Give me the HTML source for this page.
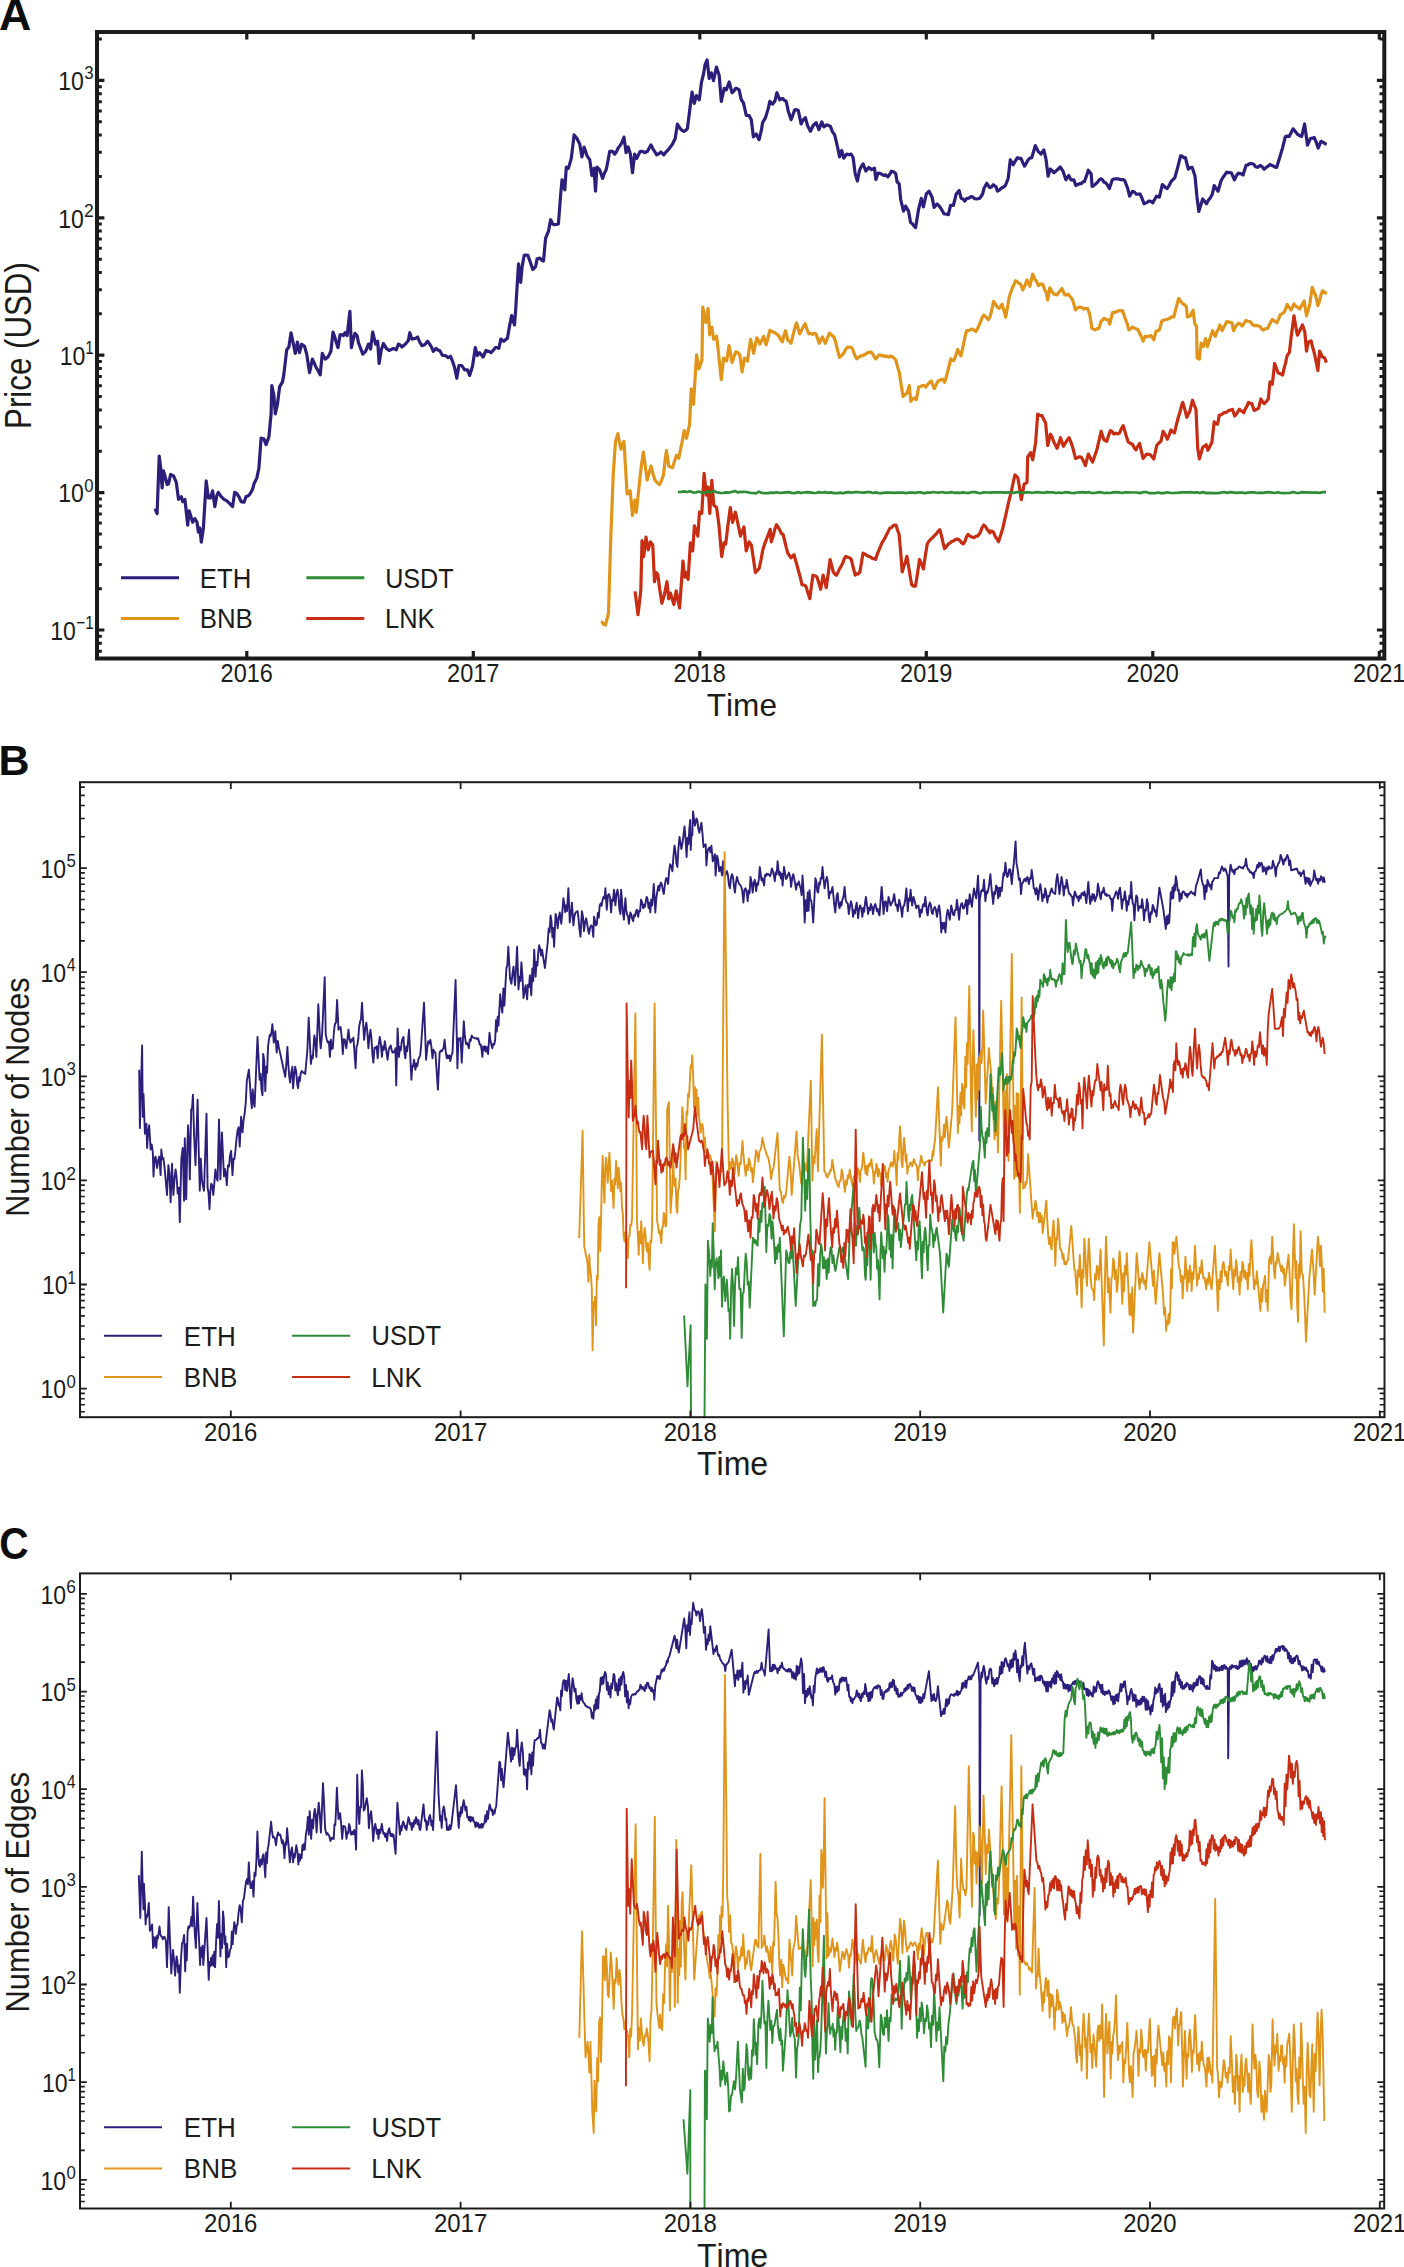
<!DOCTYPE html>
<html><head><meta charset="utf-8"><style>html,body{margin:0;padding:0;background:#fff;width:1404px;height:2267px;overflow:hidden}</style></head><body>
<svg width="1404" height="2267" viewBox="0 0 1404 2267" style="display:block;font-family:'Liberation Sans',sans-serif;font-kerning:none">
<rect width="1404" height="2267" fill="#ffffff"/>
<text transform="matrix(0.44716 0 0 0.43605 -1.114 30.000)" font-size="100" font-weight="bold" fill="#0d0d0d">A</text>
<path d="M155.0 508.7 L157.1 513.7 L159.2 456.0 L160.7 468.1 L162.1 488.0 L163.5 470.9 L165.6 478.1 L167.1 484.5 L168.5 483.8 L170.6 474.5 L173.5 475.9 L176.3 482.3 L178.5 499.4 L181.3 496.6 L182.7 501.6 L184.9 499.4 L187.7 525.1 L189.1 510.8 L190.9 516.4 L192.7 522.2 L194.8 518.7 L197.0 522.2 L198.4 532.2 L199.8 527.9 L201.3 542.2 L203.4 527.9 L206.2 480.9 L208.4 498.0 L210.5 498.0 L212.6 490.9 L214.8 506.6 L216.9 495.2 L218.3 492.3 L221.2 496.6 L224.0 499.4 L226.9 500.9 L229.7 503.7 L232.6 506.6 L234.7 492.3 L236.9 493.7 L239.0 496.9 L241.1 501.6 L244.0 502.3 L246.1 496.6 L247.9 496.0 L249.7 494.4 L252.5 489.5 L254.0 483.8 L256.8 478.1 L258.9 468.1 L261.1 438.2 L263.9 438.9 L266.1 444.6 L268.9 436.8 L271.1 414.0 L271.8 385.5 L273.9 395.4 L275.3 414.0 L277.5 404.0 L279.6 386.9 L282.5 381.9 L283.9 374.1 L286.7 349.9 L288.9 347.0 L291.0 332.8 L293.1 342.7 L295.3 353.4 L297.4 342.0 L299.5 352.7 L301.7 344.2 L304.5 346.3 L306.7 354.1 L309.5 372.6 L312.4 359.1 L314.1 362.7 L315.9 367.0 L318.1 370.7 L320.2 374.8 L322.3 353.4 L325.2 359.1 L328.0 357.0 L330.9 351.3 L333.0 332.1 L334.7 336.8 L336.3 342.6 L338.0 347.7 L340.0 334.9 L341.8 334.7 L343.5 335.6 L345.0 332.7 L347.1 335.6 L349.9 311.4 L351.4 347.7 L353.1 340.0 L354.9 333.4 L357.1 335.6 L358.5 342.7 L360.6 348.3 L362.8 354.1 L365.6 351.3 L368.5 344.1 L370.6 349.1 L372.7 332.0 L375.6 344.1 L377.7 341.3 L379.1 363.4 L381.3 349.8 L383.4 343.4 L386.3 348.4 L389.1 350.5 L391.3 349.6 L393.4 348.4 L396.2 349.8 L398.4 344.1 L400.2 345.0 L401.9 347.0 L403.7 345.6 L405.5 344.1 L408.3 340.6 L409.8 332.7 L411.9 339.1 L413.7 338.6 L415.5 338.4 L417.6 337.0 L419.7 342.0 L421.9 345.6 L424.7 344.8 L427.6 341.3 L429.7 344.1 L431.5 347.0 L433.3 351.3 L436.1 348.4 L437.9 350.2 L439.7 350.5 L442.5 355.5 L445.4 355.5 L448.2 357.7 L450.4 356.2 L452.5 361.2 L454.6 367.6 L456.8 378.3 L458.9 365.5 L461.8 365.5 L464.6 369.8 L467.5 369.8 L469.6 375.5 L472.5 366.2 L475.3 347.7 L477.4 355.5 L479.6 352.7 L481.4 354.7 L483.1 357.0 L486.0 350.5 L487.6 351.3 L489.3 351.4 L491.0 352.7 L493.1 350.5 L495.2 347.7 L497.0 347.6 L498.8 348.4 L500.9 339.1 L503.8 341.3 L505.6 339.6 L507.4 338.4 L509.5 326.3 L511.6 315.6 L514.5 324.9 L515.7 309.4 L518.5 263.8 L520.7 282.4 L522.1 266.7 L524.2 255.3 L526.0 255.0 L527.8 255.3 L529.9 261.0 L532.8 269.5 L535.6 266.7 L537.1 258.9 L539.9 258.1 L541.7 260.3 L543.5 261.0 L545.6 238.2 L548.5 231.1 L550.6 219.7 L552.7 224.0 L554.6 224.7 L556.5 224.4 L558.4 224.0 L560.6 195.5 L562.0 179.8 L564.8 189.8 L566.3 167.0 L568.4 168.4 L571.3 158.4 L574.1 134.9 L577.0 138.5 L579.8 144.2 L581.9 157.0 L584.1 147.0 L586.9 155.6 L589.8 159.9 L591.9 175.5 L594.0 168.4 L595.5 191.2 L596.9 167.0 L599.7 169.8 L602.6 178.4 L604.4 173.3 L606.2 169.8 L607.9 161.3 L609.7 151.3 L612.6 151.3 L614.7 154.2 L616.5 151.5 L618.3 147.7 L620.0 145.7 L621.8 142.8 L624.0 137.1 L626.1 152.7 L628.2 147.0 L630.4 154.2 L632.5 172.7 L634.6 154.2 L636.8 158.4 L638.6 154.4 L640.3 151.3 L642.5 151.4 L644.6 152.7 L647.5 151.3 L649.2 148.0 L651.0 144.9 L652.9 148.8 L654.8 151.7 L656.7 154.9 L658.9 153.8 L661.0 152.0 L663.8 154.9 L666.0 152.0 L668.1 149.9 L670.3 147.1 L672.4 144.2 L675.2 138.5 L677.4 124.2 L680.2 128.5 L682.0 130.3 L683.8 131.4 L685.6 130.5 L687.4 128.5 L688.9 116.8 L690.5 103.7 L692.1 92.0 L694.3 103.4 L696.4 95.6 L699.3 99.8 L701.4 82.7 L703.5 74.2 L705.0 64.9 L707.1 59.9 L709.2 78.5 L711.4 72.8 L713.5 80.6 L716.4 67.1 L719.2 75.6 L721.3 101.3 L724.2 88.4 L726.3 89.9 L729.2 82.0 L732.0 92.7 L733.8 91.2 L735.6 88.4 L737.4 88.7 L739.1 89.9 L741.3 99.8 L743.4 102.7 L746.3 115.5 L749.1 115.5 L751.3 119.8 L753.4 136.9 L756.2 134.0 L759.1 139.7 L761.2 131.2 L762.6 122.6 L765.5 117.6 L768.3 108.4 L769.8 101.3 L772.6 104.1 L774.8 101.3 L776.9 92.7 L779.7 99.8 L782.6 98.4 L784.4 100.3 L786.2 101.3 L788.3 111.2 L791.1 119.8 L792.9 114.9 L794.7 109.8 L796.5 109.7 L798.3 110.5 L801.1 124.0 L803.2 119.8 L805.4 117.6 L807.5 125.5 L810.4 131.2 L813.2 125.5 L816.1 122.6 L818.9 129.7 L821.8 121.9 L823.9 126.9 L826.8 124.8 L828.5 125.6 L830.3 126.2 L832.5 131.9 L834.6 134.7 L836.4 142.2 L838.1 149.7 L839.6 156.8 L841.7 150.4 L843.8 158.2 L846.7 154.0 L848.8 154.7 L851.0 154.0 L853.1 157.5 L855.2 173.9 L857.4 181.0 L859.5 170.3 L861.3 166.4 L863.1 163.9 L865.9 171.1 L868.8 167.5 L871.6 169.6 L874.5 168.2 L875.9 179.6 L878.0 173.2 L880.2 173.4 L882.3 174.6 L884.0 175.5 L885.7 174.8 L887.8 176.9 L889.6 174.6 L891.4 171.2 L893.5 171.7 L895.7 173.4 L897.1 181.9 L899.2 184.0 L900.7 199.7 L903.5 211.1 L905.6 206.1 L908.5 211.1 L910.6 222.5 L912.3 223.7 L914.0 225.9 L915.6 227.5 L918.5 209.7 L921.3 198.3 L923.4 206.8 L926.3 194.0 L929.1 191.2 L932.0 196.9 L934.1 207.5 L937.0 204.0 L939.1 205.9 L941.3 209.0 L944.1 214.0 L946.2 214.0 L948.4 214.7 L950.5 205.4 L953.4 205.4 L956.2 194.0 L959.1 190.5 L961.2 198.3 L963.0 199.0 L964.8 201.1 L966.9 198.3 L968.8 198.2 L970.7 196.7 L972.6 196.9 L974.7 198.7 L976.9 199.0 L979.7 198.3 L982.6 194.0 L984.0 188.3 L986.8 183.3 L989.7 187.6 L991.5 186.9 L993.2 184.8 L996.1 186.9 L997.5 191.2 L999.3 190.2 L1001.1 188.3 L1003.2 187.3 L1005.4 185.5 L1008.2 178.3 L1010.3 159.8 L1013.2 164.8 L1015.3 161.0 L1017.5 157.7 L1019.2 158.3 L1021.0 158.4 L1022.8 162.7 L1024.6 166.2 L1026.4 163.0 L1028.1 159.8 L1029.9 158.1 L1031.7 157.7 L1033.5 151.8 L1035.3 145.6 L1038.1 151.3 L1041.0 154.1 L1043.8 149.9 L1046.0 159.1 L1048.1 176.2 L1050.2 169.1 L1052.0 170.6 L1053.8 172.6 L1055.6 171.4 L1057.4 169.8 L1060.2 167.0 L1063.0 171.2 L1065.9 179.8 L1068.7 175.5 L1070.9 179.8 L1073.7 179.8 L1073.8 179.8 L1075.8 185.6 L1077.7 184.5 L1079.6 183.7 L1081.2 183.7 L1082.8 181.9 L1084.4 181.7 L1086.3 176.4 L1088.3 170.2 L1091.2 174.0 L1092.1 186.5 L1094.0 185.4 L1096.0 183.7 L1097.6 182.1 L1099.2 179.8 L1100.8 178.8 L1102.4 179.6 L1104.0 182.2 L1105.6 182.7 L1107.5 185.1 L1109.4 188.5 L1112.3 179.8 L1114.2 178.9 L1116.2 178.8 L1118.1 178.8 L1119.8 179.4 L1121.4 179.8 L1123.1 179.5 L1124.8 180.8 L1127.7 188.5 L1129.6 196.2 L1132.5 191.3 L1134.4 192.0 L1136.3 194.2 L1138.3 194.2 L1140.2 194.2 L1142.1 198.5 L1144.0 203.8 L1145.6 203.1 L1147.2 202.4 L1148.8 201.0 L1150.8 201.3 L1152.7 202.9 L1154.6 199.5 L1156.5 196.2 L1159.4 197.1 L1162.3 184.6 L1163.9 185.7 L1165.5 187.6 L1167.1 188.5 L1169.0 185.8 L1171.0 181.7 L1172.9 179.7 L1174.8 177.9 L1177.7 167.3 L1180.6 155.8 L1182.2 156.0 L1183.8 157.7 L1185.4 157.7 L1188.3 169.2 L1190.2 167.5 L1192.1 167.3 L1195.0 176.0 L1196.9 196.2 L1198.8 211.5 L1200.8 205.0 L1202.7 199.0 L1204.6 201.3 L1206.5 203.8 L1208.5 200.1 L1210.4 197.7 L1212.3 194.2 L1214.2 185.6 L1216.2 188.5 L1218.1 191.3 L1221.0 180.8 L1222.9 177.5 L1224.8 174.9 L1226.7 172.1 L1228.3 172.7 L1229.9 172.5 L1231.5 173.1 L1234.4 179.8 L1236.3 175.8 L1238.3 173.1 L1239.9 173.7 L1241.5 173.9 L1243.1 175.0 L1246.0 165.4 L1247.9 164.9 L1249.8 163.6 L1251.7 163.5 L1253.7 164.2 L1255.6 166.7 L1257.5 167.3 L1260.4 165.4 L1262.3 167.0 L1264.2 169.2 L1266.2 167.3 L1268.1 166.1 L1270.0 164.4 L1271.7 165.5 L1273.4 166.1 L1275.0 167.1 L1276.7 167.3 L1279.6 157.7 L1282.5 148.1 L1285.4 136.5 L1287.3 136.2 L1289.2 136.5 L1291.2 132.6 L1293.1 128.8 L1294.7 130.6 L1296.3 132.7 L1297.9 134.6 L1299.8 135.7 L1301.7 136.5 L1304.6 124.0 L1307.5 145.2 L1310.4 138.5 L1312.3 138.2 L1314.2 137.5 L1316.2 142.1 L1318.1 148.1 L1321.0 141.3 L1322.9 142.1 L1324.8 143.6 L1326.7 144.2" fill="none" stroke="#2a1f7a" stroke-width="3.2" stroke-linejoin="round" stroke-linecap="butt"/>
<path d="M600.8 622.0 L602.4 622.3 L603.9 624.5 L605.4 625.1 L607.0 619.3 L608.5 612.8 L610.8 537.1 L613.2 475.3 L615.5 441.4 L617.8 433.6 L619.3 441.2 L620.9 449.1 L622.4 445.1 L624.0 441.4 L625.5 467.2 L627.1 493.9 L628.6 492.7 L630.2 490.8 L632.5 515.5 L634.8 500.0 L636.3 512.4 L638.3 493.8 L640.2 475.3 L641.7 463.4 L643.3 452.2 L645.2 465.3 L647.1 480.0 L649.1 472.8 L651.0 466.1 L652.9 473.7 L654.9 480.0 L656.4 481.8 L658.0 483.3 L659.5 484.6 L661.4 480.7 L663.4 475.3 L664.9 462.2 L666.4 450.6 L668.8 466.1 L670.7 467.0 L672.6 467.6 L674.6 460.9 L676.5 455.3 L678.8 458.3 L680.3 450.5 L681.9 442.9 L684.2 430.5 L686.5 438.3 L688.1 430.8 L689.6 424.4 L691.2 388.8 L693.5 404.3 L695.0 379.3 L696.6 354.9 L698.9 368.8 L700.4 364.8 L702.0 359.5 L702.7 307.0 L704.3 315.1 L705.8 322.4 L708.1 308.5 L709.7 334.8 L712.0 327.1 L713.6 339.4 L715.1 338.4 L716.6 336.3 L718.2 350.1 L719.7 364.8 L721.3 379.6 L723.6 358.0 L725.1 360.0 L726.7 361.0 L729.0 345.6 L730.5 353.4 L732.1 362.6 L734.0 356.7 L735.9 351.8 L737.9 352.7 L739.8 354.9 L742.1 371.9 L744.4 358.0 L746.0 360.0 L747.5 361.0 L749.1 349.8 L750.6 339.4 L752.2 346.2 L753.7 353.3 L755.3 344.8 L756.8 337.9 L758.3 340.3 L759.9 344.1 L761.8 340.2 L763.7 336.3 L766.1 344.8 L768.0 338.0 L769.9 330.2 L772.2 331.7 L773.8 332.2 L775.3 333.2 L777.3 334.5 L779.2 336.3 L780.0 338.6 L782.4 341.7 L783.9 335.5 L785.5 330.7 L787.8 340.1 L789.4 341.1 L791.0 343.3 L793.3 333.9 L794.9 327.8 L796.5 322.9 L798.0 327.9 L799.6 333.9 L801.4 330.6 L803.2 326.9 L805.1 323.7 L807.0 329.5 L809.0 333.9 L810.8 333.5 L812.5 334.4 L814.3 333.2 L816.0 333.9 L817.6 338.6 L819.2 343.3 L820.7 340.2 L822.3 337.0 L823.9 340.4 L825.4 343.3 L827.4 338.0 L829.4 333.1 L830.9 334.4 L832.5 336.1 L834.1 337.0 L835.9 343.2 L837.7 350.6 L839.5 357.4 L841.1 356.0 L842.7 354.2 L844.2 352.3 L845.8 349.0 L847.4 347.2 L848.9 347.3 L850.5 347.0 L852.1 348.0 L853.6 351.9 L855.2 355.9 L856.8 358.9 L858.7 357.1 L860.7 355.8 L862.3 355.8 L863.8 355.0 L865.4 354.2 L867.2 352.7 L869.1 352.6 L870.9 351.9 L872.4 353.5 L874.0 356.3 L875.6 358.9 L877.1 357.5 L878.7 355.0 L880.3 354.8 L881.8 355.9 L883.4 355.5 L885.0 356.6 L886.7 356.0 L888.5 357.3 L890.3 355.9 L892.0 356.6 L894.0 358.0 L896.0 360.5 L897.5 366.7 L899.1 371.5 L901.0 383.7 L903.0 396.5 L905.0 394.5 L906.9 393.4 L909.3 385.6 L910.8 401.3 L912.4 399.0 L914.0 398.1 L916.3 399.7 L918.7 387.1 L920.6 386.4 L922.6 385.6 L924.2 385.7 L925.7 387.1 L927.6 384.6 L929.4 382.5 L931.2 380.9 L932.8 385.2 L934.3 388.7 L936.3 384.3 L938.3 380.9 L939.8 380.5 L941.4 379.4 L943.0 379.3 L944.5 382.4 L946.1 377.4 L947.7 371.5 L949.2 365.5 L950.8 358.9 L952.4 360.4 L953.9 360.5 L955.9 355.1 L957.8 349.5 L959.4 353.4 L961.0 355.8 L962.8 347.7 L964.6 338.6 L966.5 330.7 L968.0 330.6 L969.6 330.3 L971.2 329.2 L972.7 329.2 L974.3 330.3 L975.9 331.5 L977.4 328.7 L979.0 325.4 L980.6 321.7 L982.1 317.8 L983.7 315.1 L985.3 316.3 L986.8 317.8 L988.4 319.8 L990.0 317.0 L991.8 309.9 L993.6 301.3 L995.3 303.7 L997.1 307.0 L999.3 308.4 L1002.1 304.2 L1003.9 310.4 L1005.7 317.0 L1007.5 307.3 L1009.2 297.0 L1012.1 288.5 L1013.9 284.8 L1015.6 280.7 L1017.3 281.9 L1019.0 283.3 L1020.6 284.2 L1022.8 289.9 L1024.9 285.5 L1027.0 279.9 L1029.9 286.4 L1032.7 274.2 L1034.6 278.7 L1036.5 281.2 L1038.4 285.6 L1040.6 284.2 L1042.7 284.2 L1044.5 289.2 L1046.3 292.8 L1047.7 299.9 L1049.8 287.8 L1052.0 291.6 L1054.1 294.2 L1057.0 294.9 L1058.6 292.6 L1060.3 290.5 L1061.9 288.5 L1064.8 294.9 L1066.6 294.8 L1068.3 294.2 L1070.5 296.9 L1072.6 299.9 L1075.5 309.9 L1077.6 307.8 L1079.7 307.0 L1081.9 307.7 L1084.0 309.1 L1085.8 308.5 L1087.6 308.4 L1089.7 314.1 L1091.9 328.4 L1093.6 329.2 L1095.4 329.8 L1097.2 328.6 L1099.0 328.4 L1101.1 321.3 L1104.0 318.4 L1106.1 319.5 L1108.2 319.8 L1109.7 324.1 L1112.5 312.7 L1114.6 312.7 L1116.8 311.3 L1118.7 310.9 L1120.6 310.9 L1122.5 310.6 L1124.6 316.8 L1126.8 322.7 L1128.9 329.8 L1130.7 328.9 L1132.5 327.0 L1134.3 328.1 L1136.2 328.9 L1138.1 329.8 L1139.8 334.0 L1141.5 336.6 L1143.1 341.2 L1145.3 336.2 L1147.2 336.7 L1149.1 336.4 L1151.0 335.5 L1153.8 339.8 L1156.0 331.2 L1157.7 330.8 L1159.5 329.8 L1161.7 321.3 L1163.4 320.1 L1165.2 319.8 L1167.4 319.3 L1169.5 318.4 L1171.6 316.9 L1173.8 317.0 L1175.4 310.6 L1177.1 304.2 L1178.7 298.5 L1180.5 301.0 L1182.3 303.3 L1184.3 304.6 L1186.3 306.7 L1187.4 317.0 L1190.3 315.8 L1193.1 310.1 L1194.8 323.8 L1196.5 326.1 L1197.1 358.0 L1199.4 359.1 L1201.1 343.2 L1203.4 346.6 L1205.6 338.6 L1207.4 346.6 L1209.6 339.8 L1212.5 330.7 L1215.3 336.4 L1216.8 331.9 L1218.4 329.2 L1219.9 325.0 L1222.2 330.7 L1223.7 327.2 L1225.2 324.7 L1226.7 321.5 L1229.0 322.1 L1231.9 322.7 L1233.6 330.7 L1235.8 326.1 L1238.7 323.2 L1240.4 323.9 L1242.1 326.1 L1244.1 323.3 L1246.1 320.4 L1248.1 321.4 L1250.1 321.5 L1252.9 325.0 L1254.8 325.8 L1256.7 325.4 L1258.6 326.1 L1260.2 326.8 L1261.7 328.9 L1263.2 330.1 L1264.7 329.2 L1266.2 328.6 L1267.7 328.4 L1269.3 324.9 L1270.8 322.1 L1272.3 319.3 L1273.8 320.7 L1275.3 321.4 L1276.9 322.7 L1278.6 318.9 L1280.3 314.7 L1281.8 313.9 L1283.3 312.9 L1284.8 311.3 L1287.1 304.4 L1289.1 307.4 L1291.1 310.1 L1294.0 303.9 L1295.9 306.4 L1297.8 307.3 L1299.7 309.0 L1301.2 306.4 L1302.7 303.9 L1304.2 301.0 L1306.5 315.8 L1308.2 310.3 L1309.9 303.3 L1312.2 287.4 L1313.9 291.7 L1315.6 295.3 L1317.9 305.6 L1319.4 301.3 L1320.9 295.2 L1322.5 290.8 L1324.0 291.6 L1325.5 293.0 L1327.0 293.6" fill="none" stroke="#e0951a" stroke-width="3.2" stroke-linejoin="round" stroke-linecap="butt"/>
<path d="M635.1 591.4 L638.0 614.7 L640.8 590.8 L642.0 540.7 L643.7 556.6 L646.0 537.2 L648.2 549.8 L650.5 541.8 L652.8 545.2 L654.5 581.7 L656.2 572.6 L657.9 574.8 L659.6 588.5 L661.9 603.3 L664.2 595.4 L667.0 581.7 L668.7 598.8 L670.5 593.1 L672.2 599.1 L673.9 604.5 L676.2 590.8 L677.9 599.9 L679.6 607.9 L681.3 584.2 L683.0 561.2 L684.7 577.1 L685.8 572.6 L688.1 579.4 L690.4 542.9 L692.7 550.9 L694.4 525.8 L696.1 530.7 L697.8 536.1 L699.5 512.2 L701.8 513.3 L704.1 473.4 L706.4 495.1 L708.1 487.1 L709.8 513.3 L711.8 480.3 L713.8 505.3 L716.6 507.6 L718.9 524.7 L721.7 556.6 L724.0 542.9 L725.7 544.1 L728.0 524.7 L730.3 507.6 L732.6 522.4 L735.4 512.2 L737.1 520.0 L738.8 527.9 L740.5 536.1 L742.3 530.9 L744.0 527.0 L746.2 550.9 L749.1 541.8 L751.4 545.2 L753.4 558.7 L755.4 572.6 L757.4 570.5 L759.3 568.0 L761.1 559.3 L762.8 549.8 L764.8 543.6 L766.8 538.4 L768.5 534.0 L770.2 529.3 L771.3 541.8 L773.0 536.5 L774.7 529.8 L776.4 524.7 L778.1 527.0 L779.9 530.2 L781.6 533.8 L783.1 534.4 L784.7 541.0 L786.3 547.6 L787.8 553.2 L789.4 555.4 L791.0 557.9 L792.5 556.1 L794.1 554.8 L795.7 560.8 L797.2 566.0 L798.8 572.0 L800.4 577.6 L801.9 584.6 L803.9 585.0 L805.9 586.1 L807.8 592.6 L809.8 598.7 L811.3 586.9 L812.9 575.2 L814.9 575.7 L816.8 576.7 L818.8 582.8 L820.7 589.3 L823.1 575.2 L824.7 580.9 L826.2 587.7 L828.2 574.0 L830.1 559.5 L831.7 565.6 L833.3 572.0 L834.8 573.9 L836.4 575.2 L838.0 572.2 L839.5 568.9 L841.1 566.4 L842.7 563.1 L844.2 558.9 L845.8 556.4 L847.6 557.3 L849.5 557.7 L851.3 559.5 L853.3 567.8 L855.2 575.2 L856.8 573.7 L858.3 573.9 L859.9 572.0 L861.5 562.2 L863.0 553.2 L864.6 554.0 L866.2 554.8 L867.7 556.1 L869.3 556.4 L870.9 557.3 L872.4 558.6 L874.0 558.4 L875.6 559.5 L877.1 554.7 L878.7 550.6 L880.3 547.0 L881.8 543.1 L883.4 540.7 L885.0 537.9 L886.5 534.7 L888.1 531.7 L889.7 528.2 L891.3 527.8 L892.8 526.0 L894.4 525.1 L896.0 525.0 L897.5 530.0 L899.1 534.4 L900.7 552.4 L902.2 572.0 L903.8 566.6 L905.4 561.7 L906.9 556.4 L908.5 566.0 L910.1 575.4 L911.6 584.6 L913.6 586.1 L915.5 586.1 L917.5 573.6 L919.5 559.5 L921.4 563.9 L923.4 568.9 L925.3 556.1 L927.3 543.8 L929.1 541.0 L930.9 539.1 L932.8 537.6 L934.5 535.5 L936.3 533.9 L938.1 531.3 L939.8 529.7 L941.4 535.4 L943.0 542.6 L944.5 548.5 L946.5 546.5 L948.4 543.8 L950.3 542.8 L952.1 541.2 L953.9 540.7 L955.9 539.4 L957.8 539.1 L959.7 540.3 L961.5 542.8 L963.3 543.8 L964.9 541.4 L966.5 536.8 L968.0 534.4 L969.6 535.9 L971.2 536.7 L972.7 537.3 L974.3 537.6 L975.9 536.1 L977.4 536.2 L979.0 534.4 L980.6 531.8 L982.1 527.6 L983.7 525.0 L985.3 526.3 L986.8 528.8 L988.4 531.0 L990.0 532.9 L990.0 531.1 L991.8 531.0 L993.6 532.5 L995.2 536.3 L996.9 538.9 L998.5 541.7 L1000.7 535.0 L1002.8 528.2 L1005.7 515.4 L1008.5 502.6 L1011.4 491.2 L1013.1 483.0 L1014.9 474.8 L1017.8 477.6 L1019.6 488.0 L1021.3 499.7 L1024.2 484.0 L1027.0 482.6 L1027.7 457.0 L1030.6 452.7 L1032.7 459.8 L1035.6 442.7 L1037.7 414.2 L1039.9 415.4 L1042.0 415.7 L1043.8 419.6 L1045.6 422.8 L1047.7 445.6 L1050.5 434.2 L1052.1 437.0 L1053.7 441.8 L1055.3 444.6 L1057.0 448.4 L1058.7 443.8 L1060.5 437.7 L1063.4 446.3 L1065.3 443.2 L1067.2 440.1 L1069.1 437.7 L1070.8 441.9 L1072.6 447.0 L1075.5 458.4 L1077.4 457.7 L1079.3 456.8 L1081.2 457.0 L1083.3 460.7 L1085.4 465.5 L1088.3 454.1 L1090.4 458.0 L1092.6 462.0 L1094.7 456.0 L1096.8 449.9 L1099.0 440.7 L1101.1 431.3 L1104.0 439.9 L1106.8 441.3 L1108.6 435.4 L1110.4 430.6 L1112.2 431.6 L1113.9 434.2 L1115.8 433.1 L1117.7 433.9 L1119.6 432.8 L1121.4 428.6 L1123.2 425.6 L1124.9 431.4 L1126.5 436.7 L1128.2 442.0 L1130.3 443.3 L1132.5 444.2 L1134.2 447.7 L1136.0 449.9 L1137.8 446.3 L1139.6 443.4 L1141.4 451.3 L1143.1 458.4 L1144.9 456.3 L1146.7 454.1 L1148.5 454.3 L1150.3 454.8 L1152.0 456.8 L1153.8 459.1 L1156.7 445.6 L1158.8 443.0 L1160.9 441.3 L1163.1 431.3 L1165.2 434.6 L1167.4 439.2 L1169.1 435.2 L1170.9 429.9 L1172.7 431.6 L1174.5 432.8 L1176.3 425.1 L1178.0 418.5 L1180.2 411.2 L1182.3 402.8 L1182.8 402.5 L1184.8 409.4 L1186.8 417.3 L1189.7 411.6 L1192.5 400.2 L1194.2 405.0 L1196.0 409.3 L1197.7 448.0 L1199.4 458.9 L1201.1 453.0 L1202.8 446.9 L1204.5 446.2 L1206.2 444.6 L1207.9 450.3 L1209.9 446.2 L1211.9 442.3 L1214.2 421.8 L1215.9 423.7 L1217.6 424.1 L1219.3 415.0 L1220.9 414.8 L1222.5 413.8 L1224.0 412.7 L1225.6 412.7 L1227.3 411.5 L1229.0 410.4 L1230.7 410.2 L1232.4 409.3 L1234.7 416.1 L1236.2 414.3 L1237.7 412.0 L1239.3 409.3 L1240.8 410.6 L1242.3 411.4 L1243.8 412.7 L1245.3 408.9 L1246.9 406.4 L1248.4 402.5 L1250.1 403.3 L1251.8 403.6 L1254.1 410.4 L1255.6 409.9 L1257.1 409.0 L1258.6 408.1 L1260.9 399.0 L1262.6 401.8 L1264.3 403.6 L1266.3 401.5 L1268.3 399.0 L1270.0 381.9 L1272.3 384.2 L1274.6 363.7 L1276.3 367.9 L1278.0 372.8 L1279.5 373.4 L1281.0 374.0 L1282.6 375.1 L1284.1 368.3 L1285.6 362.8 L1287.1 355.7 L1289.4 352.3 L1291.1 337.5 L1294.0 315.8 L1295.7 325.9 L1297.4 335.2 L1299.1 332.0 L1300.8 328.3 L1302.5 325.0 L1304.8 331.8 L1306.5 351.2 L1308.2 342.1 L1311.1 340.9 L1312.6 347.0 L1314.1 352.4 L1315.6 359.1 L1317.9 370.5 L1319.6 351.2 L1322.5 356.9 L1324.7 358.0 L1326.4 362.6" fill="none" stroke="#c62d13" stroke-width="3.2" stroke-linejoin="round" stroke-linecap="butt"/>
<path d="M678.0 491.8 L681.0 492.0 L684.0 491.4 L687.0 492.0 L690.0 491.2 L693.0 492.5 L696.0 492.4 L699.0 491.5 L702.0 492.8 L705.0 492.5 L708.0 491.4 L711.0 492.5 L714.0 490.9 L717.0 492.4 L720.0 492.9 L723.0 493.0 L726.0 492.4 L729.0 492.7 L732.0 491.7 L735.0 491.1 L738.0 492.4 L741.0 491.8 L744.0 491.8 L747.0 492.0 L750.0 492.8 L753.0 493.0 L756.0 493.3 L759.0 491.6 L762.0 493.0 L765.0 493.2 L768.0 493.1 L771.0 492.7 L774.0 492.9 L777.0 492.3 L780.0 493.0 L783.0 492.7 L786.0 492.3 L789.0 492.1 L792.0 493.0 L795.0 493.2 L798.0 492.1 L801.0 493.0 L804.0 492.5 L807.0 492.2 L810.0 492.4 L813.0 492.9 L816.0 493.0 L819.0 492.1 L822.0 492.7 L825.0 492.1 L828.0 492.9 L831.0 492.4 L834.0 493.1 L837.0 493.2 L840.0 492.6 L843.0 493.2 L846.0 492.4 L849.0 492.1 L852.0 492.7 L855.0 492.0 L858.0 492.2 L861.0 492.5 L864.0 492.7 L867.0 492.2 L870.0 492.1 L873.0 493.0 L876.0 492.4 L879.0 493.2 L882.0 493.1 L885.0 492.5 L888.0 492.6 L891.0 492.6 L894.0 492.8 L897.0 492.7 L900.0 492.7 L903.0 492.7 L906.0 493.1 L909.0 492.6 L912.0 492.5 L915.0 492.9 L918.0 492.3 L921.0 492.4 L924.0 493.2 L927.0 492.6 L930.0 492.7 L933.0 492.0 L936.0 492.5 L939.0 492.7 L942.0 492.0 L945.0 492.7 L948.0 492.8 L951.0 492.1 L954.0 492.8 L957.0 492.6 L960.0 492.8 L963.0 492.4 L966.0 492.8 L969.0 492.9 L972.0 492.0 L975.0 492.1 L978.0 492.8 L981.0 493.2 L984.0 492.3 L987.0 492.5 L990.0 492.7 L993.0 492.4 L996.0 492.4 L999.0 492.4 L1002.0 492.4 L1005.0 492.7 L1008.0 492.4 L1011.0 492.5 L1014.0 492.9 L1017.0 492.0 L1020.0 492.7 L1023.0 492.9 L1026.0 492.4 L1029.0 492.3 L1032.0 493.0 L1035.0 492.3 L1038.0 492.2 L1041.0 492.5 L1044.0 492.8 L1047.0 492.1 L1050.0 492.4 L1053.0 492.4 L1056.0 493.0 L1059.0 492.5 L1062.0 493.0 L1065.0 492.2 L1068.0 492.4 L1071.0 492.8 L1074.0 493.1 L1077.0 492.5 L1080.0 492.3 L1083.0 492.1 L1086.0 492.6 L1089.0 492.2 L1092.0 493.0 L1095.0 493.0 L1098.0 492.2 L1101.0 492.3 L1104.0 493.0 L1107.0 492.8 L1110.0 493.0 L1113.0 492.4 L1116.0 492.2 L1119.0 492.4 L1122.0 493.0 L1125.0 492.3 L1128.0 492.4 L1131.0 492.5 L1134.0 492.5 L1137.0 492.5 L1140.0 493.1 L1143.0 492.2 L1146.0 492.0 L1149.0 493.1 L1152.0 493.1 L1155.0 493.2 L1158.0 492.5 L1161.0 493.1 L1164.0 493.1 L1167.0 492.3 L1170.0 492.9 L1173.0 493.0 L1176.0 492.8 L1179.0 492.6 L1182.0 492.3 L1185.0 492.4 L1188.0 492.3 L1191.0 492.1 L1194.0 492.7 L1197.0 492.3 L1200.0 493.0 L1203.0 492.1 L1206.0 493.1 L1209.0 492.8 L1212.0 493.1 L1215.0 493.1 L1218.0 493.1 L1221.0 492.7 L1224.0 492.0 L1227.0 492.9 L1230.0 492.2 L1233.0 492.4 L1236.0 492.8 L1239.0 492.6 L1242.0 492.5 L1245.0 493.1 L1248.0 492.7 L1251.0 492.4 L1254.0 492.3 L1257.0 493.0 L1260.0 492.6 L1263.0 492.9 L1266.0 492.4 L1269.0 492.2 L1272.0 492.6 L1275.0 493.0 L1278.0 492.2 L1281.0 493.0 L1284.0 493.1 L1287.0 493.0 L1290.0 493.0 L1293.0 492.0 L1296.0 492.8 L1299.0 493.0 L1302.0 492.1 L1305.0 492.3 L1308.0 492.3 L1311.0 492.6 L1314.0 492.5 L1317.0 492.6 L1320.0 492.9 L1323.0 492.0 L1326.0 492.1" fill="none" stroke="#2e8b36" stroke-width="2.7" stroke-linejoin="round" stroke-linecap="butt"/>
<rect x="97.00" y="32.00" width="1287.30" height="626.50" fill="none" stroke="#1b1b19" stroke-width="4.0"/>
<path d="M97.00 630.00H104.40M1384.30 630.00H1376.90M97.00 492.60H104.40M1384.30 492.60H1376.90M97.00 355.20H104.40M1384.30 355.20H1376.90M97.00 217.80H104.40M1384.30 217.80H1376.90M97.00 80.40H104.40M1384.30 80.40H1376.90M246.80 658.50V651.10M246.80 32.00V39.40M473.30 658.50V651.10M473.30 32.00V39.40M699.80 658.50V651.10M699.80 32.00V39.40M926.30 658.50V651.10M926.30 32.00V39.40M1152.80 658.50V651.10M1152.80 32.00V39.40M1379.30 658.50V651.10M1379.30 32.00V39.40" stroke="#1b1b19" stroke-width="3.2" fill="none"/>
<path d="M97.00 651.28H101.80M1384.30 651.28H1379.50M97.00 643.32H101.80M1384.30 643.32H1379.50M97.00 636.29H101.80M1384.30 636.29H1379.50M97.00 588.64H101.80M1384.30 588.64H1379.50M97.00 564.44H101.80M1384.30 564.44H1379.50M97.00 547.28H101.80M1384.30 547.28H1379.50M97.00 533.96H101.80M1384.30 533.96H1379.50M97.00 523.08H101.80M1384.30 523.08H1379.50M97.00 513.88H101.80M1384.30 513.88H1379.50M97.00 505.92H101.80M1384.30 505.92H1379.50M97.00 498.89H101.80M1384.30 498.89H1379.50M97.00 451.24H101.80M1384.30 451.24H1379.50M97.00 427.04H101.80M1384.30 427.04H1379.50M97.00 409.88H101.80M1384.30 409.88H1379.50M97.00 396.56H101.80M1384.30 396.56H1379.50M97.00 385.68H101.80M1384.30 385.68H1379.50M97.00 376.48H101.80M1384.30 376.48H1379.50M97.00 368.52H101.80M1384.30 368.52H1379.50M97.00 361.49H101.80M1384.30 361.49H1379.50M97.00 313.84H101.80M1384.30 313.84H1379.50M97.00 289.64H101.80M1384.30 289.64H1379.50M97.00 272.48H101.80M1384.30 272.48H1379.50M97.00 259.16H101.80M1384.30 259.16H1379.50M97.00 248.28H101.80M1384.30 248.28H1379.50M97.00 239.08H101.80M1384.30 239.08H1379.50M97.00 231.12H101.80M1384.30 231.12H1379.50M97.00 224.09H101.80M1384.30 224.09H1379.50M97.00 176.44H101.80M1384.30 176.44H1379.50M97.00 152.24H101.80M1384.30 152.24H1379.50M97.00 135.08H101.80M1384.30 135.08H1379.50M97.00 121.76H101.80M1384.30 121.76H1379.50M97.00 110.88H101.80M1384.30 110.88H1379.50M97.00 101.68H101.80M1384.30 101.68H1379.50M97.00 93.72H101.80M1384.30 93.72H1379.50M97.00 86.69H101.80M1384.30 86.69H1379.50M97.00 39.04H101.80M1384.30 39.04H1379.50" stroke="#1b1b19" stroke-width="3.0" fill="none"/>
<text transform="matrix(0.15355 0 0 0.18605 76.243 629.200)" font-size="100" font-weight="normal" fill="#1b1b19">−1</text>
<text transform="matrix(0.23068 0 0 0.26130 50.243 639.745)" font-size="100" font-weight="normal" fill="#1b1b19">10</text>
<text transform="matrix(0.16735 0 0 0.18079 84.346 491.623)" font-size="100" font-weight="normal" fill="#1b1b19">0</text>
<text transform="matrix(0.23068 0 0 0.26130 58.243 502.345)" font-size="100" font-weight="normal" fill="#1b1b19">10</text>
<text transform="matrix(0.15076 0 0 0.18605 85.352 354.400)" font-size="100" font-weight="normal" fill="#1b1b19">1</text>
<text transform="matrix(0.23068 0 0 0.26130 59.743 364.945)" font-size="100" font-weight="normal" fill="#1b1b19">10</text>
<text transform="matrix(0.17561 0 0 0.18332 84.117 217.000)" font-size="100" font-weight="normal" fill="#1b1b19">2</text>
<text transform="matrix(0.23068 0 0 0.26130 58.243 227.545)" font-size="100" font-weight="normal" fill="#1b1b19">10</text>
<text transform="matrix(0.16873 0 0 0.18079 84.357 79.423)" font-size="100" font-weight="normal" fill="#1b1b19">3</text>
<text transform="matrix(0.23068 0 0 0.26130 58.243 90.145)" font-size="100" font-weight="normal" fill="#1b1b19">10</text>
<text transform="matrix(0.23470 0 0 0.25423 220.620 681.752)" font-size="100" font-weight="normal" fill="#1b1b19">2016</text>
<text transform="matrix(0.23540 0 0 0.25423 447.116 681.752)" font-size="100" font-weight="normal" fill="#1b1b19">2017</text>
<text transform="matrix(0.23465 0 0 0.25423 673.620 681.752)" font-size="100" font-weight="normal" fill="#1b1b19">2018</text>
<text transform="matrix(0.23508 0 0 0.25423 900.118 681.752)" font-size="100" font-weight="normal" fill="#1b1b19">2019</text>
<text transform="matrix(0.23416 0 0 0.25423 1126.622 681.752)" font-size="100" font-weight="normal" fill="#1b1b19">2020</text>
<text transform="matrix(0.23524 0 0 0.25423 1353.117 681.752)" font-size="100" font-weight="normal" fill="#1b1b19">2021</text>
<text transform="matrix(0.31597 0 0 0.32000 706.790 715.587)" font-size="100" font-weight="normal" fill="#1b1b19">Time</text>
<text transform="matrix(0 -0.31294 0.37353 0 31.067 428.967)" font-size="100" font-weight="normal" fill="#1b1b19">Price (USD)</text>
<path d="M121.0 577.8H179.0" stroke="#2a1f7a" stroke-width="3"/>
<text transform="matrix(0.25757 0 0 0.28344 199.787 587.800)" font-size="100" font-weight="normal" fill="#1b1b19">ETH</text>
<path d="M121.0 618.4H179.0" stroke="#e0951a" stroke-width="3"/>
<text transform="matrix(0.25815 0 0 0.28344 199.782 628.400)" font-size="100" font-weight="normal" fill="#1b1b19">BNB</text>
<path d="M306.3 577.8H364.3" stroke="#2e8b36" stroke-width="3"/>
<text transform="matrix(0.25171 0 0 0.27542 385.158 587.531)" font-size="100" font-weight="normal" fill="#1b1b19">USDT</text>
<path d="M306.3 618.4H364.3" stroke="#c62d13" stroke-width="3"/>
<text transform="matrix(0.25431 0 0 0.28344 385.014 628.400)" font-size="100" font-weight="normal" fill="#1b1b19">LNK</text>
<text transform="matrix(0.42960 0 0 0.43169 -1.474 774.700)" font-size="100" font-weight="bold" fill="#0d0d0d">B</text>
<clipPath id="cB"><rect x="80.0" y="782.2" width="1304.5" height="635.0"/></clipPath>
<g clip-path="url(#cB)">
<path d="M139.2 1069.7 L139.9 1128.1 L142.1 1045.5 L142.8 1116.7 L143.5 1093.9 L144.9 1133.8 L146.4 1123.8 L147.1 1148.0 L148.1 1132.3 L149.2 1125.2 L150.6 1149.5 L151.7 1144.4 L152.8 1152.3 L153.5 1176.5 L154.5 1158.6 L155.6 1156.6 L157.0 1168.0 L158.1 1160.4 L159.2 1156.6 L160.6 1175.1 L161.3 1149.5 L162.4 1159.4 L163.4 1158.0 L164.5 1167.1 L165.6 1179.4 L167.0 1195.0 L168.4 1165.1 L169.5 1174.0 L170.6 1202.2 L172.0 1163.7 L173.4 1195.0 L174.5 1179.0 L175.6 1169.4 L176.6 1177.2 L177.7 1193.6 L178.8 1187.6 L179.8 1222.1 L181.3 1159.4 L182.7 1148.0 L184.1 1200.7 L184.8 1138.1 L186.2 1199.3 L187.2 1151.5 L188.1 1125.2 L188.9 1139.9 L189.8 1179.4 L191.2 1109.6 L192.1 1107.8 L192.9 1094.6 L194.1 1135.2 L195.5 1165.1 L196.6 1129.7 L197.6 1099.6 L198.7 1149.8 L199.8 1190.8 L200.8 1158.8 L201.9 1179.4 L203.0 1186.6 L204.0 1190.8 L206.5 1113.8 L207.6 1187.9 L208.5 1192.8 L209.5 1209.3 L210.3 1191.7 L211.2 1183.6 L212.2 1185.5 L213.3 1195.0 L214.4 1182.2 L215.4 1169.4 L216.5 1177.7 L217.6 1180.8 L219.0 1119.5 L220.4 1179.4 L221.9 1132.4 L224.0 1176.5 L224.9 1169.0 L225.9 1174.5 L226.8 1185.1 L227.9 1165.5 L229.0 1166.6 L230.0 1155.7 L231.1 1150.9 L232.5 1175.1 L233.5 1158.6 L234.4 1158.9 L235.4 1150.9 L236.5 1138.8 L237.5 1130.9 L238.6 1127.3 L239.7 1146.6 L241.1 1116.7 L242.5 1132.4 L243.6 1119.8 L244.6 1113.8 L245.7 1103.7 L246.8 1081.1 L248.9 1069.7 L249.9 1084.0 L250.8 1097.4 L251.8 1108.1 L252.7 1089.5 L253.7 1102.6 L254.6 1106.7 L257.5 1036.9 L259.6 1079.7 L260.6 1073.9 L261.5 1089.6 L262.5 1095.3 L263.2 1054.0 L264.2 1060.4 L265.3 1091.1 L266.2 1066.7 L267.1 1072.9 L268.0 1047.2 L268.9 1039.8 L269.8 1035.0 L270.6 1036.2 L271.5 1032.1 L272.4 1024.1 L273.8 1042.6 L275.3 1031.2 L276.7 1052.6 L277.8 1040.9 L278.8 1046.9 L285.2 1076.8 L286.3 1064.6 L287.4 1046.9 L288.3 1064.4 L289.3 1077.0 L290.2 1082.5 L291.3 1072.6 L292.4 1066.8 L293.1 1088.2 L294.1 1075.5 L295.2 1066.8 L296.2 1071.8 L297.1 1083.2 L298.1 1088.2 L299.0 1077.2 L299.8 1081.4 L300.7 1073.4 L301.6 1071.1 L302.5 1071.7 L303.4 1072.9 L304.3 1072.4 L305.2 1074.0 L306.3 1062.0 L307.3 1051.2 L308.7 1017.7 L310.9 1064.0 L311.9 1056.3 L312.8 1058.3 L314.3 1035.5 L315.3 1040.9 L316.4 1056.9 L318.3 1004.2 L320.0 1039.8 L320.7 1048.3 L322.1 1034.1 L324.7 977.1 L325.7 1034.1 L326.7 1039.2 L327.8 1042.6 L328.9 1041.5 L329.9 1056.9 L330.9 1039.6 L331.8 1049.1 L332.8 1048.3 L333.9 1032.0 L334.9 1024.1 L336.0 1022.6 L337.1 999.9 L338.5 1029.8 L339.6 1027.7 L340.6 1027.0 L341.7 1037.0 L342.8 1054.0 L343.8 1039.2 L344.9 1039.8 L346.3 1048.3 L347.4 1039.1 L348.5 1029.8 L349.5 1039.4 L350.6 1042.6 L351.5 1039.4 L352.5 1040.5 L353.4 1037.6 L355.6 1068.3 L356.5 1047.0 L357.4 1044.5 L358.3 1038.5 L359.1 1027.0 L360.1 1021.8 L361.0 1019.1 L362.0 1002.7 L363.1 1022.1 L364.1 1039.8 L365.2 1029.4 L366.3 1022.7 L367.3 1031.1 L368.4 1048.3 L369.5 1036.2 L370.5 1029.8 L371.5 1038.8 L372.4 1054.1 L373.4 1062.6 L374.5 1047.7 L375.5 1048.3 L376.6 1046.3 L377.7 1058.3 L378.7 1044.6 L379.8 1036.9 L380.9 1043.9 L381.9 1056.9 L382.9 1046.5 L383.8 1049.8 L384.8 1041.2 L385.7 1047.2 L386.7 1053.9 L387.6 1059.7 L388.7 1049.8 L389.8 1046.9 L390.7 1045.4 L391.7 1050.3 L392.6 1052.6 L393.6 1051.2 L394.5 1052.6 L395.5 1048.3 L396.2 1085.4 L397.6 1028.4 L399.0 1056.9 L399.9 1047.0 L400.8 1050.3 L401.7 1041.8 L402.6 1038.3 L403.5 1037.1 L404.5 1053.2 L405.4 1058.3 L406.3 1046.4 L407.2 1051.4 L408.1 1040.4 L409.0 1029.8 L411.4 1079.7 L412.3 1065.9 L413.1 1066.6 L414.0 1059.7 L415.4 1069.7 L416.4 1063.4 L417.3 1066.2 L418.3 1059.7 L419.2 1057.6 L420.2 1055.4 L421.1 1045.5 L424.0 1002.7 L426.1 1059.7 L427.2 1048.4 L428.2 1041.2 L429.3 1043.5 L430.4 1039.8 L431.4 1046.9 L432.5 1058.3 L433.5 1049.8 L434.4 1051.8 L435.4 1052.6 L437.9 1089.6 L439.6 1052.6 L440.6 1050.7 L441.5 1051.6 L442.5 1049.7 L443.5 1048.4 L444.6 1039.8 L445.7 1051.2 L446.8 1058.3 L447.6 1055.3 L448.5 1058.1 L449.4 1055.4 L450.3 1061.1 L451.4 1055.8 L452.5 1052.6 L455.6 979.9 L457.4 1068.3 L458.5 1038.2 L459.6 1039.8 L460.6 1037.9 L461.7 1062.6 L462.8 1042.3 L463.8 1021.3 L464.9 1036.5 L466.0 1044.0 L466.9 1042.7 L467.9 1045.1 L468.8 1048.3 L469.8 1039.4 L470.7 1040.9 L471.7 1035.5 L472.6 1037.4 L473.5 1037.7 L474.4 1038.0 L475.2 1038.3 L476.2 1038.1 L477.1 1039.2 L478.1 1038.3 L478.9 1041.3 L479.8 1044.8 L480.7 1044.4 L481.5 1049.0 L482.4 1056.9 L483.2 1046.5 L484.1 1050.1 L484.9 1046.3 L485.8 1051.7 L486.6 1046.9 L488.1 1054.0 L489.5 1032.6 L490.4 1040.1 L491.4 1044.5 L492.3 1048.3 L493.3 1044.0 L494.2 1044.5 L495.2 1039.8 L496.0 1020.1 L496.8 1031.5 L497.7 1016.7 L498.5 1025.6 L499.3 1010.5 L500.2 994.2 L501.2 1004.6 L502.3 1012.7 L503.4 988.5 L504.4 1005.6 L505.4 985.5 L506.4 968.1 L507.3 965.2 L508.3 946.7 L510.0 978.1 L511.4 983.8 L512.5 973.7 L513.5 966.7 L515.0 985.2 L516.0 969.3 L517.1 946.7 L518.5 989.5 L519.5 976.7 L520.4 981.1 L521.4 962.4 L522.4 976.0 L523.5 998.0 L524.6 990.8 L525.6 985.2 L527.1 999.4 L528.0 984.8 L529.0 987.0 L529.9 975.2 L531.3 995.2 L532.3 968.4 L533.2 981.0 L534.2 949.6 L535.6 976.6 L536.5 961.9 L537.4 965.6 L538.3 951.8 L539.2 945.3 L540.1 948.8 L541.1 955.5 L542.0 949.6 L544.9 968.1 L547.7 942.5 L548.7 928.4 L549.6 932.1 L550.6 915.4 L551.5 921.5 L552.4 937.2 L553.2 927.9 L554.1 946.7 L555.6 914.0 L556.6 918.0 L557.7 928.2 L558.8 917.3 L559.8 912.5 L561.3 923.9 L562.3 912.2 L563.4 898.3 L564.3 904.0 L565.2 912.1 L566.1 905.5 L567.0 911.1 L568.4 888.3 L569.8 922.5 L570.9 913.4 L571.9 902.6 L573.4 925.4 L574.4 916.4 L575.5 912.5 L576.6 911.8 L577.6 911.1 L578.6 919.2 L579.5 929.7 L580.5 936.8 L581.9 911.1 L583.0 917.0 L584.0 931.1 L585.1 922.3 L586.2 918.2 L587.1 923.3 L588.1 929.9 L589.0 933.9 L590.1 927.7 L591.2 925.4 L592.2 926.6 L593.3 936.8 L594.0 916.8 L595.0 920.7 L595.9 925.6 L596.9 923.9 L597.8 913.0 L598.8 917.6 L599.7 905.4 L600.7 903.4 L601.6 905.8 L602.6 899.7 L603.5 896.9 L604.5 898.6 L605.4 888.3 L606.8 909.7 L607.9 895.3 L609.0 894.0 L610.0 897.4 L611.1 912.5 L612.1 899.7 L613.0 900.8 L614.0 889.7 L615.4 905.4 L616.5 893.6 L617.5 889.7 L618.5 896.5 L619.4 909.1 L620.4 914.0 L621.1 889.7 L622.0 900.8 L623.0 913.4 L623.9 919.7 L625.4 898.3 L626.2 909.9 L627.1 914.8 L628.0 916.1 L628.9 923.9 L630.3 912.5 L631.3 914.5 L632.2 918.6 L633.2 921.1 L634.1 914.9 L635.0 916.2 L635.9 911.8 L636.8 909.7 L638.2 916.8 L639.1 910.7 L640.1 911.3 L641.0 899.7 L642.1 902.4 L643.2 908.3 L644.1 904.6 L644.9 906.9 L645.8 901.3 L646.7 896.9 L647.6 899.3 L648.5 908.0 L649.4 902.6 L650.3 912.5 L651.2 899.6 L652.1 905.6 L653.0 895.2 L653.8 884.0 L655.3 912.5 L656.3 898.0 L657.4 891.2 L658.3 886.0 L659.2 890.6 L660.1 884.8 L661.0 882.6 L661.9 884.6 L662.9 890.5 L663.8 894.0 L664.9 884.5 L666.0 878.3 L667.0 878.5 L668.1 884.0 L669.2 870.2 L670.2 864.1 L671.3 866.4 L672.4 871.2 L673.4 856.6 L674.5 845.6 L675.5 851.6 L676.4 863.4 L677.4 867.0 L678.4 848.6 L679.5 837.0 L680.4 842.4 L681.4 849.0 L682.3 844.2 L683.4 835.9 L684.5 826.4 L685.5 838.0 L686.6 857.0 L687.5 837.9 L688.4 844.3 L689.3 829.4 L690.2 819.9 L690.7 849.9 L691.5 833.5 L692.3 835.2 L693.1 811.4 L694.1 820.5 L695.0 825.6 L696.4 818.5 L697.4 820.7 L698.3 828.6 L699.3 832.8 L700.3 827.9 L701.4 822.8 L702.5 833.8 L703.5 847.0 L704.6 845.0 L705.7 844.2 L706.4 865.5 L707.5 851.6 L708.5 848.4 L709.5 847.6 L710.4 852.3 L711.4 845.6 L712.8 861.3 L713.9 858.2 L714.9 854.1 L715.6 875.5 L717.1 855.6 L718.1 860.0 L719.2 871.2 L720.6 867.0 L722.1 875.5 L723.0 861.3 L724.0 869.2 L724.9 876.9 L726.0 873.4 L727.0 871.2 L728.0 875.4 L728.9 884.8 L729.9 888.3 L731.0 877.7 L732.0 874.1 L733.0 877.4 L733.9 885.3 L734.9 892.6 L735.9 882.8 L737.0 876.9 L738.1 881.5 L739.1 884.0 L740.2 884.9 L741.3 886.9 L742.4 891.8 L743.4 902.6 L744.5 889.5 L745.6 888.3 L746.6 891.5 L747.7 901.1 L748.6 890.5 L749.6 893.3 L750.5 876.9 L751.6 882.3 L752.7 892.6 L753.7 883.0 L754.8 879.8 L756.2 891.2 L757.1 883.2 L758.0 884.9 L758.9 878.9 L759.8 867.0 L760.7 873.9 L761.5 880.3 L762.4 878.1 L763.2 881.7 L764.1 885.5 L764.9 875.1 L765.8 876.1 L766.6 873.6 L767.5 874.7 L768.3 874.1 L769.2 874.8 L770.1 876.3 L771.0 873.2 L771.9 868.4 L772.9 871.1 L773.8 874.9 L774.8 881.2 L775.7 872.3 L776.7 874.3 L777.6 861.3 L778.4 868.8 L779.3 875.4 L780.1 872.1 L780.9 878.5 L781.8 873.7 L782.6 885.5 L784.0 867.0 L785.0 872.7 L785.9 879.0 L786.9 878.3 L787.9 874.8 L789.0 872.6 L790.1 876.5 L791.1 886.9 L792.2 878.0 L793.3 874.1 L794.2 878.8 L795.2 883.8 L796.1 889.7 L797.0 883.8 L797.9 884.7 L798.8 881.5 L799.7 885.5 L800.6 888.0 L801.6 895.2 L802.5 875.5 L803.6 891.6 L804.7 922.5 L805.7 900.2 L806.8 911.1 L807.7 892.5 L808.6 910.6 L809.5 890.2 L810.4 899.7 L811.3 900.8 L812.3 909.9 L813.2 922.5 L815.4 878.3 L816.3 881.0 L817.3 891.4 L818.2 892.6 L819.1 882.8 L819.9 884.6 L820.8 877.9 L821.6 878.7 L822.5 867.0 L823.5 878.4 L824.6 888.3 L825.7 881.2 L826.8 876.9 L827.8 881.7 L828.9 898.3 L829.8 892.0 L830.7 893.3 L831.6 890.3 L832.5 886.9 L833.4 896.0 L834.3 905.0 L835.3 912.5 L836.7 895.4 L837.7 893.1 L838.6 904.2 L839.6 908.3 L840.5 902.2 L841.5 905.5 L842.4 899.7 L843.5 896.7 L844.6 886.9 L845.6 899.2 L846.7 902.6 L847.8 903.6 L848.8 914.0 L849.9 906.3 L851.0 901.1 L852.0 905.6 L853.1 916.8 L854.0 910.1 L854.9 913.6 L855.8 906.4 L856.7 902.6 L858.1 918.2 L859.2 908.6 L860.2 905.4 L861.3 908.7 L862.4 916.8 L863.3 907.8 L864.1 911.9 L865.0 903.3 L865.9 896.9 L867.0 905.2 L868.1 914.0 L869.0 907.6 L870.0 910.3 L870.9 904.0 L872.0 907.1 L873.0 914.0 L874.1 907.1 L875.2 904.0 L876.0 906.1 L876.9 911.0 L877.7 908.9 L878.6 913.3 L879.5 915.4 L880.5 902.0 L881.6 886.9 L881.7 887.0 L882.6 898.7 L883.6 914.0 L884.6 902.0 L885.7 901.2 L887.1 911.2 L888.5 896.9 L889.6 901.3 L890.7 905.5 L891.8 902.9 L892.8 901.2 L894.2 894.1 L895.7 905.5 L896.7 904.6 L897.8 911.2 L899.2 899.8 L900.2 904.2 L901.1 908.7 L902.1 916.9 L903.1 906.6 L904.2 905.5 L905.3 899.1 L906.4 888.4 L907.8 911.2 L908.7 898.4 L909.7 900.8 L910.6 889.8 L912.1 905.5 L913.5 896.9 L914.4 900.3 L915.4 904.3 L916.3 908.3 L917.4 906.1 L918.5 905.5 L919.9 916.9 L920.8 909.7 L921.8 912.5 L922.7 905.5 L923.6 903.9 L924.4 906.3 L925.3 896.9 L926.1 904.2 L926.9 912.2 L927.7 915.4 L928.8 906.0 L929.9 902.6 L930.8 904.7 L931.8 912.9 L932.7 914.0 L933.8 908.6 L934.8 906.9 L935.9 909.5 L937.0 916.9 L938.0 909.9 L939.1 905.5 L940.2 913.7 L941.3 932.5 L942.2 922.8 L943.2 928.6 L944.1 922.6 L945.5 932.5 L946.6 916.1 L947.7 909.7 L948.7 914.0 L949.8 919.7 L951.2 905.5 L952.2 909.8 L953.1 914.5 L954.1 915.4 L955.0 910.2 L956.0 910.0 L956.9 899.8 L958.0 908.7 L959.1 919.7 L960.1 908.2 L961.2 904.0 L962.1 903.1 L963.1 908.5 L964.0 908.3 L965.1 904.6 L966.2 899.8 L967.2 914.0 L968.0 900.5 L968.9 904.3 L969.7 894.1 L970.8 900.8 L971.9 906.9 L972.9 896.7 L974.0 888.4 L975.1 894.6 L976.2 898.3 L977.1 888.4 L978.0 875.6 L979.0 899.8 L979.3 1140.5 L979.7 899.8 L981.1 891.2 L982.1 889.7 L983.0 891.1 L984.0 879.8 L985.4 901.2 L986.4 891.4 L987.3 893.2 L988.3 889.8 L989.3 883.3 L990.4 874.1 L991.3 886.0 L992.3 895.5 L993.2 904.0 L994.2 892.0 L995.1 894.2 L996.1 885.5 L997.2 887.4 L998.2 898.3 L999.1 887.8 L999.9 896.1 L1000.8 887.6 L1001.7 891.1 L1002.5 882.7 L1003.5 873.3 L1004.4 875.5 L1005.4 862.7 L1006.3 871.2 L1007.3 877.0 L1008.2 875.6 L1009.3 869.2 L1010.3 869.9 L1011.8 884.1 L1012.8 872.3 L1013.9 862.7 L1015.6 841.4 L1016.5 863.6 L1017.5 868.4 L1018.9 879.8 L1020.0 878.5 L1021.0 894.1 L1022.0 883.3 L1022.9 882.8 L1023.9 879.8 L1024.8 879.0 L1025.7 881.3 L1026.5 878.1 L1027.4 877.0 L1028.9 884.1 L1029.8 878.3 L1030.8 878.7 L1031.7 869.9 L1032.8 878.5 L1033.8 888.4 L1034.7 889.2 L1035.6 894.4 L1036.5 888.0 L1037.4 891.2 L1038.1 899.8 L1039.2 890.7 L1040.3 884.1 L1041.3 890.7 L1042.4 901.2 L1043.3 894.8 L1044.3 897.3 L1045.2 888.4 L1046.3 893.7 L1047.4 902.6 L1048.3 895.9 L1049.3 896.2 L1050.2 892.6 L1051.7 888.4 L1052.5 891.7 L1053.4 892.8 L1054.3 892.9 L1055.2 894.1 L1056.3 880.7 L1057.4 874.1 L1058.4 883.5 L1059.5 894.1 L1060.6 884.5 L1061.6 877.0 L1062.7 883.9 L1063.8 895.5 L1064.7 886.1 L1065.7 888.0 L1066.6 879.8 L1067.6 885.0 L1068.5 891.3 L1069.5 894.1 L1070.3 894.1 L1071.2 896.1 L1072.1 896.5 L1073.0 905.5 L1073.9 897.2 L1074.8 891.5 L1075.8 894.2 L1076.7 897.5 L1077.7 896.4 L1078.7 901.2 L1079.6 895.7 L1080.6 898.5 L1081.5 893.5 L1082.5 893.1 L1083.5 895.3 L1084.4 891.5 L1085.4 896.2 L1086.3 903.1 L1087.3 893.7 L1088.3 881.9 L1089.2 893.6 L1090.2 904.0 L1091.0 896.5 L1091.8 900.6 L1092.6 893.9 L1093.4 898.6 L1094.2 894.8 L1095.0 901.2 L1096.0 897.8 L1096.9 895.9 L1097.9 883.8 L1098.8 888.3 L1099.8 895.4 L1100.8 899.2 L1101.7 891.9 L1102.7 892.7 L1103.7 887.7 L1104.5 892.5 L1105.3 895.0 L1106.1 893.7 L1106.9 896.0 L1107.7 895.1 L1108.5 895.4 L1109.4 895.4 L1110.4 898.7 L1111.3 898.6 L1112.3 910.8 L1113.3 898.5 L1114.2 897.4 L1115.2 894.2 L1116.2 891.5 L1117.1 893.2 L1118.1 898.9 L1119.0 890.6 L1120.0 887.7 L1121.0 897.0 L1121.9 908.8 L1122.9 899.3 L1123.8 900.1 L1124.8 891.5 L1125.8 898.3 L1126.7 910.8 L1127.6 901.2 L1128.5 904.7 L1129.4 895.7 L1130.3 898.3 L1131.2 881.9 L1132.0 896.8 L1132.8 903.6 L1133.6 904.8 L1134.4 920.4 L1135.4 903.5 L1136.3 895.4 L1137.3 897.5 L1138.3 910.7 L1139.2 906.9 L1140.2 906.1 L1141.2 908.0 L1142.1 899.2 L1143.1 906.6 L1144.0 920.4 L1145.0 909.8 L1146.0 910.6 L1146.9 899.2 L1147.9 903.7 L1148.8 916.5 L1149.8 922.3 L1150.8 912.2 L1151.7 913.8 L1152.7 905.0 L1153.7 907.4 L1154.6 911.8 L1155.6 910.6 L1156.5 916.5 L1159.4 887.7 L1163.3 908.8 L1165.8 929.0 L1166.6 916.5 L1167.5 924.3 L1168.3 915.2 L1169.2 922.9 L1170.0 908.8 L1170.8 892.1 L1171.6 898.9 L1172.5 887.5 L1173.3 898.0 L1174.1 885.3 L1174.9 890.8 L1175.8 876.2 L1176.7 881.3 L1177.7 890.6 L1178.7 889.8 L1179.6 901.2 L1180.6 893.6 L1181.5 898.8 L1182.5 891.9 L1183.5 891.5 L1184.4 892.5 L1185.4 895.3 L1186.3 893.8 L1187.3 897.3 L1188.3 893.7 L1189.2 894.4 L1190.2 892.6 L1191.2 891.5 L1192.1 892.8 L1193.1 893.9 L1194.0 893.0 L1195.0 895.4 L1196.0 885.4 L1196.9 883.8 L1200.8 869.4 L1201.7 879.4 L1202.7 883.9 L1203.7 886.0 L1204.6 899.2 L1205.6 885.3 L1206.5 891.8 L1207.5 880.0 L1208.5 882.5 L1209.4 886.5 L1210.4 884.8 L1211.3 889.6 L1212.3 881.6 L1213.3 880.8 L1214.2 878.1 L1215.2 878.1 L1216.2 878.1 L1217.1 878.1 L1218.1 878.1 L1219.0 872.4 L1220.0 873.4 L1221.0 869.2 L1221.9 866.5 L1222.9 868.7 L1223.8 870.9 L1224.8 868.5 L1225.8 869.8 L1226.7 873.3 L1227.7 876.2 L1228.5 966.5 L1229.2 876.2 L1230.6 864.6 L1231.5 868.2 L1232.5 871.9 L1233.5 870.3 L1234.4 874.2 L1235.2 869.5 L1236.0 869.5 L1236.8 868.6 L1237.6 868.7 L1238.4 867.2 L1239.2 866.5 L1240.2 866.8 L1241.2 868.0 L1242.1 867.5 L1243.1 868.5 L1244.0 866.3 L1245.0 865.5 L1246.0 858.8 L1246.9 866.0 L1247.9 869.2 L1248.8 869.4 L1249.8 872.3 L1250.8 871.5 L1251.7 873.6 L1252.7 872.9 L1253.7 878.1 L1254.6 871.8 L1255.6 871.2 L1256.5 868.5 L1257.3 865.0 L1258.1 867.7 L1258.9 862.8 L1259.7 866.4 L1260.5 863.8 L1261.3 862.7 L1262.1 864.5 L1262.9 871.7 L1263.8 866.7 L1264.6 870.9 L1265.4 868.3 L1266.2 874.2 L1267.1 867.3 L1268.1 869.6 L1269.0 866.3 L1270.0 868.5 L1271.0 868.5 L1271.9 868.1 L1272.9 860.8 L1273.8 864.3 L1274.8 868.1 L1275.8 876.2 L1276.6 866.8 L1277.4 866.5 L1278.2 863.4 L1279.0 863.1 L1279.8 859.9 L1280.6 855.0 L1281.5 857.2 L1282.5 861.4 L1283.5 864.6 L1284.4 859.1 L1285.4 860.6 L1286.3 857.4 L1287.3 855.0 L1288.3 857.7 L1289.2 865.3 L1290.2 860.5 L1291.2 870.4 L1292.0 869.6 L1292.8 870.1 L1293.6 869.4 L1294.5 869.6 L1295.3 868.7 L1296.1 869.3 L1296.9 868.5 L1297.9 871.5 L1298.8 873.6 L1299.8 872.3 L1300.8 876.2 L1301.7 873.3 L1302.7 873.4 L1303.7 870.4 L1304.6 877.5 L1305.6 883.8 L1306.4 877.8 L1307.2 881.6 L1308.0 878.0 L1308.8 883.8 L1309.6 878.8 L1310.4 885.8 L1311.3 883.0 L1312.3 881.2 L1313.3 879.5 L1314.2 870.4 L1315.2 875.8 L1316.2 880.2 L1317.1 878.8 L1318.1 883.8 L1319.0 878.9 L1320.0 880.7 L1321.0 876.2 L1321.9 877.8 L1322.9 881.7 L1323.8 877.5 L1324.8 882.9" fill="none" stroke="#2a1f7a" stroke-width="1.9" stroke-linejoin="round" stroke-linecap="butt"/>
<path d="M579.2 1238.0 L582.6 1130.8 L584.2 1246.4 L585.1 1250.1 L585.9 1255.4 L586.8 1258.1 L587.6 1264.5 L588.4 1281.7 L589.3 1254.8 L590.1 1269.5 L590.9 1274.9 L591.8 1288.3 L592.6 1350.3 L593.5 1302.5 L594.3 1308.4 L595.1 1297.0 L596.0 1325.2 L596.8 1275.8 L597.7 1279.6 L598.5 1224.6 L599.3 1217.1 L600.2 1251.0 L601.0 1221.3 L601.8 1181.1 L602.7 1155.9 L603.5 1180.9 L604.4 1202.8 L605.2 1170.1 L606.0 1157.6 L606.9 1167.7 L607.7 1182.7 L608.5 1167.5 L609.4 1152.6 L610.2 1169.7 L611.1 1191.1 L611.9 1180.7 L612.7 1192.0 L613.6 1207.9 L614.4 1178.9 L615.2 1184.4 L616.1 1160.9 L616.9 1172.4 L617.8 1188.4 L618.6 1167.6 L619.4 1175.9 L620.3 1191.3 L621.1 1183.0 L622.0 1207.9 L622.8 1213.6 L623.6 1235.6 L624.5 1241.4 L625.3 1232.4 L626.1 1243.1 L627.0 1239.5 L627.8 1258.1 L628.7 1236.2 L629.5 1236.1 L630.3 1224.6 L631.2 1225.6 L632.0 1219.6 L635.4 1013.5 L637.0 1221.3 L637.9 1236.0 L638.7 1254.8 L639.5 1231.8 L640.4 1243.4 L641.2 1221.3 L642.1 1237.9 L642.9 1263.2 L643.7 1238.2 L644.6 1228.0 L645.4 1232.7 L646.3 1247.5 L647.1 1251.4 L647.9 1243.0 L648.8 1261.6 L649.6 1269.9 L650.4 1240.8 L651.3 1242.1 L652.1 1224.6 L654.6 1003.4 L657.1 1221.3 L658.0 1224.9 L658.8 1233.0 L659.7 1230.4 L660.5 1236.0 L661.3 1243.1 L662.2 1227.4 L663.0 1226.6 L663.8 1212.9 L664.7 1215.8 L665.5 1226.5 L666.4 1224.6 L667.2 1109.0 L668.9 1102.3 L670.6 1212.9 L671.4 1200.4 L672.2 1191.1 L673.1 1149.6 L673.9 1181.1 L674.7 1186.1 L675.6 1178.5 L676.4 1206.8 L677.3 1212.9 L678.1 1190.4 L678.9 1188.3 L679.8 1176.9 L680.6 1157.6 L682.3 1107.3 L683.1 1116.1 L684.0 1148.0 L684.8 1144.4 L685.6 1179.4 L686.5 1111.6 L687.3 1115.0 L688.1 1093.7 L689.0 1097.3 L689.8 1082.4 L690.7 1065.4 L691.5 1067.1 L692.3 1055.4 L693.2 1077.2 L694.0 1107.3 L694.9 1087.3 L695.7 1108.9 L696.5 1089.4 L697.4 1115.2 L698.2 1097.9 L699.0 1117.4 L699.9 1122.9 L700.7 1132.6 L701.6 1124.5 L702.4 1124.1 L703.2 1129.9 L704.1 1147.5 L704.9 1137.6 L705.7 1152.0 L706.6 1150.9 L707.4 1151.3 L708.3 1153.9 L709.1 1155.9 L710.0 1155.2 L711.2 1160.1 L712.4 1174.3 L714.8 1231.4 L716.3 1161.6 L717.5 1169.0 L718.7 1171.1 L719.8 1169.9 L720.8 1172.3 L721.9 1171.1 L724.6 852.1 L727.5 1098.1 L729.0 1174.3 L730.1 1162.2 L731.2 1168.7 L732.2 1158.4 L733.4 1162.6 L734.6 1174.3 L736.2 1155.2 L737.4 1161.8 L738.6 1175.9 L739.6 1163.1 L740.6 1164.3 L741.5 1154.0 L742.5 1141.0 L743.6 1156.3 L744.7 1166.8 L745.7 1175.9 L746.8 1165.1 L747.8 1170.0 L748.9 1158.4 L749.9 1161.9 L750.9 1171.2 L751.9 1168.0 L752.9 1182.2 L756.0 1150.5 L757.2 1153.5 L758.4 1161.6 L759.4 1152.0 L760.4 1149.8 L761.4 1146.7 L762.4 1137.8 L764.8 1148.9 L765.8 1151.5 L766.9 1155.7 L767.9 1156.8 L769.0 1161.3 L770.1 1167.9 L771.1 1179.0 L772.3 1171.7 L773.5 1167.9 L777.5 1133.0 L779.8 1190.2 L780.9 1191.4 L782.0 1200.7 L783.0 1202.9 L784.1 1195.6 L785.1 1197.6 L786.2 1191.7 L789.4 1156.8 L790.6 1169.2 L791.7 1194.9 L796.5 1131.4 L797.7 1156.5 L798.9 1161.6 L801.3 1183.8 L803.7 1163.2 L804.7 1163.2 L805.8 1169.6 L806.8 1171.1 L810.8 1080.6 L812.4 1180.6 L813.4 1156.7 L814.5 1163.6 L815.6 1145.7 L816.7 1129.3 L817.9 1171.1 L821.9 1034.6 L824.3 1171.1 L825.3 1172.2 L826.4 1176.3 L827.5 1177.5 L828.4 1173.4 L829.4 1174.1 L830.3 1169.8 L831.3 1170.5 L832.2 1160.0 L835.4 1179.0 L836.5 1181.4 L837.5 1185.0 L838.6 1187.0 L839.6 1180.8 L840.7 1180.8 L841.7 1169.5 L842.8 1174.2 L843.9 1184.1 L844.9 1191.7 L845.9 1180.5 L846.8 1184.6 L847.8 1175.1 L848.7 1178.4 L849.7 1169.5 L850.7 1175.1 L851.8 1183.2 L852.9 1187.0 L853.8 1176.4 L854.8 1179.3 L855.7 1172.9 L856.7 1176.0 L857.6 1167.9 L858.8 1171.7 L860.0 1181.9 L860.8 1169.8 L861.6 1169.5 L862.4 1163.2 L863.3 1152.6 L864.1 1160.3 L864.9 1168.4 L865.7 1173.8 L866.5 1166.0 L867.3 1175.5 L868.2 1165.6 L869.0 1163.8 L869.8 1166.2 L870.6 1162.7 L871.4 1159.1 L872.2 1166.5 L873.1 1172.4 L873.9 1183.6 L874.7 1171.9 L875.5 1173.7 L876.3 1164.0 L877.1 1166.1 L878.0 1176.4 L878.8 1169.0 L879.6 1172.1 L880.4 1175.4 L881.2 1185.2 L882.0 1173.8 L882.8 1176.6 L883.7 1168.6 L884.5 1165.6 L885.3 1168.3 L886.1 1177.4 L886.9 1173.2 L887.7 1181.9 L888.6 1169.6 L889.4 1168.2 L890.2 1165.2 L891.0 1162.3 L891.8 1164.9 L892.6 1166.6 L893.5 1161.4 L894.3 1150.9 L895.1 1162.4 L895.9 1169.5 L896.7 1185.2 L897.5 1153.4 L898.3 1159.7 L899.2 1140.1 L900.0 1126.4 L900.8 1139.5 L901.6 1162.6 L902.4 1167.2 L903.2 1149.8 L904.1 1137.9 L904.9 1147.4 L905.7 1161.5 L906.5 1154.6 L907.3 1173.8 L908.1 1167.1 L909.0 1166.8 L909.8 1164.1 L910.6 1162.3 L911.4 1163.4 L912.2 1166.4 L913.0 1162.4 L913.9 1159.1 L914.7 1161.3 L915.5 1164.4 L916.3 1164.8 L917.1 1167.9 L917.9 1180.3 L918.7 1167.0 L919.6 1166.5 L920.4 1160.7 L921.2 1155.8 L922.0 1159.7 L922.8 1162.6 L923.6 1162.8 L924.5 1165.6 L925.3 1162.5 L926.1 1162.0 L926.9 1161.6 L927.7 1161.2 L928.5 1160.7 L929.4 1160.2 L930.2 1161.1 L931.0 1160.2 L931.8 1160.7 L932.6 1151.1 L933.4 1155.7 L934.2 1145.3 L935.1 1139.5 L938.0 1087.3 L940.8 1165.6 L941.6 1137.2 L942.4 1140.5 L943.2 1136.2 L944.0 1124.8 L944.9 1137.2 L945.7 1124.2 L946.5 1116.7 L947.3 1125.2 L948.1 1137.6 L948.9 1147.7 L952.2 1110.1 L955.5 1017.1 L957.9 1133.0 L958.7 1106.0 L959.5 1123.2 L960.4 1092.9 L961.2 1115.4 L962.0 1084.0 L962.8 1087.0 L963.6 1104.3 L964.4 1108.5 L965.3 1056.6 L966.1 1087.6 L966.9 1043.3 L967.7 1064.1 L968.5 1020.3 L969.3 986.1 L970.2 1044.8 L971.0 1101.4 L971.8 1131.3 L972.6 1058.7 L973.4 1030.2 L974.2 1059.1 L975.0 1087.5 L975.9 1116.7 L976.7 1064.4 L977.5 1099.5 L978.3 1057.9 L979.1 1089.5 L979.9 1056.3 L980.8 1051.8 L981.6 1063.0 L982.4 1044.1 L983.2 1010.6 L985.7 1103.6 L988.9 1048.1 L989.7 1058.5 L990.5 1066.1 L991.4 1076.6 L992.2 1105.6 L993.0 1087.7 L993.8 1122.7 L994.6 1139.5 L995.4 1101.6 L996.3 1135.0 L997.1 1104.0 L997.9 1152.6 L1001.2 1000.8 L1004.4 1160.7 L1005.2 1091.1 L1006.1 1136.7 L1006.9 1074.2 L1007.7 1126.3 L1008.5 1160.7 L1011.8 954.0 L1014.2 1178.7 L1015.0 1105.7 L1015.8 1176.4 L1016.7 1093.2 L1017.5 1174.8 L1018.3 1093.6 L1019.1 1174.8 L1019.9 1212.9 L1021.6 997.5 L1023.2 1188.5 L1024.0 1187.9 L1024.8 1187.6 L1025.6 1181.9 L1026.4 1184.2 L1027.3 1176.3 L1028.1 1154.2 L1031.3 1199.9 L1032.7 1218.7 L1033.6 1209.2 L1034.5 1209.6 L1035.4 1200.6 L1036.3 1204.4 L1037.2 1216.4 L1038.1 1212.1 L1039.0 1222.3 L1040.0 1213.0 L1040.9 1222.0 L1041.8 1215.7 L1042.7 1233.2 L1046.3 1200.6 L1047.2 1219.1 L1048.1 1234.1 L1049.0 1244.1 L1049.9 1237.3 L1050.8 1246.0 L1051.7 1249.5 L1052.6 1231.8 L1053.5 1220.5 L1054.4 1234.4 L1055.3 1265.8 L1056.2 1238.2 L1057.1 1239.9 L1058.0 1218.7 L1058.9 1226.4 L1059.9 1248.0 L1060.8 1249.5 L1061.7 1251.3 L1062.6 1258.7 L1063.5 1254.5 L1064.4 1264.0 L1065.3 1262.0 L1066.2 1264.3 L1067.1 1261.2 L1068.0 1260.3 L1071.3 1226.0 L1074.3 1269.4 L1075.2 1270.0 L1076.1 1284.6 L1077.0 1294.7 L1077.9 1270.1 L1078.9 1276.6 L1079.8 1254.9 L1080.7 1275.1 L1081.6 1307.4 L1082.5 1269.9 L1083.4 1277.2 L1084.3 1238.6 L1085.2 1251.3 L1086.1 1274.1 L1087.0 1285.7 L1087.9 1259.2 L1088.8 1238.6 L1089.7 1255.5 L1090.6 1277.1 L1091.5 1287.5 L1092.4 1288.8 L1093.3 1291.1 L1094.2 1300.1 L1095.1 1274.1 L1096.0 1279.6 L1096.9 1265.8 L1097.8 1268.1 L1098.8 1279.7 L1099.7 1263.7 L1100.6 1249.5 L1103.8 1345.4 L1104.9 1280.0 L1106.0 1236.8 L1106.9 1258.7 L1107.8 1292.0 L1108.7 1278.0 L1109.6 1296.4 L1110.5 1312.8 L1111.4 1278.6 L1112.3 1276.6 L1113.2 1258.5 L1114.1 1261.8 L1115.0 1279.3 L1115.9 1269.7 L1116.8 1292.0 L1117.8 1283.9 L1118.7 1263.9 L1119.6 1251.3 L1120.5 1263.8 L1121.4 1281.2 L1122.3 1303.8 L1123.2 1273.2 L1124.1 1291.3 L1125.0 1265.6 L1125.9 1274.9 L1126.8 1253.1 L1129.5 1314.6 L1130.4 1294.3 L1131.3 1315.5 L1132.2 1287.5 L1133.1 1332.7 L1136.7 1253.1 L1139.5 1289.3 L1140.4 1278.7 L1141.3 1282.5 L1142.2 1273.0 L1143.1 1276.6 L1144.0 1283.7 L1144.9 1280.5 L1145.8 1289.3 L1149.4 1242.3 L1153.0 1285.7 L1153.9 1270.8 L1154.8 1290.4 L1155.7 1303.8 L1159.4 1253.1 L1162.1 1283.9 L1163.1 1295.3 L1164.1 1314.7 L1165.1 1307.8 L1166.1 1330.9 L1166.9 1320.9 L1167.7 1324.9 L1168.6 1313.9 L1169.4 1323.0 L1170.2 1311.0 L1171.1 1269.2 L1171.9 1288.3 L1172.7 1242.1 L1173.6 1242.4 L1174.5 1253.9 L1175.4 1245.0 L1176.3 1236.7 L1177.2 1245.5 L1178.1 1258.7 L1179.0 1267.5 L1179.9 1269.6 L1180.9 1281.9 L1181.8 1275.6 L1182.7 1298.2 L1183.6 1277.0 L1184.5 1278.4 L1185.4 1256.6 L1186.3 1270.0 L1187.2 1291.0 L1188.1 1270.4 L1189.0 1282.0 L1189.9 1265.7 L1190.8 1272.4 L1191.7 1291.0 L1192.5 1272.5 L1193.3 1279.1 L1194.1 1266.7 L1195.0 1245.8 L1196.0 1266.1 L1197.1 1285.6 L1198.0 1274.7 L1198.9 1278.7 L1199.8 1267.4 L1200.7 1273.1 L1201.7 1260.2 L1202.6 1271.4 L1203.5 1278.4 L1204.4 1277.8 L1205.3 1282.2 L1206.2 1289.2 L1207.1 1278.9 L1208.0 1283.9 L1208.9 1272.9 L1209.8 1277.2 L1210.7 1284.8 L1211.6 1289.2 L1214.9 1245.8 L1215.9 1267.8 L1216.9 1283.6 L1217.9 1310.9 L1218.8 1280.0 L1219.7 1289.2 L1220.6 1271.4 L1221.5 1282.1 L1222.5 1265.9 L1223.4 1262.0 L1224.3 1266.1 L1225.2 1275.7 L1226.1 1272.0 L1227.0 1278.6 L1227.9 1285.6 L1228.8 1266.3 L1229.7 1270.1 L1230.6 1249.4 L1231.5 1264.5 L1232.4 1277.6 L1233.3 1289.2 L1234.2 1269.4 L1235.1 1275.9 L1236.0 1260.2 L1236.9 1266.7 L1237.8 1282.3 L1238.7 1277.1 L1239.6 1294.6 L1240.5 1271.9 L1241.4 1280.9 L1242.3 1262.0 L1243.3 1264.7 L1244.2 1277.5 L1245.1 1270.7 L1246.0 1279.3 L1246.9 1272.9 L1247.8 1289.2 L1248.7 1264.3 L1249.6 1275.7 L1250.5 1253.9 L1251.4 1240.3 L1254.1 1289.2 L1255.0 1280.1 L1255.9 1284.4 L1256.8 1271.1 L1260.4 1310.9 L1261.3 1288.4 L1262.2 1301.4 L1263.1 1285.0 L1264.0 1281.9 L1265.0 1275.8 L1265.9 1301.7 L1266.8 1289.9 L1267.7 1310.9 L1269.1 1260.2 L1270.1 1256.5 L1271.2 1263.7 L1272.2 1236.7 L1273.1 1253.5 L1274.0 1271.2 L1274.9 1278.3 L1275.8 1261.9 L1276.7 1264.0 L1277.6 1253.0 L1281.2 1271.1 L1282.1 1265.8 L1283.0 1273.0 L1283.9 1268.7 L1284.8 1285.6 L1288.5 1254.8 L1289.5 1272.5 L1290.5 1299.0 L1291.5 1309.1 L1292.7 1266.4 L1293.9 1224.1 L1294.7 1251.9 L1295.6 1278.1 L1296.4 1261.1 L1297.2 1305.6 L1298.1 1321.7 L1298.9 1264.7 L1299.7 1277.4 L1300.6 1231.3 L1301.8 1273.8 L1302.9 1274.7 L1304.0 1291.9 L1305.0 1313.6 L1306.0 1341.6 L1309.3 1278.3 L1312.0 1249.4 L1312.9 1261.3 L1313.8 1276.8 L1314.7 1294.6 L1317.9 1236.7 L1319.0 1247.9 L1320.0 1266.2 L1321.0 1245.8 L1321.9 1267.0 L1322.8 1291.6 L1323.7 1268.8 L1324.6 1312.7" fill="none" stroke="#e0951a" stroke-width="1.9" stroke-linejoin="round" stroke-linecap="butt"/>
<path d="M684.1 1315.5 L687.5 1386.4 L690.6 1325.2 L691.0 1420.0" fill="none" stroke="#2e8b36" stroke-width="1.9" stroke-linejoin="round" stroke-linecap="butt"/>
<path d="M704.5 1420.0 L705.4 1284.5 L706.9 1338.8 L707.9 1240.8 L709.1 1253.3 L710.3 1275.7 L711.1 1260.3 L711.9 1267.2 L712.7 1223.3 L713.7 1252.4 L714.7 1289.3 L715.7 1264.4 L716.6 1258.3 L717.5 1264.8 L718.4 1278.2 L719.2 1256.9 L720.1 1276.0 L721.0 1250.5 L722.0 1306.8 L723.0 1282.1 L723.9 1276.7 L725.3 1301.0 L726.8 1279.6 L727.6 1292.2 L728.5 1311.1 L729.4 1309.1 L730.2 1338.8 L731.2 1285.5 L732.1 1269.0 L733.1 1288.0 L734.1 1326.0 L735.0 1284.6 L736.0 1268.0 L737.0 1274.5 L738.0 1257.3 L739.4 1289.3 L740.6 1288.7 L741.7 1337.8 L742.7 1293.8 L743.7 1292.0 L744.7 1270.3 L745.7 1253.7 L746.7 1263.1 L747.7 1284.9 L748.7 1281.9 L749.7 1307.6 L752.9 1237.8 L753.8 1239.0 L754.8 1243.0 L755.7 1240.2 L756.7 1244.7 L757.6 1245.7 L758.6 1218.8 L759.5 1231.7 L760.5 1210.9 L761.4 1221.8 L762.4 1202.9 L763.6 1207.3 L764.8 1187.0 L766.3 1252.1 L767.4 1224.7 L768.5 1226.1 L769.5 1214.0 L770.5 1216.4 L771.5 1238.6 L772.5 1221.5 L773.5 1234.6 L775.1 1263.2 L776.0 1247.3 L777.0 1258.8 L777.9 1244.9 L778.9 1251.6 L779.8 1237.8 L783.8 1336.2 L786.2 1250.5 L787.2 1254.1 L788.3 1262.2 L789.4 1263.2 L790.4 1251.6 L791.5 1258.3 L792.5 1244.1 L795.7 1306.0 L798.9 1247.3 L800.1 1224.4 L801.3 1218.7 L802.9 1137.8 L804.0 1168.3 L805.2 1210.8 L806.2 1180.3 L807.2 1198.9 L808.2 1163.2 L809.2 1148.9 L810.2 1212.9 L811.2 1253.3 L812.2 1250.2 L813.2 1306.0 L814.2 1302.0 L815.2 1305.8 L816.2 1300.4 L817.1 1299.7 L818.1 1264.2 L819.1 1285.7 L820.1 1255.1 L821.1 1244.1 L822.0 1249.4 L823.0 1268.3 L823.9 1257.2 L824.8 1268.0 L825.7 1260.4 L826.7 1279.0 L827.7 1258.8 L828.7 1272.5 L829.6 1256.1 L830.6 1247.3 L831.6 1249.6 L832.5 1263.1 L833.5 1255.5 L834.4 1266.0 L835.4 1271.1 L839.4 1247.3 L840.4 1251.2 L841.3 1256.7 L842.3 1248.8 L843.3 1247.3 L848.1 1279.0 L849.7 1234.6 L853.7 1183.8 L854.8 1218.6 L856.0 1245.7 L857.1 1225.9 L858.1 1233.6 L859.2 1207.6 L862.4 1250.5 L863.3 1247.2 L864.1 1249.9 L864.9 1274.5 L865.7 1279.8 L866.5 1253.9 L867.3 1265.2 L868.2 1236.8 L869.0 1227.6 L869.8 1247.5 L870.6 1279.8 L871.4 1245.7 L872.2 1208.0 L873.1 1229.4 L873.9 1252.4 L874.7 1232.9 L875.5 1243.9 L876.3 1247.5 L877.1 1268.8 L878.0 1260.2 L878.8 1278.7 L879.6 1299.4 L880.4 1255.3 L881.2 1232.5 L882.0 1245.4 L882.8 1258.4 L883.7 1246.8 L884.5 1271.7 L885.3 1251.0 L886.1 1253.4 L886.9 1239.1 L887.7 1214.6 L888.6 1219.0 L889.4 1249.4 L890.2 1234.7 L891.0 1257.0 L891.8 1235.2 L892.6 1268.4 L894.3 1208.0 L895.1 1223.2 L895.9 1231.9 L896.7 1226.7 L897.5 1227.6 L898.3 1223.3 L899.2 1240.0 L900.0 1229.7 L900.8 1247.2 L904.1 1214.6 L904.9 1204.6 L905.7 1204.0 L906.5 1181.9 L907.3 1197.2 L908.1 1213.3 L909.0 1221.1 L909.8 1204.6 L910.6 1210.3 L911.4 1198.4 L912.2 1195.0 L916.3 1260.3 L917.1 1241.6 L917.9 1249.6 L918.7 1226.5 L919.6 1221.1 L920.4 1235.9 L921.2 1262.0 L922.0 1278.2 L922.8 1241.7 L923.6 1252.2 L924.5 1231.8 L925.3 1227.6 L926.1 1238.8 L926.9 1255.6 L927.7 1270.1 L928.5 1245.4 L929.4 1245.6 L930.2 1214.6 L931.0 1225.4 L931.8 1229.1 L932.6 1232.8 L933.4 1247.2 L934.2 1235.0 L935.1 1240.5 L935.9 1230.9 L936.7 1227.6 L940.0 1253.7 L943.2 1312.5 L946.5 1253.7 L947.3 1255.7 L948.1 1263.5 L948.9 1266.8 L952.2 1219.5 L953.0 1225.6 L953.8 1231.2 L954.6 1227.0 L955.5 1237.8 L956.3 1240.7 L957.1 1225.7 L957.9 1232.3 L958.7 1222.2 L959.5 1208.0 L960.4 1215.4 L961.2 1231.3 L962.0 1220.1 L962.8 1236.2 L963.6 1240.7 L966.9 1193.4 L967.7 1188.4 L968.5 1190.1 L969.3 1183.6 L972.6 1162.3 L973.4 1160.8 L974.2 1181.0 L975.0 1170.1 L975.9 1195.0 L979.9 1146.0 L980.8 1106.9 L981.6 1128.7 L982.4 1136.2 L983.2 1138.2 L984.0 1146.6 L984.8 1157.5 L985.7 1132.1 L986.5 1142.7 L987.3 1128.3 L988.1 1135.3 L988.9 1136.2 L990.5 1074.2 L991.4 1088.9 L992.2 1110.7 L993.0 1095.0 L993.8 1119.0 L994.6 1105.8 L995.4 1131.3 L998.7 1067.7 L999.5 1068.2 L1000.3 1074.8 L1001.2 1064.0 L1002.0 1053.0 L1002.8 1071.5 L1003.6 1090.5 L1004.4 1079.7 L1005.2 1084.2 L1006.1 1076.9 L1006.9 1082.0 L1007.7 1084.0 L1008.5 1076.7 L1009.3 1081.7 L1010.1 1076.6 L1010.9 1079.7 L1011.8 1074.2 L1012.6 1060.3 L1013.4 1063.8 L1014.2 1052.3 L1015.0 1055.9 L1015.8 1045.8 L1016.7 1028.5 L1017.5 1031.2 L1018.3 1039.5 L1019.1 1035.7 L1019.9 1044.8 L1020.7 1048.1 L1021.6 1033.1 L1022.4 1029.3 L1023.2 1017.1 L1024.0 1021.3 L1024.8 1027.6 L1025.6 1023.6 L1026.4 1031.8 L1027.3 1022.6 L1028.1 1022.2 L1028.9 1020.3 L1029.7 1019.8 L1030.5 1018.7 L1031.3 1015.4 L1032.2 1018.1 L1033.0 1014.2 L1033.8 1016.5 L1034.6 1013.9 L1035.4 998.2 L1036.2 1007.1 L1037.0 995.6 L1037.8 1001.3 L1038.6 990.5 L1039.4 997.0 L1040.3 979.8 L1041.2 982.1 L1042.2 984.0 L1043.1 986.9 L1043.8 974.1 L1044.7 976.1 L1045.6 982.3 L1046.5 979.0 L1047.4 985.5 L1048.3 978.3 L1049.3 980.5 L1050.2 969.8 L1051.1 976.7 L1052.0 979.5 L1052.9 978.7 L1053.8 979.8 L1054.9 979.6 L1055.9 986.9 L1056.8 980.5 L1057.7 980.8 L1058.6 976.6 L1059.5 974.1 L1060.6 977.3 L1061.6 984.0 L1062.6 963.2 L1063.5 974.4 L1064.5 974.1 L1065.9 919.9 L1066.8 941.1 L1067.7 952.0 L1068.6 943.4 L1069.5 942.7 L1070.4 950.5 L1071.4 958.4 L1072.3 964.1 L1072.9 962.7 L1073.8 950.5 L1074.8 954.7 L1075.8 943.5 L1079.6 962.7 L1080.6 960.7 L1081.5 978.1 L1082.5 965.4 L1083.5 963.0 L1084.4 959.0 L1085.4 949.2 L1086.3 949.5 L1087.3 958.3 L1088.3 955.0 L1089.2 960.8 L1090.1 965.0 L1090.9 973.6 L1091.7 963.1 L1092.5 975.8 L1093.4 969.4 L1094.2 977.7 L1095.0 978.1 L1095.8 962.7 L1096.6 974.3 L1097.5 960.9 L1098.3 972.8 L1099.1 958.4 L1099.9 964.7 L1100.8 955.0 L1101.7 958.1 L1102.7 966.4 L1103.7 968.5 L1104.5 961.9 L1105.3 965.9 L1106.1 958.5 L1106.9 965.2 L1107.7 956.6 L1108.5 956.9 L1109.3 958.6 L1110.1 963.0 L1110.9 959.9 L1111.7 966.5 L1112.5 960.9 L1113.3 968.5 L1114.2 963.7 L1115.2 964.7 L1116.2 961.8 L1117.1 958.8 L1118.1 961.7 L1119.0 967.5 L1120.0 972.3 L1121.0 961.7 L1121.9 960.0 L1122.9 956.9 L1123.7 953.5 L1124.5 956.9 L1125.3 952.8 L1126.1 956.0 L1126.9 952.9 L1127.7 953.1 L1131.2 922.3 L1133.5 978.1 L1134.4 968.6 L1135.4 972.3 L1136.3 964.6 L1137.1 965.6 L1137.9 970.1 L1138.8 965.8 L1139.6 968.0 L1140.4 964.7 L1141.2 960.8 L1142.1 964.6 L1143.1 966.3 L1144.0 968.1 L1145.0 976.2 L1146.0 968.7 L1146.9 971.4 L1147.9 967.9 L1148.8 964.6 L1149.8 966.0 L1150.8 974.6 L1151.7 968.2 L1152.7 978.1 L1153.5 972.5 L1154.3 974.8 L1155.2 969.6 L1156.0 972.6 L1156.8 968.6 L1157.6 972.4 L1158.5 966.5 L1159.4 981.1 L1160.4 988.3 L1161.3 980.0 L1162.3 987.9 L1163.3 1001.4 L1164.2 1009.8 L1165.2 1020.8 L1166.2 1010.8 L1167.1 991.0 L1168.1 980.0 L1168.9 983.3 L1169.8 987.8 L1170.6 977.3 L1171.5 990.3 L1172.4 977.3 L1173.2 982.6 L1174.1 973.5 L1174.9 981.1 L1175.8 951.2 L1176.6 951.6 L1177.4 959.5 L1178.2 955.1 L1179.0 962.5 L1179.8 958.5 L1180.6 964.6 L1181.5 956.7 L1182.5 955.9 L1183.5 953.1 L1184.4 954.4 L1185.4 954.6 L1186.3 954.8 L1187.3 955.0 L1188.1 954.2 L1188.9 955.9 L1189.7 954.5 L1190.5 955.3 L1191.3 953.8 L1192.1 955.0 L1192.9 937.2 L1193.7 946.3 L1194.5 933.4 L1195.3 946.6 L1196.1 927.7 L1196.9 924.2 L1197.9 933.5 L1198.8 935.9 L1199.8 937.0 L1200.8 939.6 L1201.7 934.8 L1202.7 937.3 L1203.7 933.9 L1204.6 937.7 L1205.6 932.5 L1206.5 930.0 L1209.4 960.8 L1213.3 926.2 L1214.1 922.8 L1214.9 926.1 L1215.7 921.6 L1216.6 924.0 L1217.4 921.6 L1218.2 924.9 L1219.0 920.4 L1220.0 919.1 L1221.0 920.6 L1221.9 918.5 L1222.7 918.9 L1223.5 920.6 L1224.3 919.9 L1225.1 920.9 L1225.9 920.1 L1226.7 922.3 L1227.7 933.8 L1228.7 924.0 L1229.6 920.6 L1230.6 910.8 L1231.5 912.1 L1232.5 917.9 L1233.5 916.3 L1234.4 922.3 L1235.2 910.3 L1236.0 911.9 L1236.8 908.6 L1237.6 909.3 L1238.4 905.8 L1239.2 903.1 L1240.2 903.0 L1241.2 899.2 L1242.1 902.7 L1243.1 906.4 L1244.0 918.5 L1244.8 905.7 L1245.6 914.6 L1246.4 898.3 L1247.2 907.5 L1248.0 896.3 L1248.8 893.5 L1249.6 904.0 L1250.4 913.8 L1251.2 905.4 L1252.1 929.0 L1252.9 908.3 L1253.7 933.8 L1254.5 918.0 L1255.3 921.4 L1256.1 909.2 L1257.0 920.0 L1257.8 905.6 L1258.6 913.5 L1259.4 895.4 L1260.4 908.9 L1261.3 927.8 L1262.3 935.8 L1263.3 911.5 L1264.2 903.1 L1265.2 913.8 L1266.2 923.1 L1267.1 933.8 L1267.9 920.4 L1268.7 927.5 L1269.5 919.3 L1270.3 924.8 L1271.1 915.7 L1271.9 912.7 L1272.7 912.6 L1273.5 919.5 L1274.3 914.1 L1275.1 920.6 L1275.9 918.1 L1276.7 924.2 L1277.7 917.0 L1278.7 916.6 L1279.6 914.7 L1280.6 914.6 L1281.5 913.6 L1282.5 913.7 L1283.5 912.7 L1284.3 911.9 L1285.2 911.4 L1286.1 909.9 L1287.0 909.2 L1287.9 901.2 L1288.7 909.0 L1289.5 910.5 L1290.3 912.0 L1291.2 914.6 L1292.1 913.6 L1293.1 913.9 L1294.0 913.0 L1295.0 912.7 L1296.0 914.8 L1296.9 916.9 L1297.9 924.2 L1298.7 917.3 L1299.5 921.2 L1300.3 916.2 L1301.1 920.3 L1301.9 913.7 L1302.7 912.7 L1303.7 921.9 L1304.6 924.7 L1305.6 927.5 L1306.5 937.7 L1307.5 926.5 L1308.5 926.9 L1309.4 923.5 L1310.4 924.2 L1311.2 921.4 L1312.0 923.4 L1312.8 920.0 L1313.6 922.8 L1314.4 918.7 L1315.2 918.5 L1316.0 918.0 L1316.8 922.7 L1317.6 919.7 L1318.4 923.1 L1319.2 921.0 L1320.0 924.2 L1321.0 928.6 L1321.9 933.7 L1322.9 931.7 L1323.8 943.5 L1324.8 937.6 L1325.8 935.8" fill="none" stroke="#2e8b36" stroke-width="1.9" stroke-linejoin="round" stroke-linecap="butt"/>
<path d="M626.1 1288.3 L626.6 1003.4 L627.7 1069.6 L628.7 1117.4 L629.5 1081.3 L630.3 1098.1 L631.2 1060.4 L632.0 1082.2 L632.8 1120.7 L633.7 1117.1 L634.5 1115.9 L635.4 1105.6 L636.2 1113.8 L637.0 1123.9 L637.9 1121.6 L638.7 1128.8 L639.5 1132.5 L640.4 1132.0 L641.2 1140.4 L642.1 1149.2 L642.9 1126.6 L643.7 1115.7 L644.6 1126.0 L645.4 1143.8 L646.3 1149.2 L647.4 1115.7 L649.6 1157.6 L650.4 1152.3 L651.3 1152.1 L652.1 1150.8 L653.0 1150.9 L655.5 1184.4 L656.3 1160.7 L657.1 1163.2 L658.0 1140.8 L658.8 1151.9 L659.7 1165.1 L660.5 1160.3 L661.3 1172.7 L662.2 1165.0 L663.0 1171.2 L663.8 1163.5 L664.7 1165.2 L665.5 1159.3 L666.4 1157.6 L667.2 1159.4 L668.0 1165.3 L668.9 1162.0 L669.7 1165.4 L670.6 1167.6 L673.1 1144.2 L673.9 1149.4 L674.7 1161.8 L675.6 1153.1 L676.4 1167.6 L680.6 1135.8 L681.4 1134.9 L682.3 1139.4 L683.1 1133.1 L684.0 1136.1 L684.8 1124.1 L685.6 1130.2 L686.5 1135.6 L687.3 1136.3 L688.1 1149.2 L693.2 1129.1 L694.9 1107.3 L699.0 1140.8 L699.9 1141.0 L700.7 1142.4 L701.6 1140.6 L702.4 1142.5 L703.2 1147.4 L704.1 1151.8 L704.9 1166.0 L705.7 1156.4 L706.6 1157.8 L707.4 1149.2 L708.3 1156.2 L709.1 1163.8 L709.9 1162.3 L710.8 1174.3 L711.6 1164.7 L712.4 1161.6 L713.6 1177.9 L714.8 1210.8 L716.0 1176.5 L717.1 1163.2 L718.3 1172.0 L719.5 1187.0 L720.7 1166.4 L721.9 1148.9 L723.1 1168.5 L724.3 1185.4 L725.3 1183.5 L726.4 1181.8 L727.5 1171.1 L728.7 1176.9 L729.8 1194.9 L730.9 1180.6 L732.0 1186.0 L733.0 1167.9 L737.0 1206.0 L738.0 1200.2 L739.0 1203.7 L740.0 1195.4 L741.0 1193.3 L742.1 1203.2 L743.3 1206.0 L744.4 1210.3 L745.4 1221.3 L746.5 1210.8 L748.1 1231.4 L749.3 1220.1 L750.5 1237.8 L751.5 1217.1 L752.6 1217.8 L753.7 1194.9 L754.6 1198.1 L755.6 1210.8 L756.6 1204.0 L757.6 1218.7 L759.2 1194.9 L760.3 1192.8 L761.3 1195.4 L762.4 1177.5 L763.6 1194.5 L764.8 1206.0 L766.0 1195.6 L767.1 1190.2 L768.3 1196.3 L769.5 1209.2 L770.7 1198.2 L771.9 1191.7 L773.5 1218.7 L774.6 1206.1 L775.6 1210.6 L776.7 1198.1 L777.7 1202.0 L778.8 1216.0 L779.8 1221.9 L780.8 1224.2 L781.8 1230.0 L782.8 1225.7 L783.8 1234.6 L784.8 1230.1 L785.8 1232.6 L786.8 1229.3 L787.8 1226.7 L788.8 1232.1 L789.9 1237.2 L791.0 1250.5 L792.0 1236.5 L793.1 1243.4 L794.1 1228.3 L796.5 1272.7 L797.6 1254.0 L798.6 1258.7 L799.7 1244.1 L800.7 1254.7 L801.8 1261.0 L802.9 1266.3 L803.9 1255.5 L805.0 1256.4 L806.0 1253.7 L808.4 1234.6 L809.6 1247.2 L810.8 1260.0 L812.0 1255.3 L813.2 1283.8 L814.2 1251.6 L815.3 1252.2 L816.3 1229.8 L817.4 1234.4 L818.5 1242.6 L819.5 1244.1 L822.7 1193.3 L823.9 1209.2 L825.1 1250.5 L826.1 1219.2 L827.1 1226.2 L828.1 1208.6 L829.0 1198.1 L830.1 1218.1 L831.2 1235.0 L832.2 1247.3 L833.2 1228.1 L834.1 1232.8 L835.1 1218.9 L836.0 1227.5 L837.0 1210.8 L839.4 1244.1 L840.4 1247.2 L841.3 1262.0 L842.3 1255.8 L843.3 1267.9 L844.4 1242.9 L845.4 1256.2 L846.5 1229.8 L847.5 1230.1 L848.5 1242.3 L849.5 1228.0 L850.5 1209.2 L851.5 1229.2 L852.6 1239.1 L853.7 1263.2 L855.7 1129.8 L857.6 1234.6 L858.7 1226.6 L859.7 1228.3 L860.8 1220.3 L861.6 1220.8 L862.4 1223.8 L863.3 1214.6 L864.1 1220.7 L864.9 1242.9 L865.7 1236.9 L866.5 1257.0 L867.3 1232.5 L868.2 1233.1 L869.0 1216.2 L869.8 1217.4 L870.6 1248.8 L871.4 1225.6 L872.2 1232.6 L873.1 1204.8 L873.9 1206.7 L874.7 1211.4 L875.5 1203.7 L876.3 1195.0 L877.1 1202.2 L878.0 1212.2 L878.8 1205.3 L879.6 1221.1 L882.8 1164.0 L883.7 1189.0 L884.5 1209.0 L885.3 1229.3 L886.1 1204.4 L886.9 1213.2 L887.7 1195.8 L888.6 1206.2 L889.4 1191.0 L890.2 1181.9 L892.6 1214.6 L893.5 1206.0 L894.3 1213.9 L895.1 1209.9 L895.9 1230.9 L900.0 1193.4 L903.2 1224.4 L904.1 1225.3 L904.9 1229.6 L905.7 1225.7 L906.5 1230.9 L907.3 1235.1 L908.1 1242.7 L909.0 1237.6 L909.8 1248.8 L913.0 1204.8 L913.9 1206.1 L914.7 1219.8 L915.5 1210.7 L916.3 1220.8 L917.1 1226.0 L922.0 1172.1 L922.8 1185.3 L923.6 1198.8 L924.5 1192.6 L925.3 1204.3 L926.1 1217.8 L926.9 1190.8 L927.7 1199.1 L928.5 1179.7 L929.4 1160.7 L930.2 1180.7 L931.0 1195.2 L931.8 1193.0 L932.6 1212.9 L933.4 1194.0 L934.2 1180.3 L935.1 1186.1 L935.9 1201.3 L936.7 1196.1 L937.5 1208.3 L938.3 1221.1 L939.1 1207.5 L940.0 1211.9 L940.8 1198.9 L941.6 1195.0 L944.9 1221.1 L945.7 1210.7 L946.5 1218.1 L947.3 1210.7 L948.1 1222.5 L948.9 1234.2 L951.4 1195.0 L952.2 1205.5 L953.0 1218.1 L953.8 1211.1 L954.6 1226.0 L955.5 1208.9 L956.3 1218.5 L957.1 1205.7 L957.9 1204.8 L958.7 1210.3 L959.5 1219.8 L960.4 1217.2 L961.2 1223.4 L962.0 1234.2 L962.8 1186.8 L967.7 1222.7 L968.5 1212.9 L969.3 1218.4 L970.2 1214.6 L971.0 1224.4 L971.8 1210.9 L972.6 1217.8 L973.4 1203.2 L974.2 1199.9 L975.0 1192.6 L975.9 1196.3 L976.7 1190.2 L977.5 1196.9 L978.3 1187.5 L979.1 1186.8 L979.9 1189.3 L980.8 1207.0 L981.6 1195.6 L982.4 1215.2 L983.2 1204.5 L984.0 1221.1 L984.8 1224.2 L985.7 1238.1 L986.5 1240.7 L990.5 1204.8 L995.4 1234.2 L996.3 1220.1 L997.1 1229.3 L997.9 1220.9 L998.7 1233.8 L999.5 1240.7 L1000.3 1224.1 L1001.2 1220.1 L1002.0 1186.8 L1002.8 1178.1 L1003.6 1221.1 L1004.4 1144.7 L1005.2 1110.1 L1006.1 1128.7 L1006.9 1155.7 L1007.7 1137.4 L1008.5 1152.6 L1009.3 1121.1 L1010.1 1110.1 L1010.9 1121.1 L1011.8 1132.7 L1012.6 1120.9 L1013.4 1141.1 L1014.2 1147.2 L1015.0 1160.5 L1015.8 1154.4 L1016.7 1168.9 L1017.5 1170.7 L1018.3 1176.5 L1019.1 1173.4 L1019.9 1179.9 L1020.7 1181.9 L1021.6 1135.7 L1022.4 1139.4 L1023.2 1088.9 L1026.4 1123.2 L1027.3 1125.6 L1028.1 1135.8 L1028.9 1131.9 L1029.7 1139.5 L1030.7 1087.1 L1031.7 1081.3 L1032.7 996.2 L1035.4 1057.7 L1036.3 1075.4 L1037.2 1085.0 L1038.1 1090.3 L1039.0 1084.6 L1040.0 1086.9 L1040.9 1079.4 L1041.8 1084.5 L1042.7 1097.5 L1043.6 1093.1 L1044.5 1086.7 L1045.4 1093.2 L1046.3 1104.8 L1047.2 1110.2 L1048.1 1097.6 L1049.0 1108.1 L1049.9 1104.7 L1050.8 1098.0 L1051.7 1115.6 L1052.7 1103.0 L1053.8 1103.2 L1054.8 1084.8 L1056.0 1097.9 L1057.1 1099.3 L1058.0 1098.9 L1058.9 1107.6 L1059.9 1097.5 L1060.8 1103.0 L1061.7 1111.3 L1062.6 1113.8 L1063.5 1111.3 L1064.4 1121.0 L1065.3 1110.4 L1066.2 1110.8 L1067.1 1099.3 L1068.0 1110.8 L1068.9 1124.6 L1069.8 1114.1 L1070.7 1117.9 L1071.6 1108.4 L1072.5 1109.3 L1073.4 1130.1 L1074.3 1118.4 L1075.2 1120.5 L1076.1 1110.2 L1077.0 1094.6 L1077.9 1104.6 L1078.9 1083.0 L1079.8 1088.9 L1080.7 1103.4 L1081.6 1099.9 L1082.5 1128.3 L1083.4 1091.1 L1084.3 1077.6 L1085.2 1087.0 L1086.1 1097.4 L1087.0 1108.4 L1087.9 1087.9 L1088.8 1075.8 L1089.7 1086.6 L1090.6 1097.1 L1091.5 1106.6 L1092.4 1090.9 L1093.3 1095.6 L1094.2 1086.7 L1095.3 1080.1 L1096.3 1080.3 L1097.3 1064.0 L1100.6 1090.3 L1101.5 1081.8 L1102.4 1095.8 L1103.3 1110.2 L1104.2 1084.1 L1105.1 1090.3 L1106.0 1088.1 L1106.9 1089.7 L1107.8 1065.8 L1108.7 1084.5 L1109.6 1096.1 L1110.5 1093.7 L1111.4 1108.4 L1112.3 1104.6 L1113.2 1107.7 L1114.1 1102.9 L1115.0 1101.1 L1115.9 1104.5 L1116.8 1106.6 L1117.8 1106.4 L1118.7 1110.2 L1119.6 1091.1 L1120.5 1084.8 L1121.4 1089.1 L1122.3 1098.7 L1123.2 1104.7 L1124.1 1092.1 L1125.0 1084.8 L1125.9 1088.1 L1126.8 1098.6 L1127.7 1101.1 L1128.6 1104.0 L1129.5 1107.3 L1130.4 1117.4 L1131.3 1106.9 L1132.2 1107.4 L1133.1 1101.1 L1134.0 1104.3 L1134.9 1109.3 L1135.8 1104.4 L1136.7 1108.4 L1137.7 1107.7 L1138.6 1112.1 L1139.5 1115.6 L1141.3 1097.5 L1142.2 1108.2 L1143.1 1113.1 L1144.0 1113.0 L1144.9 1124.6 L1145.8 1118.9 L1146.7 1118.2 L1147.6 1117.4 L1148.5 1114.3 L1149.4 1117.3 L1150.3 1113.7 L1151.2 1113.8 L1153.9 1084.8 L1154.8 1089.6 L1155.7 1101.4 L1156.7 1104.7 L1157.5 1092.9 L1158.3 1094.0 L1159.1 1085.3 L1159.9 1074.9 L1163.0 1097.5 L1164.2 1101.7 L1165.3 1113.8 L1169.3 1088.5 L1170.2 1079.4 L1171.1 1087.7 L1172.0 1082.5 L1172.9 1092.1 L1173.6 1064.9 L1174.5 1061.2 L1175.4 1070.3 L1176.3 1043.2 L1177.2 1058.7 L1178.1 1064.9 L1179.0 1061.3 L1179.9 1065.5 L1180.9 1073.7 L1181.8 1069.2 L1182.7 1077.6 L1183.6 1068.3 L1184.5 1070.2 L1185.4 1063.1 L1186.3 1066.8 L1187.2 1075.2 L1188.1 1077.6 L1189.0 1059.9 L1189.9 1046.8 L1190.8 1053.2 L1191.7 1069.2 L1192.6 1075.8 L1193.8 1048.5 L1195.0 1028.7 L1196.0 1051.5 L1197.1 1068.5 L1198.0 1054.2 L1198.9 1045.0 L1199.8 1052.2 L1200.7 1066.2 L1201.7 1075.8 L1202.6 1076.2 L1203.5 1078.0 L1204.4 1077.3 L1205.3 1079.4 L1206.2 1080.8 L1207.1 1086.2 L1208.0 1084.2 L1208.9 1090.2 L1212.5 1043.2 L1213.4 1055.9 L1214.3 1068.5 L1215.2 1058.6 L1216.1 1058.7 L1217.0 1056.3 L1217.9 1056.8 L1218.8 1055.9 L1219.7 1053.9 L1220.6 1055.3 L1221.5 1052.0 L1222.5 1052.2 L1225.2 1037.8 L1226.1 1045.2 L1227.0 1053.2 L1227.9 1064.9 L1228.8 1050.5 L1229.7 1054.0 L1230.6 1042.7 L1231.5 1039.6 L1232.4 1046.6 L1233.3 1050.7 L1234.2 1051.0 L1235.1 1055.9 L1236.0 1050.0 L1236.9 1053.6 L1237.8 1049.7 L1238.7 1046.8 L1239.6 1049.7 L1240.5 1055.3 L1241.4 1054.1 L1242.3 1063.1 L1243.3 1056.0 L1244.2 1057.4 L1245.1 1053.0 L1246.0 1048.6 L1246.9 1051.1 L1247.8 1056.9 L1248.7 1054.9 L1249.6 1061.3 L1250.5 1054.1 L1251.4 1053.2 L1252.3 1041.4 L1253.2 1049.7 L1254.1 1064.9 L1255.0 1051.5 L1255.9 1056.9 L1256.8 1054.0 L1257.8 1045.5 L1258.9 1046.9 L1259.9 1032.3 L1262.2 1054.0 L1263.1 1045.5 L1264.0 1055.7 L1265.0 1048.2 L1265.9 1053.4 L1266.8 1064.9 L1267.7 1031.0 L1268.6 1014.3 L1272.2 988.9 L1274.9 1028.7 L1275.8 1028.7 L1276.7 1028.7 L1277.6 1028.7 L1278.5 1028.7 L1279.4 1027.6 L1280.3 1026.6 L1281.2 1021.5 L1282.1 1017.1 L1283.0 1036.0 L1283.9 1008.9 L1284.8 1017.4 L1285.8 1003.4 L1286.7 992.4 L1287.6 1002.8 L1288.5 979.9 L1289.4 981.7 L1290.3 988.8 L1291.2 974.5 L1292.1 978.9 L1293.0 987.5 L1293.9 983.1 L1294.8 987.1 L1295.7 991.6 L1296.6 999.8 L1297.5 998.7 L1298.4 1019.7 L1299.3 1012.6 L1300.2 1023.3 L1301.1 1016.1 L1302.0 1018.1 L1302.9 1013.9 L1303.8 1010.6 L1307.5 1032.3 L1308.4 1031.9 L1309.3 1035.1 L1310.2 1032.7 L1311.1 1036.0 L1312.0 1031.3 L1312.9 1032.9 L1313.8 1028.0 L1314.7 1026.9 L1315.6 1032.4 L1316.5 1041.4 L1317.4 1030.7 L1318.3 1026.9 L1319.2 1031.0 L1320.1 1039.9 L1321.0 1046.8 L1321.9 1041.0 L1322.8 1037.8 L1323.7 1042.8 L1324.6 1054.0" fill="none" stroke="#c62d13" stroke-width="1.9" stroke-linejoin="round" stroke-linecap="butt"/>
</g>
<rect x="80.00" y="782.20" width="1304.50" height="635.00" fill="none" stroke="#1b1b19" stroke-width="2.0"/>
<path d="M80.00 1388.60H86.80M1384.50 1388.60H1377.70M80.00 1284.50H86.80M1384.50 1284.50H1377.70M80.00 1180.40H86.80M1384.50 1180.40H1377.70M80.00 1076.30H86.80M1384.50 1076.30H1377.70M80.00 972.20H86.80M1384.50 972.20H1377.70M80.00 868.10H86.80M1384.50 868.10H1377.70M230.80 1417.20V1410.40M230.80 782.20V789.00M460.60 1417.20V1410.40M460.60 782.20V789.00M690.40 1417.20V1410.40M690.40 782.20V789.00M920.20 1417.20V1410.40M920.20 782.20V789.00M1150.00 1417.20V1410.40M1150.00 782.20V789.00M1379.80 1417.20V1410.40M1379.80 782.20V789.00" stroke="#1b1b19" stroke-width="1.8" fill="none"/>
<path d="M80.00 1411.69H84.80M1384.50 1411.69H1379.70M80.00 1404.73H84.80M1384.50 1404.73H1379.70M80.00 1398.69H84.80M1384.50 1398.69H1379.70M80.00 1393.36H84.80M1384.50 1393.36H1379.70M80.00 1357.26H84.80M1384.50 1357.26H1379.70M80.00 1338.93H84.80M1384.50 1338.93H1379.70M80.00 1325.93H84.80M1384.50 1325.93H1379.70M80.00 1315.84H84.80M1384.50 1315.84H1379.70M80.00 1307.59H84.80M1384.50 1307.59H1379.70M80.00 1300.63H84.80M1384.50 1300.63H1379.70M80.00 1294.59H84.80M1384.50 1294.59H1379.70M80.00 1289.26H84.80M1384.50 1289.26H1379.70M80.00 1253.16H84.80M1384.50 1253.16H1379.70M80.00 1234.83H84.80M1384.50 1234.83H1379.70M80.00 1221.83H84.80M1384.50 1221.83H1379.70M80.00 1211.74H84.80M1384.50 1211.74H1379.70M80.00 1203.49H84.80M1384.50 1203.49H1379.70M80.00 1196.53H84.80M1384.50 1196.53H1379.70M80.00 1190.49H84.80M1384.50 1190.49H1379.70M80.00 1185.16H84.80M1384.50 1185.16H1379.70M80.00 1149.06H84.80M1384.50 1149.06H1379.70M80.00 1130.73H84.80M1384.50 1130.73H1379.70M80.00 1117.73H84.80M1384.50 1117.73H1379.70M80.00 1107.64H84.80M1384.50 1107.64H1379.70M80.00 1099.39H84.80M1384.50 1099.39H1379.70M80.00 1092.43H84.80M1384.50 1092.43H1379.70M80.00 1086.39H84.80M1384.50 1086.39H1379.70M80.00 1081.06H84.80M1384.50 1081.06H1379.70M80.00 1044.96H84.80M1384.50 1044.96H1379.70M80.00 1026.63H84.80M1384.50 1026.63H1379.70M80.00 1013.63H84.80M1384.50 1013.63H1379.70M80.00 1003.54H84.80M1384.50 1003.54H1379.70M80.00 995.29H84.80M1384.50 995.29H1379.70M80.00 988.33H84.80M1384.50 988.33H1379.70M80.00 982.29H84.80M1384.50 982.29H1379.70M80.00 976.96H84.80M1384.50 976.96H1379.70M80.00 940.86H84.80M1384.50 940.86H1379.70M80.00 922.53H84.80M1384.50 922.53H1379.70M80.00 909.53H84.80M1384.50 909.53H1379.70M80.00 899.44H84.80M1384.50 899.44H1379.70M80.00 891.19H84.80M1384.50 891.19H1379.70M80.00 884.23H84.80M1384.50 884.23H1379.70M80.00 878.19H84.80M1384.50 878.19H1379.70M80.00 872.86H84.80M1384.50 872.86H1379.70M80.00 836.76H84.80M1384.50 836.76H1379.70M80.00 818.43H84.80M1384.50 818.43H1379.70M80.00 805.43H84.80M1384.50 805.43H1379.70M80.00 795.34H84.80M1384.50 795.34H1379.70M80.00 787.09H84.80M1384.50 787.09H1379.70" stroke="#1b1b19" stroke-width="1.6" fill="none"/>
<text transform="matrix(0.16735 0 0 0.18079 66.546 1387.623)" font-size="100" font-weight="normal" fill="#1b1b19">0</text>
<text transform="matrix(0.23068 0 0 0.26130 40.443 1398.345)" font-size="100" font-weight="normal" fill="#1b1b19">10</text>
<text transform="matrix(0.15076 0 0 0.18605 67.552 1283.700)" font-size="100" font-weight="normal" fill="#1b1b19">1</text>
<text transform="matrix(0.23068 0 0 0.26130 41.943 1294.245)" font-size="100" font-weight="normal" fill="#1b1b19">10</text>
<text transform="matrix(0.17561 0 0 0.18332 66.317 1179.600)" font-size="100" font-weight="normal" fill="#1b1b19">2</text>
<text transform="matrix(0.23068 0 0 0.26130 40.443 1190.145)" font-size="100" font-weight="normal" fill="#1b1b19">10</text>
<text transform="matrix(0.16873 0 0 0.18079 66.557 1075.323)" font-size="100" font-weight="normal" fill="#1b1b19">3</text>
<text transform="matrix(0.23068 0 0 0.26130 40.443 1086.045)" font-size="100" font-weight="normal" fill="#1b1b19">10</text>
<text transform="matrix(0.15876 0 0 0.18605 66.836 971.400)" font-size="100" font-weight="normal" fill="#1b1b19">4</text>
<text transform="matrix(0.23068 0 0 0.26130 40.443 981.945)" font-size="100" font-weight="normal" fill="#1b1b19">10</text>
<text transform="matrix(0.16873 0 0 0.18345 66.524 867.121)" font-size="100" font-weight="normal" fill="#1b1b19">5</text>
<text transform="matrix(0.23068 0 0 0.26130 40.443 877.845)" font-size="100" font-weight="normal" fill="#1b1b19">10</text>
<text transform="matrix(0.23939 0 0 0.25706 204.096 1440.949)" font-size="100" font-weight="normal" fill="#1b1b19">2016</text>
<text transform="matrix(0.24011 0 0 0.25706 433.892 1440.949)" font-size="100" font-weight="normal" fill="#1b1b19">2017</text>
<text transform="matrix(0.23934 0 0 0.25706 663.696 1440.949)" font-size="100" font-weight="normal" fill="#1b1b19">2018</text>
<text transform="matrix(0.23978 0 0 0.25706 893.494 1440.949)" font-size="100" font-weight="normal" fill="#1b1b19">2019</text>
<text transform="matrix(0.23885 0 0 0.25706 1123.299 1440.949)" font-size="100" font-weight="normal" fill="#1b1b19">2020</text>
<text transform="matrix(0.23994 0 0 0.25706 1353.093 1440.949)" font-size="100" font-weight="normal" fill="#1b1b19">2021</text>
<text transform="matrix(0.32061 0 0 0.33362 696.980 1475.474)" font-size="100" font-weight="normal" fill="#1b1b19">Time</text>
<text transform="matrix(0 -0.30549 0.33634 0 28.672 1216.806)" font-size="100" font-weight="normal" fill="#1b1b19">Number of Nodes</text>
<path d="M104.0 1335.8H162.0" stroke="#2a1f7a" stroke-width="2"/>
<text transform="matrix(0.26029 0 0 0.27617 183.865 1345.600)" font-size="100" font-weight="normal" fill="#1b1b19">ETH</text>
<path d="M104.0 1377.0H162.0" stroke="#e0951a" stroke-width="2"/>
<text transform="matrix(0.26023 0 0 0.27617 183.865 1386.800)" font-size="100" font-weight="normal" fill="#1b1b19">BNB</text>
<path d="M292.1 1335.8H350.1" stroke="#2e8b36" stroke-width="2"/>
<text transform="matrix(0.25514 0 0 0.26836 371.532 1345.338)" font-size="100" font-weight="normal" fill="#1b1b19">USDT</text>
<path d="M292.1 1377.0H350.1" stroke="#c62d13" stroke-width="2"/>
<text transform="matrix(0.25971 0 0 0.27617 371.370 1386.800)" font-size="100" font-weight="normal" fill="#1b1b19">LNK</text>
<text transform="matrix(0.40685 0 0 0.44067 -0.669 1558.570)" font-size="100" font-weight="bold" fill="#0d0d0d">C</text>
<clipPath id="cC"><rect x="80.0" y="1573.4" width="1304.2" height="635.1"/></clipPath>
<g clip-path="url(#cC)">
<path d="M138.8 1875.2 L140.3 1917.9 L141.8 1851.7 L142.6 1884.2 L143.5 1909.4 L143.9 1883.8 L144.8 1900.4 L145.6 1924.4 L146.4 1915.0 L147.2 1916.7 L148.0 1911.6 L148.8 1903.0 L149.9 1930.8 L151.0 1928.5 L152.1 1924.4 L153.1 1947.9 L153.9 1937.3 L154.7 1945.8 L155.5 1937.4 L156.3 1947.9 L157.1 1935.7 L157.9 1938.6 L158.7 1932.7 L159.5 1926.5 L160.3 1934.1 L161.1 1936.3 L161.9 1936.7 L162.7 1939.3 L163.8 1937.0 L164.9 1937.2 L165.9 1941.1 L167.0 1967.1 L167.9 1940.6 L168.7 1907.3 L171.3 1973.5 L172.1 1961.4 L173.0 1950.0 L174.1 1960.4 L175.1 1975.6 L176.6 1956.4 L177.4 1960.8 L178.2 1972.4 L179.0 1965.5 L179.8 1992.7 L180.9 1960.7 L182.0 1943.6 L183.0 1942.0 L184.1 1935.0 L185.2 1971.4 L186.0 1944.3 L186.8 1960.2 L187.6 1932.0 L188.4 1926.5 L189.4 1927.8 L190.5 1924.4 L191.4 1916.9 L192.2 1926.2 L193.1 1896.6 L194.0 1916.8 L194.9 1935.1 L195.9 1947.9 L197.4 1903.0 L198.3 1924.7 L199.2 1942.7 L200.1 1965.0 L200.9 1947.6 L201.7 1956.6 L202.5 1945.8 L203.3 1965.0 L206.5 1917.9 L208.7 1979.9 L209.5 1962.0 L210.3 1966.4 L211.1 1957.7 L211.9 1965.0 L212.7 1955.3 L213.5 1965.7 L214.3 1951.6 L215.1 1967.1 L216.2 1939.3 L217.1 1924.0 L218.0 1937.8 L218.9 1900.9 L220.4 1956.4 L221.3 1933.9 L222.1 1948.1 L223.0 1911.5 L223.8 1919.6 L224.6 1944.0 L225.4 1936.4 L226.2 1967.1 L227.1 1943.8 L228.0 1957.4 L229.0 1956.4 L230.0 1949.9 L231.1 1947.9 L231.9 1931.4 L232.7 1944.1 L233.5 1930.7 L234.3 1922.2 L235.1 1926.4 L235.9 1933.9 L236.7 1925.6 L237.5 1924.4 L238.6 1912.7 L239.7 1905.1 L240.7 1909.1 L241.8 1922.2 L242.9 1900.9 L243.9 1898.7 L245.0 1889.7 L246.1 1881.6 L247.0 1879.1 L247.9 1884.1 L248.8 1862.4 L249.7 1879.6 L250.6 1888.0 L251.4 1888.0 L252.5 1881.2 L253.5 1896.6 L254.5 1872.7 L255.5 1875.8 L256.4 1860.1 L257.4 1831.4 L258.2 1853.7 L259.1 1865.0 L260.0 1866.7 L260.9 1859.4 L261.8 1864.6 L262.7 1856.0 L263.6 1854.3 L264.4 1865.1 L265.3 1877.4 L266.1 1852.5 L266.9 1863.2 L267.7 1849.7 L268.5 1845.3 L271.1 1821.8 L272.0 1830.9 L272.9 1837.5 L273.8 1836.8 L274.9 1838.5 L276.0 1845.3 L277.1 1836.0 L278.1 1832.5 L279.2 1835.1 L280.3 1834.6 L281.1 1838.2 L282.0 1843.4 L282.8 1840.1 L283.7 1847.2 L284.5 1858.1 L285.4 1842.5 L286.2 1844.8 L287.1 1828.2 L289.9 1862.4 L290.9 1852.0 L292.0 1847.4 L293.1 1862.4 L293.9 1854.1 L294.7 1857.6 L295.5 1851.4 L296.3 1845.3 L297.4 1851.5 L298.4 1864.5 L299.2 1854.3 L300.0 1860.6 L300.8 1854.6 L301.6 1858.1 L302.4 1845.2 L303.2 1850.0 L304.0 1844.0 L304.8 1849.6 L305.9 1834.2 L307.0 1828.2 L307.9 1816.9 L308.8 1834.6 L309.7 1811.1 L311.2 1838.9 L312.1 1819.7 L313.1 1828.4 L314.0 1813.4 L314.9 1809.0 L315.7 1815.3 L316.6 1832.5 L317.6 1815.3 L318.7 1802.6 L319.8 1814.1 L320.9 1832.5 L321.9 1811.3 L323.0 1783.3 L324.1 1804.3 L325.1 1828.2 L325.9 1832.2 L326.7 1834.7 L327.5 1833.1 L328.3 1834.6 L329.4 1836.5 L330.5 1841.0 L331.3 1838.0 L332.1 1838.9 L332.9 1837.7 L333.7 1838.9 L334.5 1824.3 L335.3 1825.1 L336.1 1808.2 L336.9 1787.6 L337.7 1805.3 L338.5 1819.0 L339.3 1815.0 L340.1 1813.2 L341.2 1824.7 L342.2 1838.9 L343.3 1826.0 L344.4 1826.1 L345.4 1827.8 L346.5 1838.9 L347.4 1832.2 L348.2 1833.3 L349.1 1823.9 L350.0 1827.1 L350.9 1834.5 L351.8 1834.6 L352.6 1831.6 L353.4 1834.1 L354.2 1829.9 L355.0 1832.5 L356.1 1849.6 L357.2 1774.8 L358.2 1808.2 L359.3 1823.9 L360.2 1806.4 L361.0 1807.6 L361.9 1770.5 L362.8 1784.6 L363.7 1810.6 L364.7 1809.0 L365.7 1803.8 L366.8 1798.3 L367.9 1806.1 L368.9 1828.2 L370.0 1816.2 L371.1 1811.1 L372.1 1822.4 L373.2 1841.0 L374.3 1828.0 L375.3 1823.9 L376.1 1828.5 L376.9 1833.8 L377.7 1829.7 L378.5 1838.9 L379.3 1829.8 L380.1 1833.2 L381.0 1828.8 L381.8 1823.9 L382.6 1829.6 L383.4 1833.7 L384.2 1832.9 L385.0 1836.8 L386.0 1833.4 L387.1 1841.0 L388.2 1831.1 L389.2 1828.2 L390.1 1833.5 L390.9 1836.1 L391.8 1833.7 L392.6 1836.6 L393.5 1834.6 L395.6 1853.8 L397.4 1802.6 L399.9 1834.6 L400.7 1826.3 L401.5 1830.5 L402.3 1824.7 L403.1 1821.8 L403.2 1821.5 L404.0 1823.6 L404.8 1827.8 L405.6 1825.9 L406.4 1830.0 L407.5 1823.1 L408.5 1817.2 L409.3 1819.8 L410.1 1824.7 L411.0 1823.2 L411.8 1830.0 L412.6 1822.9 L413.5 1826.8 L414.3 1820.3 L415.2 1823.6 L416.0 1817.2 L416.9 1819.5 L417.7 1824.6 L418.6 1820.1 L419.4 1828.5 L420.3 1830.0 L423.5 1804.4 L424.3 1815.3 L425.1 1821.3 L425.9 1820.2 L426.7 1830.0 L427.5 1821.6 L428.3 1824.7 L429.1 1817.0 L429.9 1815.0 L430.7 1819.0 L431.5 1825.6 L432.3 1820.9 L433.1 1830.0 L436.8 1731.7 L438.5 1793.7 L439.3 1807.3 L440.1 1820.5 L440.9 1816.1 L441.7 1827.9 L442.7 1811.3 L443.8 1806.5 L444.6 1810.6 L445.4 1819.9 L446.2 1818.5 L447.0 1830.0 L447.9 1827.3 L448.7 1830.1 L449.6 1825.1 L450.4 1829.4 L451.3 1825.7 L456.0 1785.1 L456.9 1800.6 L457.8 1815.7 L458.8 1827.9 L459.6 1812.2 L460.4 1816.3 L461.2 1807.3 L462.0 1813.1 L462.9 1804.9 L463.7 1800.1 L464.6 1805.3 L465.5 1810.6 L466.4 1806.7 L467.3 1817.2 L468.1 1816.8 L468.9 1820.2 L469.7 1816.7 L470.5 1821.7 L471.3 1817.2 L472.1 1820.4 L472.9 1817.5 L473.7 1821.5 L474.6 1822.5 L475.5 1827.0 L476.4 1822.3 L477.3 1826.3 L478.2 1823.1 L479.1 1827.9 L480.0 1824.7 L480.8 1827.8 L481.7 1823.7 L482.6 1827.5 L483.5 1824.0 L484.4 1823.6 L485.3 1815.1 L486.2 1821.8 L487.1 1811.3 L488.0 1818.9 L488.9 1808.6 L489.7 1804.4 L490.5 1807.5 L491.3 1810.8 L492.1 1809.5 L492.9 1815.0 L493.8 1810.8 L494.6 1813.5 L495.4 1808.5 L496.2 1806.5 L499.4 1761.6 L500.2 1762.9 L501.1 1780.3 L501.9 1769.0 L502.8 1781.6 L503.6 1787.3 L507.9 1732.8 L511.1 1761.6 L511.9 1747.8 L512.7 1759.1 L513.5 1748.1 L514.3 1755.2 L515.2 1748.5 L516.2 1746.8 L517.1 1729.6 L517.9 1744.3 L518.8 1758.5 L519.7 1765.9 L520.7 1750.8 L521.8 1742.4 L522.9 1752.3 L523.9 1774.4 L524.7 1769.3 L525.5 1775.7 L526.3 1769.6 L527.1 1789.4 L527.9 1762.4 L528.7 1769.2 L529.5 1754.0 L530.3 1755.2 L531.4 1774.4 L532.2 1752.5 L533.0 1765.5 L533.8 1749.4 L534.6 1740.3 L535.5 1739.9 L536.4 1739.7 L537.3 1738.1 L538.2 1738.2 L539.1 1736.5 L540.0 1729.6 L541.0 1742.4 L542.0 1743.9 L542.9 1748.5 L543.9 1744.4 L544.9 1748.8 L549.6 1710.3 L550.4 1713.0 L551.3 1721.6 L552.1 1719.3 L553.0 1725.4 L553.8 1729.6 L557.1 1697.5 L557.9 1699.1 L558.7 1705.8 L559.5 1703.5 L560.3 1710.3 L561.1 1690.5 L561.9 1696.1 L562.7 1684.4 L563.5 1680.4 L564.4 1680.2 L565.2 1690.0 L566.1 1680.6 L567.0 1691.0 L567.9 1681.8 L568.8 1674.0 L570.9 1708.2 L571.8 1687.7 L572.6 1678.3 L573.6 1684.4 L574.5 1691.6 L575.5 1688.7 L576.4 1699.3 L577.4 1703.9 L578.2 1695.9 L579.1 1703.3 L579.9 1695.8 L580.8 1699.7 L581.6 1693.2 L582.5 1700.4 L583.3 1702.4 L584.2 1703.0 L585.0 1704.8 L585.9 1706.1 L586.8 1706.3 L587.6 1707.3 L588.5 1707.1 L589.3 1707.6 L590.2 1708.2 L591.0 1710.2 L591.8 1717.5 L592.6 1712.8 L593.4 1718.9 L594.2 1705.2 L595.0 1710.2 L595.8 1699.6 L596.6 1708.5 L597.4 1696.3 L598.2 1708.5 L599.0 1693.6 L599.8 1691.1 L600.7 1677.8 L601.6 1684.6 L602.5 1677.0 L603.3 1683.7 L604.2 1674.9 L605.1 1671.9 L606.0 1674.5 L606.9 1689.9 L607.8 1682.5 L608.7 1694.4 L609.6 1686.5 L610.5 1697.5 L611.3 1683.7 L612.1 1688.5 L612.9 1680.8 L613.7 1674.0 L614.5 1675.5 L615.4 1690.5 L616.2 1683.1 L617.1 1690.8 L617.9 1695.4 L618.8 1679.3 L619.7 1690.3 L620.6 1677.0 L621.5 1684.6 L622.4 1674.6 L623.3 1671.9 L624.2 1676.9 L625.1 1696.4 L626.0 1685.0 L626.9 1702.4 L627.7 1691.2 L628.6 1708.2 L629.4 1699.9 L630.2 1704.2 L631.0 1696.9 L631.8 1695.4 L632.7 1694.3 L633.5 1694.8 L634.4 1693.9 L635.3 1694.6 L636.1 1693.2 L637.0 1691.5 L637.8 1691.5 L638.7 1689.9 L639.5 1690.0 L640.4 1684.7 L641.2 1686.1 L642.1 1688.9 L642.9 1687.1 L643.8 1689.3 L644.7 1691.1 L645.5 1685.1 L646.3 1688.4 L647.1 1682.7 L647.9 1682.6 L648.7 1685.3 L649.5 1688.6 L650.3 1687.2 L651.1 1691.0 L651.9 1687.9 L652.7 1691.7 L653.5 1690.2 L654.3 1699.7 L655.3 1685.5 L656.4 1680.4 L657.3 1676.0 L658.1 1678.4 L659.0 1676.1 L659.8 1679.2 L660.7 1674.0 L661.6 1669.8 L662.5 1671.6 L663.4 1668.5 L664.2 1670.6 L665.1 1666.8 L666.0 1665.5 L666.8 1660.6 L667.6 1662.7 L668.4 1657.6 L669.2 1656.9 L674.6 1635.6 L675.4 1639.7 L676.3 1648.1 L677.1 1639.7 L678.0 1649.3 L678.8 1652.6 L684.2 1618.5 L685.3 1628.6 L686.3 1648.4 L687.1 1625.1 L687.9 1631.5 L688.7 1619.3 L689.5 1612.1 L690.0 1634.9 L690.8 1620.2 L691.6 1624.2 L692.4 1612.1 L693.2 1602.8 L694.0 1607.9 L694.8 1610.5 L695.6 1611.0 L696.4 1615.6 L697.5 1611.5 L698.5 1611.4 L699.3 1614.1 L700.1 1621.2 L701.0 1612.5 L701.8 1609.2 L702.8 1616.8 L703.9 1632.7 L705.0 1626.9 L706.0 1649.8 L706.9 1639.4 L707.7 1644.5 L708.6 1634.4 L709.4 1640.8 L710.3 1626.3 L713.5 1654.1 L714.3 1649.5 L715.1 1651.4 L715.9 1647.8 L716.7 1645.6 L717.6 1653.0 L718.4 1655.9 L719.3 1655.1 L720.1 1658.9 L721.0 1660.5 L721.8 1661.9 L722.7 1663.6 L723.5 1663.6 L724.4 1665.5 L725.3 1671.2 L726.1 1664.6 L726.9 1664.3 L727.7 1662.7 L728.5 1662.6 L731.7 1649.8 L734.9 1686.2 L735.7 1675.0 L736.6 1678.4 L737.4 1670.4 L738.3 1680.0 L739.1 1671.2 L739.9 1670.3 L740.7 1677.1 L741.5 1671.4 L742.4 1662.6 L743.4 1692.6 L744.3 1681.5 L745.1 1689.0 L746.0 1680.4 L746.8 1683.5 L747.7 1675.5 L748.8 1694.7 L754.1 1673.3 L755.0 1671.8 L755.8 1673.1 L756.7 1670.8 L757.5 1672.7 L758.4 1671.2 L759.2 1670.4 L760.0 1670.4 L760.8 1668.6 L761.6 1662.6 L762.4 1668.8 L763.2 1670.2 L764.0 1671.7 L764.8 1675.5 L768.6 1629.5 L770.1 1671.2 L771.0 1668.0 L771.8 1671.4 L772.7 1664.6 L773.5 1669.8 L774.4 1664.8 L775.2 1666.2 L776.0 1669.1 L776.8 1668.4 L777.6 1673.3 L778.5 1668.1 L779.3 1670.1 L780.2 1666.0 L781.0 1667.4 L781.9 1662.6 L782.7 1667.0 L783.6 1668.8 L784.4 1668.7 L785.3 1670.2 L786.2 1671.2 L787.0 1669.9 L787.9 1671.6 L788.7 1668.8 L789.6 1671.6 L790.4 1669.1 L791.3 1670.5 L792.2 1677.6 L793.1 1672.3 L794.0 1678.6 L794.9 1673.5 L795.8 1679.7 L796.7 1665.6 L797.5 1675.5 L798.4 1666.9 L799.3 1673.3 L800.2 1664.1 L801.1 1658.4 L802.1 1664.8 L803.0 1693.0 L804.0 1673.9 L805.0 1703.2 L805.9 1690.9 L806.8 1696.9 L807.8 1688.8 L808.7 1694.7 L809.7 1686.2 L810.5 1691.3 L811.3 1698.0 L812.1 1695.9 L812.9 1705.4 L813.7 1685.7 L814.5 1692.6 L815.3 1677.9 L816.1 1673.3 L816.9 1668.5 L817.7 1673.5 L818.6 1669.8 L819.4 1672.3 L820.2 1668.2 L821.1 1671.7 L821.9 1667.9 L822.7 1671.8 L823.5 1666.9 L824.4 1670.5 L825.3 1676.8 L826.1 1671.8 L827.0 1679.6 L827.8 1681.9 L828.7 1678.0 L829.5 1679.4 L830.4 1677.8 L831.2 1678.8 L832.1 1675.5 L832.9 1681.2 L833.7 1683.3 L834.5 1685.5 L835.3 1694.7 L836.2 1686.8 L837.0 1692.1 L837.9 1686.4 L838.7 1690.6 L839.6 1681.9 L840.4 1678.7 L841.2 1682.0 L842.0 1677.4 L842.8 1680.6 L843.6 1677.8 L844.4 1681.0 L845.2 1677.8 L846.0 1677.6 L846.8 1683.3 L847.6 1690.5 L848.4 1684.8 L849.2 1696.8 L850.0 1696.5 L850.8 1701.4 L851.6 1698.1 L852.4 1703.2 L853.2 1699.3 L854.1 1699.4 L855.0 1697.0 L855.8 1696.6 L856.7 1690.4 L857.5 1692.5 L858.4 1697.4 L859.2 1693.8 L860.1 1699.1 L860.9 1701.1 L861.8 1693.8 L862.6 1697.2 L863.5 1692.0 L864.4 1694.1 L865.2 1684.0 L866.0 1688.4 L866.8 1696.0 L867.6 1693.2 L868.4 1701.1 L869.3 1692.6 L870.2 1700.6 L871.1 1691.8 L872.0 1697.5 L872.9 1689.8 L873.8 1688.3 L874.7 1687.0 L875.5 1688.1 L876.4 1686.0 L877.3 1688.6 L878.2 1685.2 L879.1 1686.2 L880.0 1686.4 L880.8 1694.9 L881.7 1690.3 L882.5 1698.7 L883.4 1699.0 L884.3 1691.9 L885.2 1692.3 L886.0 1690.3 L886.9 1691.6 L887.8 1688.9 L888.7 1690.4 L889.6 1683.3 L890.4 1687.6 L891.3 1682.3 L892.1 1687.0 L893.0 1679.7 L893.9 1680.4 L894.8 1690.4 L895.7 1686.4 L896.6 1694.0 L897.4 1688.9 L898.3 1696.8 L899.2 1694.5 L900.1 1696.6 L901.0 1692.7 L901.9 1695.6 L902.8 1692.6 L903.7 1692.6 L904.5 1688.7 L905.3 1690.9 L906.1 1687.4 L906.9 1689.8 L907.7 1684.7 L908.5 1688.2 L909.3 1684.3 L910.1 1684.0 L911.0 1686.2 L911.9 1690.9 L912.8 1687.2 L913.6 1691.3 L914.5 1687.7 L915.4 1694.7 L916.3 1695.5 L917.2 1699.1 L918.1 1696.0 L919.0 1702.8 L919.9 1696.8 L920.8 1703.2 L921.6 1697.7 L922.5 1701.5 L923.3 1693.9 L924.2 1698.0 L925.0 1692.6 L928.9 1671.2 L931.5 1701.1 L932.3 1695.1 L933.2 1699.7 L934.0 1694.0 L934.9 1700.5 L935.7 1701.1 L936.8 1697.7 L937.9 1686.2 L941.1 1716.1 L941.9 1712.0 L942.8 1714.0 L943.6 1709.0 L944.5 1713.9 L945.3 1707.5 L946.2 1699.3 L947.1 1706.1 L948.0 1699.3 L948.9 1703.7 L949.8 1696.6 L950.7 1694.7 L951.6 1694.3 L952.5 1695.2 L953.4 1694.4 L954.2 1696.0 L955.1 1693.7 L956.0 1694.7 L956.9 1690.6 L957.8 1695.5 L958.7 1691.8 L959.6 1694.1 L960.5 1691.3 L961.4 1690.4 L962.2 1683.1 L963.0 1688.2 L963.8 1682.7 L964.6 1686.5 L965.4 1680.7 L966.2 1687.8 L967.0 1680.7 L967.8 1679.7 L968.7 1676.5 L969.6 1679.3 L970.4 1676.5 L971.3 1679.3 L972.2 1675.2 L973.1 1675.5 L978.0 1662.6 L979.5 1684.0 L979.7 1915.2 L980.6 1684.0 L981.4 1672.4 L982.2 1677.2 L983.0 1669.1 L983.8 1665.9 L984.7 1670.6 L985.6 1679.8 L986.4 1683.8 L987.4 1676.9 L988.3 1679.0 L989.3 1670.4 L990.3 1668.5 L991.2 1669.8 L992.2 1683.5 L993.1 1678.1 L994.1 1686.4 L995.0 1679.9 L995.8 1684.4 L996.7 1677.9 L997.5 1683.7 L998.4 1678.6 L999.2 1676.2 L1000.0 1666.8 L1000.8 1674.1 L1001.6 1661.9 L1002.4 1672.8 L1003.2 1662.6 L1004.0 1666.6 L1004.8 1659.5 L1005.6 1658.2 L1006.6 1661.1 L1007.6 1666.4 L1008.5 1664.3 L1009.5 1671.0 L1010.3 1660.5 L1011.2 1667.8 L1012.0 1659.4 L1012.9 1666.7 L1013.7 1653.5 L1014.5 1659.7 L1015.4 1650.5 L1016.3 1657.4 L1017.1 1672.4 L1018.0 1659.6 L1018.9 1675.3 L1019.7 1681.3 L1020.6 1665.8 L1021.5 1667.1 L1022.3 1656.2 L1023.2 1665.2 L1024.0 1650.0 L1024.9 1642.8 L1027.4 1673.6 L1028.4 1666.1 L1029.4 1669.4 L1030.3 1664.6 L1031.3 1663.3 L1032.2 1667.5 L1033.2 1674.7 L1034.2 1668.6 L1035.1 1681.3 L1035.9 1677.9 L1036.7 1680.3 L1037.5 1677.5 L1038.3 1680.3 L1039.1 1676.2 L1039.9 1680.6 L1040.7 1675.6 L1041.5 1676.2 L1042.3 1678.1 L1043.1 1683.4 L1043.9 1681.3 L1044.7 1685.8 L1045.5 1682.0 L1046.3 1691.2 L1047.1 1681.8 L1047.9 1691.5 L1048.8 1681.9 L1049.6 1686.0 L1050.4 1681.5 L1051.2 1687.7 L1052.0 1678.6 L1052.8 1682.5 L1053.7 1675.1 L1054.5 1684.0 L1055.3 1672.7 L1056.1 1683.2 L1056.9 1671.0 L1057.8 1672.3 L1058.6 1677.0 L1059.5 1674.8 L1060.3 1680.0 L1061.2 1674.3 L1062.1 1681.3 L1062.9 1681.6 L1063.7 1688.4 L1064.5 1683.8 L1065.3 1688.7 L1066.1 1685.0 L1066.9 1688.6 L1067.7 1684.7 L1068.5 1691.5 L1069.4 1685.3 L1070.4 1690.3 L1071.3 1685.3 L1072.3 1683.8 L1073.2 1682.0 L1074.0 1684.3 L1074.9 1681.0 L1075.7 1683.7 L1076.6 1680.8 L1077.4 1681.3 L1078.3 1680.6 L1079.1 1687.2 L1080.0 1681.4 L1080.9 1686.4 L1081.7 1683.9 L1082.6 1688.9 L1083.4 1682.8 L1084.3 1689.4 L1085.1 1689.0 L1086.0 1688.6 L1086.8 1695.2 L1087.7 1689.0 L1088.5 1696.1 L1089.4 1690.3 L1090.3 1694.8 L1091.1 1692.6 L1092.0 1695.8 L1092.8 1696.7 L1093.7 1686.4 L1094.5 1692.6 L1095.4 1687.5 L1096.2 1691.5 L1097.1 1683.2 L1097.9 1681.3 L1098.8 1683.0 L1099.7 1688.2 L1100.5 1685.0 L1101.4 1692.5 L1102.2 1684.7 L1103.1 1694.1 L1103.9 1691.4 L1104.7 1695.1 L1105.5 1691.7 L1106.3 1693.7 L1107.1 1691.6 L1107.9 1693.6 L1108.7 1690.3 L1109.5 1691.5 L1110.4 1695.3 L1111.4 1700.3 L1112.4 1696.3 L1113.3 1704.4 L1114.1 1696.6 L1114.9 1703.6 L1115.7 1695.1 L1116.5 1700.3 L1117.3 1694.1 L1118.1 1701.4 L1118.9 1694.4 L1119.7 1691.5 L1120.6 1683.9 L1121.5 1691.2 L1122.3 1684.2 L1123.2 1687.0 L1124.0 1681.7 L1124.9 1681.3 L1125.7 1689.4 L1126.6 1693.8 L1127.4 1704.4 L1128.4 1696.3 L1129.4 1699.4 L1130.3 1691.5 L1131.3 1689.0 L1132.1 1692.8 L1133.0 1700.9 L1133.8 1694.3 L1134.7 1700.9 L1135.6 1695.1 L1136.4 1706.9 L1137.3 1699.8 L1138.1 1704.7 L1139.0 1700.7 L1139.8 1704.8 L1140.7 1698.9 L1141.5 1703.8 L1142.4 1696.8 L1143.2 1701.4 L1144.1 1696.7 L1144.9 1699.4 L1145.7 1709.8 L1146.5 1699.2 L1147.3 1709.6 L1148.1 1701.3 L1148.9 1709.2 L1149.7 1707.3 L1150.5 1714.6 L1151.5 1705.3 L1152.4 1711.0 L1153.4 1700.6 L1154.4 1696.7 L1155.2 1687.5 L1156.1 1693.6 L1156.9 1689.2 L1157.8 1692.2 L1158.6 1686.2 L1159.5 1683.8 L1160.3 1691.1 L1161.1 1701.9 L1161.9 1688.5 L1162.7 1706.5 L1163.5 1695.8 L1164.3 1704.7 L1165.1 1693.8 L1165.9 1712.1 L1166.8 1703.9 L1167.6 1709.3 L1168.5 1701.7 L1169.3 1707.2 L1170.2 1700.6 L1171.0 1699.2 L1171.9 1682.5 L1172.7 1695.8 L1173.6 1681.5 L1174.4 1692.3 L1175.3 1677.3 L1176.2 1672.3 L1177.0 1672.7 L1177.8 1680.3 L1178.6 1675.1 L1179.4 1684.5 L1180.2 1679.7 L1181.0 1687.6 L1181.8 1681.9 L1182.6 1689.0 L1183.4 1686.1 L1184.3 1688.5 L1185.1 1684.4 L1186.0 1686.9 L1186.8 1682.8 L1187.7 1683.8 L1188.5 1685.2 L1189.4 1689.6 L1190.3 1684.9 L1191.1 1689.3 L1192.0 1685.4 L1192.8 1691.5 L1193.6 1682.9 L1194.4 1687.8 L1195.2 1682.9 L1196.0 1685.3 L1196.8 1679.5 L1197.6 1685.3 L1198.4 1678.6 L1199.2 1676.2 L1200.1 1676.2 L1200.9 1683.4 L1201.8 1677.9 L1202.6 1684.3 L1203.5 1679.3 L1204.4 1686.4 L1205.2 1686.6 L1206.1 1688.8 L1206.9 1685.6 L1207.8 1689.1 L1208.6 1687.4 L1209.5 1689.0 L1210.3 1675.2 L1211.2 1678.6 L1212.1 1660.8 L1213.0 1662.8 L1214.0 1669.3 L1214.9 1665.3 L1215.9 1671.0 L1216.8 1666.6 L1217.6 1670.6 L1218.5 1667.9 L1219.3 1670.7 L1220.2 1667.2 L1221.0 1670.0 L1221.9 1665.8 L1222.7 1670.0 L1223.6 1665.9 L1224.4 1664.9 L1225.2 1668.9 L1226.1 1666.6 L1226.9 1668.8 L1227.7 1668.5 L1228.2 1758.2 L1229.2 1668.5 L1230.2 1666.4 L1231.1 1668.9 L1232.0 1665.0 L1232.9 1667.5 L1233.8 1665.9 L1234.7 1666.0 L1235.6 1667.9 L1236.4 1665.7 L1237.3 1669.1 L1238.1 1666.6 L1239.0 1668.5 L1239.8 1661.1 L1240.7 1666.8 L1241.5 1660.6 L1242.4 1666.0 L1243.2 1660.2 L1244.1 1664.7 L1245.0 1660.5 L1245.8 1664.0 L1246.7 1658.2 L1247.5 1660.2 L1248.4 1665.5 L1249.2 1660.9 L1250.1 1668.4 L1250.9 1664.0 L1251.8 1671.0 L1252.6 1667.5 L1253.4 1671.4 L1254.2 1666.7 L1255.0 1669.6 L1255.8 1666.0 L1256.6 1669.5 L1257.4 1666.7 L1258.2 1665.9 L1259.0 1660.8 L1259.8 1663.5 L1260.6 1660.4 L1261.4 1664.6 L1262.2 1658.1 L1263.0 1662.2 L1263.8 1657.7 L1264.6 1655.6 L1265.5 1656.7 L1266.3 1661.3 L1267.2 1656.1 L1268.0 1662.3 L1268.9 1659.5 L1269.7 1663.3 L1270.6 1656.9 L1271.5 1663.0 L1272.3 1655.2 L1273.2 1659.7 L1274.0 1655.1 L1274.9 1653.1 L1275.7 1648.9 L1276.5 1651.7 L1277.3 1648.6 L1278.1 1650.7 L1278.9 1646.6 L1279.7 1651.4 L1280.5 1647.0 L1281.3 1646.7 L1282.1 1645.8 L1283.0 1649.6 L1283.8 1646.1 L1284.7 1651.1 L1285.6 1648.4 L1286.4 1650.5 L1287.3 1650.4 L1288.1 1658.4 L1289.0 1652.9 L1289.8 1661.5 L1290.7 1655.9 L1291.5 1663.3 L1292.4 1658.7 L1293.2 1663.2 L1294.1 1657.6 L1295.0 1661.2 L1295.8 1656.9 L1296.7 1655.6 L1297.6 1656.2 L1298.6 1664.1 L1299.6 1660.8 L1300.5 1665.9 L1301.3 1666.2 L1302.1 1670.5 L1302.9 1666.1 L1303.7 1669.7 L1304.5 1667.2 L1305.3 1669.7 L1306.1 1667.7 L1306.9 1671.0 L1307.9 1670.8 L1308.8 1677.3 L1309.8 1674.9 L1310.8 1678.7 L1311.7 1664.6 L1312.7 1672.3 L1313.7 1660.3 L1314.6 1659.5 L1315.5 1659.4 L1316.3 1663.7 L1317.2 1659.5 L1318.0 1664.2 L1318.9 1662.0 L1319.7 1665.9 L1320.6 1666.2 L1321.5 1671.0 L1322.3 1666.8 L1323.2 1672.0 L1324.0 1668.5 L1324.9 1672.3" fill="none" stroke="#2a1f7a" stroke-width="1.9" stroke-linejoin="round" stroke-linecap="butt"/>
<path d="M579.3 2037.8 L582.0 1931.1 L585.5 2057.2 L586.5 2050.5 L587.5 2041.7 L588.4 2053.3 L589.4 2072.7 L590.4 2041.7 L591.3 2071.8 L592.3 2111.5 L593.7 2132.9 L594.5 2080.6 L595.4 2104.3 L596.2 2111.5 L597.2 2058.1 L598.1 2081.3 L599.1 2022.3 L600.1 2017.4 L601.0 2061.9 L602.0 2020.3 L603.0 1956.3 L604.0 1957.2 L604.9 1980.3 L605.9 1948.5 L606.9 1967.3 L607.8 1994.9 L608.8 1997.1 L609.8 1971.6 L610.8 1952.4 L611.7 1964.5 L612.7 1987.3 L613.7 2008.7 L614.6 1979.7 L615.6 1982.9 L616.6 1958.2 L617.5 1973.6 L618.5 1984.7 L619.5 1969.9 L620.5 1978.1 L621.4 2001.8 L622.4 2014.5 L623.4 2018.2 L624.3 2029.4 L625.3 2021.7 L626.3 2033.9 L627.2 2030.9 L628.2 2037.3 L629.2 2057.2 L630.2 2028.9 L631.1 2036.5 L632.1 2012.6 L635.6 1824.3 L637.9 2049.4 L638.9 2027.6 L639.9 2040.4 L640.8 2018.4 L641.8 2031.3 L642.8 2041.3 L643.7 2045.6 L644.7 2035.5 L645.7 2036.7 L646.7 2028.1 L647.6 2033.2 L648.6 2044.7 L649.6 2061.1 L650.5 2019.8 L651.5 2010.1 L652.5 1964.1 L654.8 1816.6 L656.4 2002.9 L657.3 2011.9 L658.3 2020.9 L659.3 2028.1 L660.2 2014.8 L661.2 2027.5 L662.2 2030.0 L663.1 1994.1 L664.1 2003.3 L665.1 1964.1 L666.1 1944.3 L667.0 1966.6 L668.0 1905.8 L669.0 1943.4 L669.9 2010.6 L670.9 1957.0 L671.9 1972.0 L672.9 1925.2 L673.8 1935.7 L674.8 2006.8 L676.3 1839.9 L677.7 2002.9 L678.5 1949.0 L679.3 1975.4 L680.1 1920.9 L680.9 1966.5 L681.7 1902.6 L682.6 1892.3 L683.5 1930.7 L684.5 1957.9 L685.5 1979.6 L686.4 1930.8 L687.4 1931.4 L688.4 1931.1 L691.3 1865.1 L694.2 1979.6 L698.1 1925.2 L699.1 1915.1 L700.0 1922.9 L701.0 1913.3 L702.0 1911.7 L702.9 1926.1 L703.9 1935.4 L704.9 1940.8 L705.8 1948.3 L706.8 1957.9 L707.8 1964.1 L708.8 1969.2 L709.7 1977.9 L710.7 1973.6 L711.7 1983.5 L714.6 2016.5 L715.5 1988.1 L716.5 1995.7 L717.5 1973.8 L718.3 1935.1 L719.2 1958.6 L720.0 1915.7 L720.8 1938.8 L721.6 1906.7 L722.5 1916.9 L723.3 1867.0 L724.9 1674.9 L727.2 1896.1 L728.2 1908.2 L729.1 1931.9 L730.1 1915.3 L731.1 1942.7 L732.0 1943.8 L733.0 1951.9 L734.0 1982.1 L735.0 1954.9 L736.0 1946.4 L736.9 1952.3 L737.9 1968.9 L738.8 1957.3 L739.7 1960.5 L740.6 1954.3 L741.5 1947.2 L742.3 1955.8 L743.2 1934.5 L744.2 1953.2 L745.2 1968.9 L746.0 1958.4 L746.9 1963.8 L747.7 1952.8 L748.5 1950.4 L749.4 1951.9 L750.3 1965.5 L751.2 1970.2 L755.1 1939.8 L756.0 1940.4 L756.8 1945.6 L757.6 1943.7 L758.4 1947.7 L760.4 1853.8 L761.7 1947.7 L762.6 1945.3 L763.5 1944.0 L764.4 1935.8 L765.3 1945.0 L766.2 1951.8 L767.0 1946.4 L767.9 1951.0 L768.8 1958.4 L769.7 1962.3 L770.6 1946.8 L771.4 1958.5 L772.3 1972.9 L773.2 1942.3 L774.0 1945.9 L774.8 1915.9 L775.6 1881.6 L776.6 1913.3 L777.6 1919.9 L778.5 1937.5 L779.4 1966.2 L780.3 1975.5 L781.3 1959.8 L782.2 1987.4 L783.2 1964.6 L784.2 1968.9 L785.2 1975.8 L786.2 1980.1 L787.2 1978.4 L788.2 1983.4 L789.5 1939.8 L790.4 1950.9 L791.3 1962.9 L792.2 1975.5 L793.2 1949.3 L794.2 1945.1 L795.1 1939.3 L796.1 1916.0 L798.8 1949.0 L799.6 1947.7 L800.4 1948.4 L801.3 1947.0 L802.1 1946.4 L802.9 1948.4 L803.7 1950.4 L804.6 1951.3 L805.4 1959.6 L806.4 1951.2 L807.4 1946.4 L810.7 1880.3 L812.7 1966.2 L813.5 1918.3 L814.3 1945.4 L815.2 1922.5 L816.0 1938.5 L816.9 1919.6 L817.7 1953.3 L818.6 1962.3 L819.5 1895.6 L820.4 1922.2 L821.3 1849.8 L822.1 1858.1 L822.9 1887.7 L823.8 1852.3 L824.6 1798.3 L825.6 1883.1 L826.6 1958.3 L827.4 1913.3 L828.3 1956.2 L829.2 1954.3 L830.0 1948.0 L830.9 1951.8 L831.7 1944.1 L832.5 1938.5 L833.5 1947.7 L834.5 1957.0 L835.4 1947.9 L836.3 1950.8 L837.1 1942.4 L838.0 1949.0 L838.9 1958.9 L839.8 1971.5 L842.4 1951.7 L843.4 1954.4 L844.4 1959.4 L845.4 1953.1 L846.4 1949.0 L847.3 1952.4 L848.2 1956.1 L849.0 1967.6 L849.9 1954.7 L850.7 1956.3 L851.5 1948.9 L852.4 1939.8 L855.7 1962.3 L856.5 1951.1 L857.4 1959.0 L858.3 1954.3 L859.2 1960.1 L860.1 1961.5 L861.0 1963.6 L861.9 1949.7 L862.9 1939.8 L863.8 1948.8 L864.7 1957.9 L865.6 1962.3 L866.4 1952.6 L867.2 1954.8 L868.1 1949.3 L868.9 1947.7 L869.9 1948.5 L870.9 1951.6 L871.9 1936.0 L872.9 1950.5 L873.9 1962.3 L875.0 1954.7 L876.2 1949.9 L877.2 1954.0 L878.2 1959.4 L879.3 1963.8 L880.3 1956.8 L881.3 1957.5 L882.4 1949.9 L883.5 1954.7 L884.7 1960.7 L886.2 1945.3 L887.4 1950.4 L888.5 1959.2 L889.7 1948.3 L890.8 1940.7 L892.0 1948.3 L893.2 1960.7 L894.7 1934.5 L895.7 1939.0 L896.8 1952.7 L897.8 1963.8 L899.0 1937.8 L900.1 1919.0 L901.3 1927.9 L902.4 1953.0 L904.0 1920.6 L905.0 1928.2 L906.0 1943.8 L907.1 1951.5 L908.0 1947.1 L909.0 1947.8 L910.0 1943.9 L910.9 1942.2 L911.9 1943.9 L912.9 1946.1 L913.8 1943.7 L914.8 1942.2 L915.8 1944.8 L916.8 1947.3 L917.9 1959.2 L918.8 1943.6 L919.8 1949.5 L920.8 1936.4 L921.7 1928.3 L922.9 1938.6 L924.0 1954.6 L925.2 1938.6 L926.4 1932.9 L927.4 1933.0 L928.4 1942.1 L929.5 1945.3 L930.5 1938.5 L931.5 1942.5 L932.5 1942.2 L933.7 1935.8 L934.9 1912.9 L937.9 1860.4 L940.3 1943.8 L941.3 1923.4 L942.3 1926.9 L943.3 1929.9 L947.2 1900.5 L948.2 1904.8 L949.3 1919.8 L950.3 1923.7 L952.6 1889.7 L955.2 1806.3 L956.2 1862.5 L957.2 1886.6 L958.4 1893.8 L959.6 1917.5 L961.1 1858.8 L962.3 1881.1 L963.4 1889.7 L964.5 1889.9 L965.5 1895.3 L966.5 1888.2 L968.8 1766.2 L971.9 1906.7 L973.2 1832.6 L974.0 1835.8 L974.8 1863.6 L975.7 1851.2 L976.5 1883.5 L977.6 1852.7 L978.6 1866.0 L979.6 1826.4 L980.8 1842.6 L982.0 1883.5 L983.5 1795.5 L984.7 1832.7 L985.8 1874.3 L986.8 1845.1 L987.9 1853.3 L988.9 1829.5 L989.9 1843.8 L991.0 1864.4 L992.0 1875.8 L995.8 1919.0 L996.9 1898.4 L997.9 1903.9 L998.9 1888.2 L1001.6 1786.3 L1004.0 1914.4 L1004.9 1855.8 L1005.7 1901.6 L1006.6 1867.8 L1007.4 1922.1 L1011.3 1735.3 L1014.4 1929.9 L1015.3 1880.7 L1016.2 1948.8 L1017.1 1875.8 L1018.0 1955.5 L1018.9 1906.4 L1019.8 1994.7 L1021.3 1766.2 L1023.6 1960.7 L1024.6 1961.9 L1025.6 1964.7 L1026.5 1962.7 L1027.5 1965.4 L1028.4 1966.3 L1029.3 1969.9 L1030.2 1968.1 L1031.1 1971.1 L1032.0 1972.6 L1034.6 1887.9 L1036.0 1988.5 L1036.8 1975.8 L1037.7 1976.4 L1038.6 1948.8 L1039.6 1973.4 L1040.6 1983.2 L1042.6 2011.0 L1043.4 1992.1 L1044.2 2002.3 L1045.1 1985.4 L1045.9 1977.9 L1046.8 1983.4 L1047.6 1996.3 L1048.5 1980.6 L1049.6 2017.6 L1050.6 1993.9 L1051.5 2006.3 L1052.5 1995.1 L1053.5 2004.9 L1054.5 2029.6 L1055.4 2007.8 L1056.2 2010.0 L1057.1 1989.8 L1058.0 1995.0 L1058.8 2009.4 L1059.6 2001.4 L1060.4 2004.4 L1061.4 2009.3 L1062.4 2022.9 L1063.3 2012.7 L1064.1 2021.0 L1064.9 2015.0 L1065.7 2022.9 L1067.1 2036.2 L1068.0 2027.2 L1069.0 2026.6 L1070.0 2019.1 L1071.0 2007.1 L1071.9 2020.0 L1072.7 2025.2 L1073.5 2025.7 L1074.3 2032.2 L1075.2 2039.1 L1076.1 2056.5 L1077.0 2062.6 L1078.3 2026.9 L1079.1 2034.5 L1080.0 2055.3 L1080.8 2045.7 L1081.6 2070.6 L1082.6 2032.3 L1083.6 2013.7 L1084.4 2025.2 L1085.3 2047.9 L1086.1 2038.2 L1086.9 2078.5 L1087.9 2033.5 L1088.9 2013.7 L1089.7 2031.1 L1090.5 2052.2 L1091.4 2044.3 L1092.2 2067.9 L1093.5 2034.8 L1094.4 2042.5 L1095.3 2055.6 L1096.2 2066.6 L1097.5 2030.9 L1098.4 2025.8 L1099.3 2040.9 L1100.3 2025.2 L1101.2 2038.2 L1102.1 2004.4 L1103.1 2043.4 L1104.1 2097.0 L1105.1 2040.0 L1106.1 2013.7 L1107.4 2053.4 L1108.4 2035.7 L1109.4 2021.6 L1110.7 2078.5 L1111.6 2042.3 L1112.4 2053.6 L1113.2 2035.4 L1114.0 2032.2 L1115.0 2018.6 L1116.0 1995.1 L1117.0 2034.4 L1118.0 2060.0 L1118.8 2046.0 L1119.7 2053.5 L1120.5 2045.9 L1121.3 2045.4 L1122.3 2042.1 L1123.3 2082.5 L1124.3 2059.7 L1125.3 2063.5 L1126.3 2044.7 L1127.3 2022.9 L1128.2 2049.0 L1129.0 2072.8 L1129.9 2082.5 L1130.8 2066.2 L1131.7 2077.4 L1132.6 2097.0 L1133.6 2053.0 L1134.6 2048.1 L1135.5 2041.6 L1136.5 2030.9 L1137.5 2047.8 L1138.5 2075.9 L1139.4 2049.4 L1140.3 2052.6 L1141.2 2029.6 L1142.1 2040.4 L1142.9 2055.9 L1143.8 2057.3 L1144.8 2049.8 L1145.8 2070.6 L1146.8 2050.5 L1147.8 2052.4 L1148.8 2038.3 L1149.8 2019.0 L1151.8 2075.9 L1152.6 2057.0 L1153.4 2074.8 L1154.2 2055.7 L1155.1 2086.5 L1155.9 2049.6 L1156.7 2063.5 L1157.5 2038.7 L1158.4 2025.6 L1162.3 2065.3 L1163.3 2052.4 L1164.3 2070.7 L1165.3 2063.5 L1166.3 2086.5 L1167.2 2051.5 L1168.1 2064.0 L1169.0 2036.2 L1170.0 2038.7 L1170.9 2082.5 L1171.9 2042.9 L1172.9 2019.0 L1173.9 2016.4 L1174.9 2028.4 L1175.9 2014.5 L1176.9 2008.4 L1178.2 2045.4 L1179.1 2025.7 L1180.0 2023.6 L1180.9 2012.3 L1181.3 2012.5 L1182.9 2086.6 L1184.0 2053.3 L1185.0 2031.0 L1186.6 2078.7 L1187.4 2053.8 L1188.3 2056.9 L1189.1 2036.0 L1189.9 2029.7 L1190.9 2043.7 L1191.9 2072.0 L1192.7 2050.7 L1193.6 2053.2 L1194.4 2029.6 L1195.2 2015.1 L1196.2 2041.4 L1197.2 2064.1 L1198.2 2054.3 L1199.2 2070.7 L1200.1 2051.9 L1201.0 2060.5 L1201.8 2041.6 L1202.8 2057.4 L1203.8 2065.4 L1204.7 2066.8 L1205.6 2074.2 L1206.5 2086.6 L1207.4 2057.7 L1208.2 2072.3 L1209.1 2057.5 L1209.9 2064.7 L1210.8 2074.6 L1211.6 2070.3 L1212.4 2082.6 L1213.1 2036.3 L1215.2 1898.9 L1217.1 2068.1 L1218.0 2074.3 L1219.0 2097.2 L1219.9 2081.7 L1220.8 2087.6 L1221.7 2086.6 L1222.7 2073.3 L1223.7 2060.1 L1224.7 2064.1 L1225.7 2077.2 L1226.7 2072.9 L1227.6 2082.6 L1228.7 2067.8 L1229.7 2073.0 L1230.7 2036.3 L1231.8 2059.8 L1232.9 2091.9 L1233.9 2076.7 L1234.9 2103.8 L1236.2 2054.8 L1237.1 2065.0 L1237.9 2090.2 L1238.7 2076.2 L1239.6 2111.8 L1240.5 2068.6 L1241.5 2054.8 L1242.9 2091.9 L1243.7 2077.1 L1244.5 2085.7 L1245.3 2064.4 L1246.2 2058.8 L1247.2 2072.0 L1248.2 2091.9 L1249.0 2073.5 L1249.9 2092.9 L1250.8 2103.8 L1251.7 2067.4 L1252.5 2024.4 L1253.5 2052.6 L1254.5 2068.6 L1255.4 2054.8 L1256.3 2063.8 L1257.2 2090.8 L1258.1 2097.2 L1259.4 2061.5 L1260.4 2074.6 L1261.4 2111.8 L1262.3 2095.8 L1263.2 2109.0 L1264.0 2119.7 L1264.9 2090.8 L1265.8 2106.9 L1266.7 2111.8 L1267.7 2083.3 L1268.7 2054.8 L1269.6 2060.8 L1270.4 2091.8 L1271.3 2085.3 L1272.6 2019.1 L1273.6 2050.1 L1274.6 2065.4 L1275.5 2045.3 L1276.4 2052.7 L1277.3 2033.7 L1278.6 2070.7 L1279.5 2056.8 L1280.4 2061.1 L1281.2 2045.6 L1282.1 2045.5 L1282.9 2063.9 L1283.7 2058.2 L1284.6 2082.6 L1285.4 2056.2 L1286.3 2066.3 L1287.2 2044.3 L1288.2 2039.9 L1289.2 2033.7 L1290.1 2053.6 L1290.9 2082.5 L1291.8 2111.8 L1292.8 2061.8 L1293.8 2024.4 L1294.8 2044.0 L1295.8 2081.3 L1296.7 2069.0 L1297.6 2096.2 L1298.4 2103.8 L1299.3 2057.4 L1300.2 2078.0 L1301.1 2023.1 L1302.0 2047.1 L1302.9 2082.8 L1303.7 2103.8 L1304.7 2086.8 L1305.7 2132.9 L1306.7 2073.7 L1307.7 2042.9 L1308.6 2066.0 L1309.5 2095.2 L1310.4 2097.2 L1311.4 2065.2 L1312.3 2044.3 L1313.7 2111.8 L1314.7 2054.0 L1315.7 2070.7 L1316.6 2041.3 L1317.6 2012.5 L1318.6 2034.6 L1319.6 2085.3 L1320.6 2033.8 L1321.6 2009.8 L1322.5 2028.2 L1323.4 2070.1 L1324.3 2121.0" fill="none" stroke="#e0951a" stroke-width="1.9" stroke-linejoin="round" stroke-linecap="butt"/>
<path d="M683.5 2119.3 L687.4 2173.6 L690.3 2090.2 L690.3 2212.0" fill="none" stroke="#2e8b36" stroke-width="1.9" stroke-linejoin="round" stroke-linecap="butt"/>
<path d="M704.5 2214.4 L704.9 2070.8 L705.8 2071.5 L706.8 2119.3 L707.8 2018.4 L708.8 2027.2 L709.7 2041.7 L710.7 2024.9 L711.7 2033.3 L712.6 1997.1 L713.6 2036.2 L714.6 2051.4 L715.5 2046.0 L716.5 2047.8 L717.5 2041.7 L718.5 2055.5 L719.4 2065.6 L720.4 2086.3 L721.4 2070.8 L722.3 2079.5 L723.3 2061.1 L724.3 2071.5 L725.2 2084.8 L726.2 2077.8 L727.2 2072.7 L728.2 2087.6 L729.1 2111.5 L730.0 2110.4 L731.0 2095.9 L732.0 2094.6 L733.0 2087.3 L734.0 2081.3 L735.0 2089.4 L736.0 2078.7 L737.9 2041.6 L739.9 2089.3 L741.9 2102.5 L742.8 2068.8 L743.7 2090.4 L744.6 2087.9 L746.5 2044.3 L747.4 2051.7 L748.3 2076.0 L749.2 2080.0 L750.2 2067.3 L751.2 2078.7 L752.0 2050.3 L752.9 2055.8 L753.8 2019.2 L754.6 2034.2 L755.5 2054.5 L756.3 2042.9 L757.1 2064.1 L758.4 2024.4 L759.4 2018.4 L760.4 2028.0 L761.4 2014.7 L762.4 1980.8 L763.4 2004.4 L764.4 2023.5 L765.4 2021.5 L766.4 2068.1 L767.4 2017.4 L768.4 2000.6 L769.4 2015.8 L770.3 2029.9 L771.3 2021.0 L772.3 2043.0 L773.3 2026.0 L774.3 2025.8 L777.0 2009.9 L777.8 2025.3 L778.7 2034.4 L779.6 2040.3 L780.4 2028.7 L781.3 2044.7 L782.1 2040.5 L782.9 2070.7 L785.6 2035.0 L787.5 1990.1 L790.2 2036.3 L791.2 2031.8 L792.2 2017.8 L793.1 2031.3 L793.9 2035.6 L794.8 2039.0 L796.1 2077.4 L797.0 2049.1 L797.9 2043.8 L798.8 2036.3 L799.8 1987.7 L800.8 2010.3 L801.8 1961.0 L802.8 1929.2 L803.6 1945.4 L804.5 1969.6 L805.4 1976.8 L806.4 1956.0 L807.4 1955.7 L808.2 1936.3 L809.1 1909.4 L810.7 1978.1 L811.6 1997.2 L812.5 2053.1 L813.3 2078.7 L814.2 2018.9 L815.1 2059.5 L816.0 2044.3 L817.0 2020.2 L818.0 2072.1 L818.8 2057.4 L819.6 2056.7 L820.4 2048.2 L821.3 2029.7 L823.9 1935.8 L824.9 2004.2 L825.9 2053.5 L826.8 2032.3 L827.7 2025.2 L828.5 2003.3 L829.4 2024.6 L830.2 2033.8 L831.0 2027.6 L831.9 2028.4 L832.7 2023.8 L833.5 2036.6 L834.3 2029.4 L835.2 2049.6 L836.0 2032.5 L836.9 2032.6 L837.8 2007.2 L838.7 2020.7 L839.6 2036.4 L840.4 2052.2 L841.3 2026.6 L842.1 2038.7 L842.9 2022.2 L843.8 2012.5 L844.7 2019.9 L845.7 2040.8 L846.7 2029.0 L847.7 2053.5 L849.0 1991.4 L849.9 1999.4 L850.8 2017.5 L851.7 2025.8 L852.7 1999.0 L853.7 1974.2 L854.6 1992.8 L855.4 2016.1 L856.3 2031.1 L857.1 2028.0 L858.0 2028.0 L858.8 2025.3 L859.6 2020.5 L860.5 2024.3 L861.4 2034.3 L862.3 2037.7 L865.6 2066.8 L866.5 2013.5 L867.3 2026.7 L868.2 2028.4 L869.1 1999.6 L869.9 2021.5 L870.7 1984.8 L871.5 1978.1 L872.3 1979.3 L873.5 1998.8 L874.6 2031.8 L876.2 2039.5 L877.2 2039.7 L878.2 2046.1 L879.3 2067.3 L880.8 2014.8 L881.8 2018.7 L882.9 2033.4 L883.9 2034.9 L884.9 2017.8 L886.0 2027.2 L887.0 2010.2 L888.5 2041.0 L889.6 2017.6 L890.6 2021.1 L891.6 1994.7 L892.6 1997.6 L893.7 1999.9 L894.7 2000.9 L895.7 1998.3 L896.8 2000.0 L897.8 1997.8 L899.0 1981.8 L900.1 1960.7 L901.7 2028.7 L902.6 1992.9 L903.6 1994.9 L904.6 1978.5 L905.5 1982.4 L906.5 1972.9 L907.6 1980.2 L908.6 1956.1 L909.8 1971.7 L910.9 1999.3 L911.9 1977.3 L912.9 1983.8 L913.8 1971.1 L914.8 1963.8 L917.1 2037.9 L918.0 2019.5 L918.9 2031.0 L919.9 2008.3 L920.8 2021.2 L921.7 2002.4 L922.9 2012.0 L924.0 2033.3 L925.1 2019.2 L926.1 2021.3 L927.1 2005.5 L928.1 2013.3 L929.1 2028.6 L930.0 2023.3 L931.0 2047.2 L932.0 2015.8 L933.1 2024.9 L934.1 1990.1 L935.2 2011.3 L936.4 2041.0 L937.4 2022.4 L938.5 2030.1 L939.5 2007.1 L943.3 2081.2 L944.3 2046.6 L945.3 2051.6 L946.2 2037.0 L947.2 2044.1 L948.4 2024.4 L949.5 2016.3 L953.4 1973.1 L954.4 1982.6 L955.4 1995.7 L956.5 2004.0 L957.4 1992.9 L958.4 1995.6 L959.4 1987.4 L960.3 1980.8 L961.5 1988.6 L962.6 2008.6 L963.5 1980.1 L964.4 1997.9 L965.3 1982.3 L966.2 1996.5 L967.1 1972.2 L967.9 1982.2 L968.8 1960.7 L969.8 1948.1 L970.7 1952.3 L971.6 1937.9 L972.5 1946.1 L973.5 1931.4 L974.5 1928.3 L975.5 1948.8 L976.5 1971.6 L979.6 1909.8 L981.2 1880.4 L985.0 1925.2 L985.9 1884.2 L986.8 1905.0 L987.7 1881.8 L988.6 1899.4 L989.5 1864.7 L990.4 1851.1 L991.4 1869.8 L992.3 1886.8 L993.2 1874.7 L994.2 1909.7 L995.1 1914.4 L996.0 1875.4 L997.0 1880.0 L998.0 1867.4 L998.9 1875.8 L1002.8 1849.6 L1003.8 1852.5 L1004.9 1860.9 L1005.9 1865.0 L1006.8 1854.3 L1007.7 1853.4 L1008.7 1851.2 L1009.6 1850.4 L1010.5 1848.0 L1011.5 1837.9 L1012.4 1840.3 L1013.3 1832.6 L1014.3 1829.0 L1015.3 1829.5 L1016.2 1826.1 L1017.2 1819.7 L1018.1 1820.1 L1019.1 1825.8 L1020.1 1823.5 L1021.0 1827.4 L1021.9 1809.1 L1022.7 1814.4 L1023.6 1799.2 L1024.4 1796.0 L1025.3 1798.2 L1026.2 1794.2 L1027.0 1798.2 L1027.9 1794.5 L1028.7 1794.1 L1029.5 1790.9 L1030.3 1793.3 L1031.1 1789.9 L1031.9 1793.7 L1032.7 1789.4 L1033.5 1791.7 L1034.3 1789.3 L1035.1 1789.0 L1036.0 1775.8 L1036.8 1786.7 L1037.7 1773.7 L1038.5 1781.6 L1039.4 1772.9 L1040.3 1768.5 L1041.1 1762.6 L1042.0 1765.4 L1042.8 1760.8 L1043.7 1766.7 L1044.5 1759.1 L1045.4 1758.2 L1046.2 1760.7 L1047.1 1768.2 L1047.9 1773.6 L1048.8 1762.3 L1049.7 1761.3 L1050.5 1759.1 L1051.4 1757.8 L1052.2 1755.5 L1053.1 1750.5 L1054.0 1750.3 L1055.0 1754.1 L1056.0 1751.3 L1056.9 1755.6 L1057.7 1753.6 L1058.5 1756.4 L1059.3 1752.9 L1060.1 1756.4 L1060.9 1753.0 L1061.7 1755.3 L1062.5 1752.9 L1063.3 1753.1 L1064.6 1719.7 L1065.6 1710.6 L1066.5 1716.6 L1067.5 1708.8 L1068.5 1704.4 L1069.4 1702.3 L1070.4 1700.3 L1071.3 1698.3 L1072.3 1686.4 L1073.2 1689.8 L1074.0 1700.6 L1074.9 1704.4 L1075.7 1687.9 L1076.6 1685.9 L1077.4 1678.7 L1078.4 1682.3 L1079.4 1689.3 L1080.3 1684.3 L1081.3 1681.3 L1082.2 1687.6 L1083.2 1699.0 L1084.2 1695.3 L1085.1 1706.9 L1086.4 1737.7 L1087.4 1726.4 L1088.3 1733.6 L1089.3 1723.2 L1090.3 1722.3 L1091.1 1724.8 L1092.0 1737.7 L1092.8 1731.8 L1093.7 1743.7 L1094.5 1734.1 L1095.4 1747.9 L1096.2 1738.1 L1097.1 1742.9 L1097.9 1732.5 L1098.8 1740.1 L1099.7 1732.6 L1100.5 1727.4 L1101.4 1728.5 L1102.2 1732.4 L1103.1 1728.2 L1103.9 1733.0 L1104.8 1728.8 L1105.6 1734.0 L1106.5 1728.7 L1107.4 1736.0 L1108.2 1735.1 L1109.1 1732.5 L1109.9 1735.0 L1110.8 1733.4 L1111.6 1734.5 L1112.5 1732.5 L1113.3 1734.5 L1114.2 1731.7 L1115.0 1734.2 L1115.9 1732.6 L1116.8 1729.9 L1117.6 1732.7 L1118.5 1730.8 L1119.3 1733.4 L1120.2 1730.2 L1121.0 1732.0 L1121.9 1729.4 L1122.7 1731.7 L1123.6 1730.0 L1124.4 1719.5 L1125.2 1728.4 L1126.0 1717.4 L1126.8 1726.2 L1127.6 1716.2 L1128.4 1720.3 L1129.2 1713.8 L1130.0 1712.1 L1130.9 1718.8 L1131.7 1737.2 L1132.6 1742.8 L1133.5 1735.4 L1134.5 1739.6 L1135.4 1732.9 L1136.4 1732.6 L1137.2 1736.1 L1138.0 1741.0 L1138.8 1738.3 L1139.6 1745.6 L1140.4 1739.6 L1141.2 1746.8 L1142.0 1741.8 L1142.8 1750.5 L1143.7 1750.9 L1144.5 1754.5 L1145.4 1751.7 L1146.2 1755.7 L1147.1 1751.6 L1147.9 1754.1 L1148.8 1751.4 L1149.7 1754.9 L1150.5 1755.6 L1151.4 1749.5 L1152.2 1752.8 L1153.1 1748.5 L1153.9 1753.3 L1154.8 1747.1 L1155.6 1745.4 L1156.6 1731.8 L1157.6 1739.5 L1158.5 1731.2 L1159.5 1724.9 L1160.3 1738.3 L1161.2 1762.2 L1162.1 1738.3 L1162.9 1778.2 L1163.8 1757.3 L1164.6 1789.0 L1165.4 1767.5 L1166.2 1783.9 L1167.0 1767.6 L1167.8 1772.8 L1168.6 1757.8 L1169.4 1772.7 L1170.2 1749.0 L1171.0 1747.9 L1171.8 1736.8 L1172.6 1746.3 L1173.4 1733.3 L1174.2 1742.4 L1175.0 1733.3 L1175.8 1741.3 L1176.6 1731.9 L1177.4 1727.4 L1178.3 1728.5 L1179.1 1733.5 L1180.0 1728.0 L1180.9 1733.3 L1181.7 1731.4 L1182.6 1735.1 L1183.4 1729.5 L1184.2 1732.9 L1185.0 1727.6 L1185.8 1732.4 L1186.6 1726.4 L1187.4 1730.0 L1188.2 1725.8 L1189.0 1724.9 L1189.8 1724.3 L1190.7 1726.5 L1191.5 1725.4 L1192.4 1727.1 L1193.2 1724.5 L1194.1 1727.4 L1195.1 1718.0 L1196.0 1723.3 L1197.0 1709.1 L1197.9 1706.9 L1198.8 1709.3 L1199.7 1715.1 L1200.5 1708.5 L1201.4 1716.3 L1202.2 1709.7 L1203.1 1717.2 L1203.9 1719.3 L1204.8 1723.7 L1205.6 1718.9 L1206.5 1727.1 L1207.4 1721.0 L1208.2 1727.4 L1209.1 1716.7 L1209.9 1722.3 L1210.8 1715.0 L1211.6 1721.7 L1212.5 1712.1 L1213.3 1706.9 L1214.1 1704.9 L1214.9 1707.8 L1215.7 1704.4 L1216.5 1707.8 L1217.3 1704.4 L1218.1 1706.0 L1218.9 1704.0 L1219.7 1704.4 L1220.5 1700.3 L1221.3 1702.8 L1222.1 1699.6 L1222.9 1703.2 L1223.8 1698.6 L1224.6 1702.0 L1225.4 1697.0 L1226.2 1696.7 L1227.1 1697.1 L1228.1 1700.9 L1229.0 1698.2 L1230.0 1701.8 L1230.8 1698.3 L1231.6 1700.9 L1232.4 1697.5 L1233.2 1701.0 L1234.0 1696.6 L1234.8 1700.5 L1235.6 1695.6 L1236.4 1696.7 L1237.3 1692.5 L1238.1 1695.6 L1239.0 1691.4 L1239.8 1694.4 L1240.7 1691.6 L1241.5 1691.5 L1242.4 1691.3 L1243.2 1694.2 L1244.1 1692.3 L1245.0 1694.1 L1245.8 1692.1 L1246.7 1694.1 L1249.2 1663.3 L1250.2 1666.0 L1251.2 1681.2 L1252.1 1671.8 L1253.1 1691.5 L1253.9 1684.8 L1254.7 1690.2 L1255.5 1682.3 L1256.3 1689.1 L1257.1 1680.7 L1257.9 1687.6 L1258.7 1679.2 L1259.5 1676.2 L1260.3 1676.8 L1261.2 1687.0 L1262.1 1680.8 L1262.9 1690.5 L1263.8 1685.4 L1264.6 1694.1 L1265.5 1693.4 L1266.3 1694.9 L1267.2 1693.5 L1268.0 1695.5 L1268.9 1692.8 L1269.7 1694.5 L1270.6 1693.0 L1271.5 1694.6 L1272.3 1694.1 L1273.1 1694.8 L1273.9 1698.5 L1274.7 1694.0 L1275.5 1697.4 L1276.3 1695.1 L1277.1 1698.2 L1277.9 1696.1 L1278.7 1699.2 L1279.6 1694.6 L1280.4 1697.3 L1281.3 1691.8 L1282.1 1696.3 L1283.0 1688.7 L1283.8 1689.0 L1284.7 1687.6 L1285.6 1688.5 L1286.4 1686.1 L1287.3 1688.9 L1288.1 1686.0 L1289.0 1686.4 L1289.8 1685.8 L1290.7 1692.6 L1291.5 1689.6 L1292.4 1694.3 L1293.2 1689.0 L1294.1 1696.7 L1295.0 1689.0 L1295.8 1691.7 L1296.7 1684.2 L1297.5 1689.7 L1298.4 1685.5 L1299.2 1681.3 L1300.2 1684.2 L1301.2 1692.2 L1302.1 1688.3 L1303.1 1696.7 L1303.9 1696.9 L1304.7 1701.3 L1305.5 1696.6 L1306.3 1700.4 L1307.1 1697.9 L1307.9 1701.0 L1308.7 1698.8 L1309.5 1701.8 L1310.3 1695.4 L1311.1 1698.8 L1311.9 1694.7 L1312.7 1697.9 L1313.5 1694.4 L1314.3 1698.8 L1315.1 1693.2 L1315.9 1691.5 L1316.8 1688.8 L1317.6 1691.7 L1318.5 1688.4 L1319.3 1691.7 L1320.2 1687.7 L1321.0 1689.0 L1322.0 1691.4 L1322.9 1698.3 L1323.9 1693.8 L1324.9 1699.2" fill="none" stroke="#2e8b36" stroke-width="1.9" stroke-linejoin="round" stroke-linecap="butt"/>
<path d="M625.9 2086.3 L626.7 1808.8 L628.2 1905.8 L629.2 1889.1 L630.2 1913.6 L631.7 1859.3 L634.0 1905.8 L635.0 1906.6 L636.0 1908.6 L637.0 1903.9 L637.9 1910.6 L638.9 1919.9 L639.9 1925.2 L640.8 1922.6 L641.8 1934.1 L642.8 1944.7 L643.7 1911.7 L644.7 1916.1 L645.7 1930.1 L646.7 1935.0 L647.6 1911.7 L648.6 1932.6 L649.6 1949.4 L650.5 1956.3 L651.5 1944.3 L652.5 1951.2 L653.4 1940.8 L654.4 1948.4 L655.4 1971.8 L656.4 1950.0 L657.3 1933.0 L658.3 1944.5 L659.3 1957.4 L660.2 1964.1 L661.2 1956.3 L662.2 1958.8 L663.1 1954.4 L664.1 1954.2 L665.1 1958.1 L666.1 1953.8 L667.0 1952.4 L667.8 1954.7 L668.6 1956.5 L669.5 1957.4 L670.3 1958.9 L671.1 1959.4 L671.9 1967.9 L672.9 1917.5 L673.8 1941.1 L674.8 1956.3 L676.7 1849.6 L678.7 1938.8 L679.6 1934.4 L680.6 1935.4 L681.6 1931.1 L682.6 1929.5 L683.5 1931.1 L684.5 1917.5 L685.5 1926.6 L686.4 1929.8 L687.4 1931.9 L688.4 1940.8 L689.3 1928.0 L690.3 1930.1 L691.3 1929.1 L695.2 1905.8 L696.1 1914.3 L697.1 1921.1 L698.1 1925.2 L699.1 1919.2 L700.0 1923.6 L701.0 1917.5 L702.0 1915.5 L702.9 1928.1 L703.9 1944.0 L704.9 1937.2 L705.8 1954.4 L706.8 1941.3 L707.8 1936.9 L708.8 1946.7 L709.7 1955.1 L710.7 1971.8 L711.7 1956.9 L712.6 1957.8 L713.6 1944.7 L714.6 1949.3 L715.5 1966.1 L716.5 1959.5 L717.5 1973.8 L718.3 1956.7 L719.1 1958.1 L719.9 1949.7 L720.7 1952.3 L721.5 1942.8 L722.3 1931.1 L725.2 1964.1 L726.2 1966.7 L727.2 1977.0 L728.2 1968.4 L729.1 1979.6 L730.0 1970.4 L730.9 1970.9 L731.8 1963.0 L732.6 1954.3 L735.3 1982.1 L736.2 1975.9 L737.1 1981.4 L737.9 1970.2 L738.8 1974.1 L739.7 1984.4 L740.6 1988.7 L741.5 1988.7 L742.3 1993.1 L743.2 1995.3 L744.1 1995.3 L744.9 2003.2 L745.7 2001.0 L746.5 2013.9 L747.4 1999.0 L748.3 2001.3 L749.2 1988.7 L750.2 1995.6 L751.2 2007.2 L752.0 1990.9 L752.9 1994.2 L753.8 1974.2 L754.7 1982.8 L755.6 1989.7 L756.5 1998.0 L757.3 1976.0 L758.2 1988.5 L759.1 1979.5 L760.0 1970.7 L760.9 1971.8 L761.7 1961.0 L762.6 1967.2 L763.5 1973.3 L764.4 1962.3 L765.3 1965.2 L766.2 1972.7 L767.0 1968.9 L767.9 1970.7 L768.8 1976.4 L769.7 1988.7 L770.6 1977.5 L771.4 1984.1 L772.3 1974.2 L773.2 1978.4 L774.0 1988.8 L774.8 1983.9 L775.6 1995.3 L776.5 1992.9 L777.3 1995.2 L778.1 1991.5 L778.9 1988.7 L780.3 2016.5 L781.1 2004.7 L782.0 2007.9 L782.9 2003.3 L783.9 2003.9 L784.9 2006.8 L785.9 2004.6 L786.9 2008.6 L787.7 2005.6 L788.5 2005.9 L789.4 2003.0 L790.2 2000.6 L791.0 2002.8 L791.8 2008.2 L792.7 2004.2 L793.5 2011.2 L794.3 2014.9 L795.1 2026.2 L796.0 2022.8 L796.8 2036.3 L797.7 2028.3 L798.6 2032.2 L799.4 2023.1 L800.3 2028.1 L801.2 2035.1 L802.1 2045.6 L803.0 2030.9 L803.9 2031.4 L804.7 2023.1 L805.6 2027.3 L806.4 2031.2 L807.2 2030.4 L808.0 2037.7 L809.4 2000.6 L810.2 2011.5 L811.1 2026.0 L812.0 2036.3 L812.8 2015.7 L813.7 2024.8 L814.5 2008.8 L815.3 2009.9 L816.2 2006.0 L817.1 2014.6 L818.0 2021.8 L819.0 2001.8 L819.9 1995.3 L820.8 1986.8 L821.7 1996.0 L822.6 1967.6 L823.5 1978.7 L824.4 2012.2 L825.2 2031.1 L826.2 1991.8 L827.2 1986.1 L828.1 1981.9 L829.0 1985.8 L829.9 1968.9 L830.7 1988.2 L831.6 2000.1 L832.5 2011.2 L833.5 1998.3 L834.5 1991.4 L835.4 1992.5 L836.3 1999.8 L837.1 1994.0 L838.0 2002.5 L838.9 2013.7 L839.8 2017.8 L840.7 2007.3 L841.6 2009.1 L842.4 2005.9 L843.3 2003.9 L844.2 2012.6 L845.1 2020.5 L846.1 2011.6 L847.1 2015.2 L848.1 2005.4 L849.0 1998.0 L850.0 2002.2 L851.0 2018.1 L852.0 2010.6 L853.0 2027.1 L855.7 1904.1 L858.3 2008.6 L859.2 2006.0 L860.1 2007.5 L861.0 2000.6 L861.8 1998.8 L862.7 2001.9 L863.6 1992.7 L864.5 2000.4 L865.4 2009.2 L866.2 2015.2 L867.1 2003.8 L868.0 2006.4 L868.9 1998.0 L869.8 2000.4 L870.7 2014.5 L871.5 2021.8 L873.1 1994.7 L876.2 1965.4 L877.3 1973.0 L878.5 1996.3 L882.4 1937.6 L883.5 1960.0 L884.7 1991.6 L885.7 1973.2 L886.7 1980.5 L887.8 1974.6 L888.9 1962.2 L890.1 1953.0 L891.1 1975.1 L892.1 1986.4 L893.2 2004.0 L894.2 1985.9 L895.2 1992.9 L896.3 1983.9 L897.3 1990.5 L898.3 2000.2 L899.3 2007.1 L900.4 1995.7 L901.4 1996.3 L902.4 1982.4 L906.3 2014.8 L907.3 2001.0 L908.2 2010.0 L909.2 2005.4 L910.1 2019.4 L914.0 1951.5 L915.2 1974.8 L916.3 2014.8 L917.2 1980.1 L918.1 1983.1 L919.0 1972.3 L919.9 1978.8 L920.7 1958.6 L921.6 1964.8 L922.5 1945.3 L923.7 1960.9 L924.8 1983.9 L925.7 1962.5 L926.7 1971.9 L927.6 1956.6 L928.5 1962.9 L929.5 1932.9 L931.8 1982.4 L932.8 1983.1 L933.8 1990.1 L934.9 1993.2 L935.9 1974.7 L936.9 1980.2 L937.9 1959.2 L941.0 2005.5 L942.1 1997.2 L943.1 2001.1 L944.1 1990.1 L945.1 1986.2 L946.2 1993.6 L947.2 1982.4 L948.2 1986.6 L949.3 1993.0 L950.3 2004.0 L951.5 1989.5 L952.6 1974.6 L953.6 1979.7 L954.5 1992.6 L955.5 1986.6 L956.5 2000.9 L957.4 1986.8 L958.2 1992.5 L959.1 1979.8 L960.0 1985.8 L960.9 1976.7 L961.8 1982.0 L962.6 1960.7 L963.6 1969.7 L964.6 1992.9 L965.5 1975.7 L966.5 2004.0 L967.5 2003.1 L968.4 2006.3 L969.4 2003.5 L970.4 2005.5 L971.3 1987.0 L972.2 2000.6 L973.2 1981.1 L974.1 1993.3 L975.0 1987.0 L976.0 1979.6 L976.9 1983.1 L977.9 1977.5 L978.9 1970.0 L979.6 1926.8 L981.2 1976.2 L985.8 2007.1 L986.7 1994.8 L987.6 2000.8 L988.5 1988.2 L989.4 1997.3 L990.3 1985.2 L991.2 1979.3 L992.2 1985.8 L993.1 1999.0 L994.1 1990.2 L995.1 2004.0 L996.0 1988.7 L997.0 1998.3 L998.0 1986.4 L998.9 1985.4 L1000.1 1969.1 L1001.3 1957.7 L1002.4 1959.2 L1003.6 2007.1 L1004.6 1941.6 L1005.6 1900.5 L1006.5 1913.4 L1007.4 1920.6 L1008.6 1906.5 L1009.7 1892.8 L1010.9 1910.5 L1012.1 1929.9 L1013.1 1924.1 L1014.1 1928.7 L1015.2 1923.7 L1016.2 1928.5 L1017.2 1944.6 L1018.2 1951.5 L1019.2 1952.2 L1020.2 1959.0 L1021.1 1956.6 L1022.1 1962.3 L1023.3 1908.0 L1024.4 1869.6 L1025.3 1876.3 L1026.1 1886.5 L1027.0 1880.7 L1027.9 1890.9 L1028.7 1894.1 L1032.6 1804.4 L1036.4 1860.8 L1037.4 1862.6 L1038.3 1868.6 L1039.3 1865.9 L1040.3 1871.0 L1041.2 1873.1 L1042.2 1881.4 L1043.1 1877.9 L1044.1 1889.0 L1045.4 1909.5 L1046.3 1901.9 L1047.3 1907.3 L1048.3 1895.2 L1049.2 1894.1 L1050.0 1883.2 L1050.8 1890.8 L1051.6 1880.9 L1052.4 1887.5 L1053.2 1878.7 L1054.0 1888.5 L1054.8 1876.4 L1055.6 1876.2 L1056.4 1879.3 L1057.2 1890.4 L1058.0 1879.4 L1058.8 1890.2 L1059.6 1880.6 L1060.4 1890.8 L1061.2 1885.3 L1062.1 1896.7 L1063.1 1902.5 L1064.1 1912.8 L1065.1 1919.7 L1066.0 1904.0 L1066.8 1910.1 L1067.6 1897.2 L1068.5 1886.4 L1069.3 1887.6 L1070.1 1894.7 L1070.9 1889.8 L1071.7 1896.4 L1072.5 1890.9 L1073.3 1897.7 L1074.1 1891.1 L1074.9 1899.2 L1075.8 1903.4 L1076.7 1913.4 L1077.6 1906.2 L1078.6 1914.7 L1079.5 1918.5 L1080.4 1892.8 L1081.3 1902.8 L1082.2 1879.9 L1083.1 1876.2 L1084.0 1856.7 L1084.9 1870.0 L1085.8 1850.2 L1086.8 1864.5 L1087.7 1840.3 L1088.5 1850.9 L1089.4 1868.1 L1090.3 1859.7 L1091.1 1876.4 L1092.0 1864.7 L1092.8 1896.7 L1093.7 1879.7 L1094.5 1890.5 L1095.4 1867.4 L1096.2 1877.6 L1097.1 1858.0 L1097.9 1855.6 L1098.8 1858.2 L1099.7 1875.2 L1100.5 1870.0 L1101.4 1881.6 L1102.2 1875.5 L1103.1 1891.5 L1103.9 1878.3 L1104.8 1888.3 L1105.6 1868.8 L1106.5 1881.9 L1107.4 1867.0 L1108.2 1860.8 L1109.1 1863.4 L1109.9 1885.3 L1110.8 1873.1 L1111.6 1884.6 L1112.5 1876.6 L1113.3 1896.7 L1114.1 1883.1 L1114.9 1892.3 L1115.7 1880.1 L1116.5 1887.9 L1117.3 1876.1 L1118.1 1888.2 L1118.9 1875.3 L1119.7 1873.6 L1120.6 1874.0 L1121.5 1881.9 L1122.3 1876.9 L1123.2 1882.3 L1124.0 1879.2 L1124.9 1882.6 L1125.7 1877.6 L1126.6 1886.4 L1127.4 1886.4 L1128.7 1904.4 L1129.6 1897.9 L1130.4 1901.4 L1131.3 1897.7 L1132.1 1899.6 L1133.0 1896.4 L1133.8 1894.1 L1134.6 1888.9 L1135.4 1894.0 L1136.2 1888.2 L1137.1 1892.5 L1137.9 1887.1 L1138.7 1892.5 L1139.5 1886.4 L1140.3 1886.4 L1141.1 1885.9 L1141.9 1894.4 L1142.7 1889.4 L1143.5 1893.5 L1144.3 1889.3 L1145.1 1895.0 L1145.9 1889.6 L1146.7 1896.7 L1147.9 1912.1 L1148.8 1894.9 L1149.6 1906.8 L1150.4 1890.6 L1151.2 1896.9 L1152.0 1882.2 L1152.8 1897.4 L1153.6 1875.3 L1154.4 1873.6 L1155.2 1867.2 L1156.1 1870.5 L1156.9 1862.2 L1157.8 1868.6 L1158.6 1863.9 L1159.5 1860.8 L1160.3 1863.7 L1161.2 1875.5 L1162.1 1865.9 L1162.9 1879.8 L1163.8 1869.6 L1164.6 1886.4 L1165.5 1875.4 L1166.3 1883.9 L1167.2 1876.7 L1168.0 1880.5 L1168.9 1875.0 L1169.7 1871.0 L1170.5 1852.4 L1171.3 1863.7 L1172.1 1848.2 L1172.9 1863.4 L1173.8 1844.4 L1174.6 1855.0 L1175.4 1838.4 L1176.2 1835.1 L1177.0 1838.6 L1177.8 1850.8 L1178.6 1841.0 L1179.4 1855.8 L1180.2 1841.1 L1181.0 1855.5 L1181.8 1844.4 L1182.6 1860.8 L1183.4 1854.4 L1184.2 1860.5 L1185.0 1855.3 L1185.8 1857.6 L1186.6 1853.0 L1187.4 1856.1 L1188.2 1849.8 L1189.0 1850.5 L1189.8 1830.6 L1190.6 1845.4 L1191.4 1831.5 L1192.2 1843.6 L1193.0 1829.4 L1193.8 1835.2 L1194.6 1820.6 L1195.4 1819.7 L1196.2 1829.0 L1197.1 1842.2 L1197.9 1835.7 L1198.8 1851.5 L1199.7 1842.0 L1200.5 1860.8 L1201.4 1860.1 L1202.2 1864.3 L1203.1 1862.5 L1203.9 1864.5 L1204.8 1862.4 L1205.6 1865.9 L1206.4 1849.2 L1207.2 1863.4 L1208.0 1843.9 L1208.8 1857.6 L1209.6 1840.2 L1210.4 1852.6 L1211.2 1838.3 L1212.1 1835.1 L1212.9 1835.9 L1213.7 1848.7 L1214.5 1839.6 L1215.3 1850.9 L1216.1 1844.4 L1216.9 1849.8 L1217.7 1847.0 L1218.5 1855.6 L1219.3 1847.2 L1220.1 1851.7 L1220.9 1839.7 L1221.7 1848.3 L1222.5 1837.8 L1223.3 1845.5 L1224.1 1836.4 L1224.9 1835.1 L1225.7 1836.9 L1226.6 1841.9 L1227.4 1840.3 L1228.3 1845.3 L1229.1 1839.5 L1230.0 1847.9 L1230.8 1840.4 L1231.6 1846.8 L1232.4 1841.9 L1233.2 1846.6 L1234.0 1840.1 L1234.8 1844.4 L1235.6 1836.9 L1236.4 1837.7 L1237.3 1839.2 L1238.1 1850.7 L1239.0 1839.9 L1239.8 1851.7 L1240.7 1844.0 L1241.5 1852.7 L1242.4 1845.0 L1243.2 1853.1 L1244.1 1855.6 L1245.0 1846.3 L1245.8 1853.5 L1246.7 1842.8 L1247.5 1847.3 L1248.4 1840.3 L1249.2 1846.7 L1250.1 1836.2 L1250.9 1846.1 L1251.8 1835.1 L1252.6 1827.6 L1253.5 1835.2 L1254.4 1825.9 L1255.2 1833.5 L1256.1 1824.0 L1256.9 1830.9 L1257.8 1823.6 L1258.6 1827.6 L1259.5 1822.3 L1260.3 1810.6 L1261.2 1819.8 L1262.1 1812.7 L1262.9 1815.2 L1263.8 1807.5 L1264.6 1817.4 L1265.5 1808.0 L1266.3 1815.0 L1267.2 1804.4 L1268.0 1790.6 L1268.9 1796.8 L1269.7 1786.4 L1270.6 1791.6 L1271.5 1785.0 L1272.3 1778.7 L1273.2 1779.7 L1274.0 1794.1 L1274.9 1788.5 L1275.7 1799.1 L1276.6 1791.4 L1277.4 1809.5 L1278.2 1812.4 L1279.0 1818.5 L1279.8 1813.7 L1280.6 1819.5 L1281.4 1816.7 L1282.2 1820.4 L1283.0 1816.9 L1283.8 1824.9 L1284.7 1783.6 L1285.6 1806.2 L1286.4 1774.7 L1287.3 1789.2 L1288.1 1775.3 L1289.0 1755.6 L1289.9 1762.5 L1290.9 1777.5 L1291.9 1763.7 L1292.8 1783.8 L1293.8 1772.0 L1294.7 1776.9 L1295.7 1764.3 L1296.7 1760.8 L1297.6 1765.7 L1298.6 1796.3 L1299.6 1780.7 L1300.5 1809.5 L1301.4 1801.5 L1302.2 1808.7 L1303.1 1801.5 L1303.9 1803.9 L1304.8 1799.2 L1305.6 1796.7 L1306.5 1796.3 L1307.4 1804.3 L1308.2 1798.1 L1309.1 1807.7 L1309.9 1800.8 L1310.8 1809.5 L1311.6 1811.5 L1312.5 1818.5 L1313.3 1812.5 L1314.2 1822.9 L1315.0 1814.9 L1315.9 1824.9 L1316.8 1814.1 L1317.6 1818.8 L1318.5 1806.9 L1319.3 1815.1 L1320.1 1823.5 L1320.9 1812.1 L1321.7 1832.0 L1322.5 1817.9 L1323.3 1836.1 L1324.1 1821.2 L1324.9 1840.3" fill="none" stroke="#c62d13" stroke-width="1.9" stroke-linejoin="round" stroke-linecap="butt"/>
</g>
<rect x="80.00" y="1573.40" width="1304.20" height="635.10" fill="none" stroke="#1b1b19" stroke-width="2.0"/>
<path d="M80.00 2179.80H86.80M1384.20 2179.80H1377.40M80.00 2082.15H86.80M1384.20 2082.15H1377.40M80.00 1984.50H86.80M1384.20 1984.50H1377.40M80.00 1886.85H86.80M1384.20 1886.85H1377.40M80.00 1789.20H86.80M1384.20 1789.20H1377.40M80.00 1691.55H86.80M1384.20 1691.55H1377.40M80.00 1593.90H86.80M1384.20 1593.90H1377.40M230.80 2208.50V2201.70M230.80 1573.40V1580.20M460.60 2208.50V2201.70M460.60 1573.40V1580.20M690.40 2208.50V2201.70M690.40 1573.40V1580.20M920.20 2208.50V2201.70M920.20 1573.40V1580.20M1150.00 2208.50V2201.70M1150.00 1573.40V1580.20M1379.80 2208.50V2201.70M1379.80 1573.40V1580.20" stroke="#1b1b19" stroke-width="1.8" fill="none"/>
<path d="M80.00 2201.46H84.80M1384.20 2201.46H1379.40M80.00 2194.93H84.80M1384.20 2194.93H1379.40M80.00 2189.26H84.80M1384.20 2189.26H1379.40M80.00 2184.27H84.80M1384.20 2184.27H1379.40M80.00 2150.40H84.80M1384.20 2150.40H1379.40M80.00 2133.21H84.80M1384.20 2133.21H1379.40M80.00 2121.01H84.80M1384.20 2121.01H1379.40M80.00 2111.55H84.80M1384.20 2111.55H1379.40M80.00 2103.81H84.80M1384.20 2103.81H1379.40M80.00 2097.28H84.80M1384.20 2097.28H1379.40M80.00 2091.61H84.80M1384.20 2091.61H1379.40M80.00 2086.62H84.80M1384.20 2086.62H1379.40M80.00 2052.75H84.80M1384.20 2052.75H1379.40M80.00 2035.56H84.80M1384.20 2035.56H1379.40M80.00 2023.36H84.80M1384.20 2023.36H1379.40M80.00 2013.90H84.80M1384.20 2013.90H1379.40M80.00 2006.16H84.80M1384.20 2006.16H1379.40M80.00 1999.63H84.80M1384.20 1999.63H1379.40M80.00 1993.96H84.80M1384.20 1993.96H1379.40M80.00 1988.97H84.80M1384.20 1988.97H1379.40M80.00 1955.10H84.80M1384.20 1955.10H1379.40M80.00 1937.91H84.80M1384.20 1937.91H1379.40M80.00 1925.71H84.80M1384.20 1925.71H1379.40M80.00 1916.25H84.80M1384.20 1916.25H1379.40M80.00 1908.51H84.80M1384.20 1908.51H1379.40M80.00 1901.98H84.80M1384.20 1901.98H1379.40M80.00 1896.31H84.80M1384.20 1896.31H1379.40M80.00 1891.32H84.80M1384.20 1891.32H1379.40M80.00 1857.45H84.80M1384.20 1857.45H1379.40M80.00 1840.26H84.80M1384.20 1840.26H1379.40M80.00 1828.06H84.80M1384.20 1828.06H1379.40M80.00 1818.60H84.80M1384.20 1818.60H1379.40M80.00 1810.86H84.80M1384.20 1810.86H1379.40M80.00 1804.33H84.80M1384.20 1804.33H1379.40M80.00 1798.66H84.80M1384.20 1798.66H1379.40M80.00 1793.67H84.80M1384.20 1793.67H1379.40M80.00 1759.80H84.80M1384.20 1759.80H1379.40M80.00 1742.61H84.80M1384.20 1742.61H1379.40M80.00 1730.41H84.80M1384.20 1730.41H1379.40M80.00 1720.95H84.80M1384.20 1720.95H1379.40M80.00 1713.21H84.80M1384.20 1713.21H1379.40M80.00 1706.68H84.80M1384.20 1706.68H1379.40M80.00 1701.01H84.80M1384.20 1701.01H1379.40M80.00 1696.02H84.80M1384.20 1696.02H1379.40M80.00 1662.15H84.80M1384.20 1662.15H1379.40M80.00 1644.96H84.80M1384.20 1644.96H1379.40M80.00 1632.76H84.80M1384.20 1632.76H1379.40M80.00 1623.30H84.80M1384.20 1623.30H1379.40M80.00 1615.56H84.80M1384.20 1615.56H1379.40M80.00 1609.03H84.80M1384.20 1609.03H1379.40M80.00 1603.36H84.80M1384.20 1603.36H1379.40M80.00 1598.37H84.80M1384.20 1598.37H1379.40" stroke="#1b1b19" stroke-width="1.6" fill="none"/>
<text transform="matrix(0.16735 0 0 0.18079 66.546 2178.823)" font-size="100" font-weight="normal" fill="#1b1b19">0</text>
<text transform="matrix(0.23068 0 0 0.26130 40.443 2189.545)" font-size="100" font-weight="normal" fill="#1b1b19">10</text>
<text transform="matrix(0.15076 0 0 0.18605 67.552 2081.350)" font-size="100" font-weight="normal" fill="#1b1b19">1</text>
<text transform="matrix(0.23068 0 0 0.26130 41.943 2091.895)" font-size="100" font-weight="normal" fill="#1b1b19">10</text>
<text transform="matrix(0.17561 0 0 0.18332 66.317 1983.700)" font-size="100" font-weight="normal" fill="#1b1b19">2</text>
<text transform="matrix(0.23068 0 0 0.26130 40.443 1994.245)" font-size="100" font-weight="normal" fill="#1b1b19">10</text>
<text transform="matrix(0.16873 0 0 0.18079 66.557 1885.873)" font-size="100" font-weight="normal" fill="#1b1b19">3</text>
<text transform="matrix(0.23068 0 0 0.26130 40.443 1896.595)" font-size="100" font-weight="normal" fill="#1b1b19">10</text>
<text transform="matrix(0.15876 0 0 0.18605 66.836 1788.400)" font-size="100" font-weight="normal" fill="#1b1b19">4</text>
<text transform="matrix(0.23068 0 0 0.26130 40.443 1798.945)" font-size="100" font-weight="normal" fill="#1b1b19">10</text>
<text transform="matrix(0.16873 0 0 0.18345 66.524 1690.571)" font-size="100" font-weight="normal" fill="#1b1b19">5</text>
<text transform="matrix(0.23068 0 0 0.26130 40.443 1701.295)" font-size="100" font-weight="normal" fill="#1b1b19">10</text>
<text transform="matrix(0.17338 0 0 0.18079 66.320 1592.923)" font-size="100" font-weight="normal" fill="#1b1b19">6</text>
<text transform="matrix(0.23068 0 0 0.26130 40.443 1603.645)" font-size="100" font-weight="normal" fill="#1b1b19">10</text>
<text transform="matrix(0.23939 0 0 0.25847 204.096 2232.348)" font-size="100" font-weight="normal" fill="#1b1b19">2016</text>
<text transform="matrix(0.24011 0 0 0.25847 433.892 2232.348)" font-size="100" font-weight="normal" fill="#1b1b19">2017</text>
<text transform="matrix(0.23934 0 0 0.25847 663.696 2232.348)" font-size="100" font-weight="normal" fill="#1b1b19">2018</text>
<text transform="matrix(0.23978 0 0 0.25847 893.494 2232.348)" font-size="100" font-weight="normal" fill="#1b1b19">2019</text>
<text transform="matrix(0.23885 0 0 0.25847 1123.299 2232.348)" font-size="100" font-weight="normal" fill="#1b1b19">2020</text>
<text transform="matrix(0.23994 0 0 0.25847 1353.093 2232.348)" font-size="100" font-weight="normal" fill="#1b1b19">2021</text>
<text transform="matrix(0.32061 0 0 0.33362 696.980 2266.874)" font-size="100" font-weight="normal" fill="#1b1b19">Time</text>
<text transform="matrix(0 -0.30952 0.33686 0 28.709 2012.539)" font-size="100" font-weight="normal" fill="#1b1b19">Number of Edges</text>
<path d="M104.0 2127.3H162.0" stroke="#2a1f7a" stroke-width="2"/>
<text transform="matrix(0.26029 0 0 0.27617 183.865 2137.100)" font-size="100" font-weight="normal" fill="#1b1b19">ETH</text>
<path d="M104.0 2168.5H162.0" stroke="#e0951a" stroke-width="2"/>
<text transform="matrix(0.26023 0 0 0.27617 183.865 2178.300)" font-size="100" font-weight="normal" fill="#1b1b19">BNB</text>
<path d="M292.1 2127.3H350.1" stroke="#2e8b36" stroke-width="2"/>
<text transform="matrix(0.25514 0 0 0.26836 371.532 2136.838)" font-size="100" font-weight="normal" fill="#1b1b19">USDT</text>
<path d="M292.1 2168.5H350.1" stroke="#c62d13" stroke-width="2"/>
<text transform="matrix(0.25971 0 0 0.27617 371.370 2178.300)" font-size="100" font-weight="normal" fill="#1b1b19">LNK</text>
</svg>
</body></html>
